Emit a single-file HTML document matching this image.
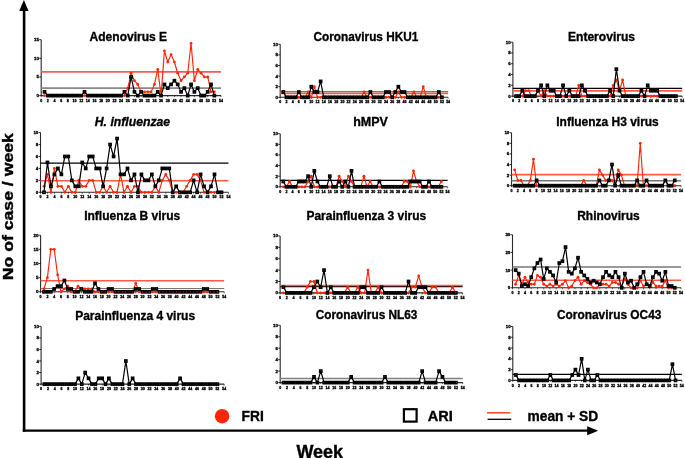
<!DOCTYPE html><html><head><meta charset="utf-8"><style>html,body{margin:0;padding:0;background:#fff;width:685px;height:458px;overflow:hidden}svg{display:block;font-family:"Liberation Sans",sans-serif;will-change:transform}.tl{opacity:0.999;will-change:transform}</style></head><body>
<svg width="685" height="458" viewBox="0 0 685 458">
<rect width="685" height="458" fill="#fff"/>
<path d="M24.1 9 V431.7" fill="none" stroke="#000" stroke-width="2.6"/>
<path d="M22.8 430.6 H589" fill="none" stroke="#000" stroke-width="2.1"/>
<path d="M23.9 0 L28.6 11 L19.2 11 Z" fill="#000"/>
<path d="M598.2 430.7 L587.2 426.2 L587.2 435.2 Z" fill="#000"/>
<text transform="translate(13.2 206.7) rotate(-90)" text-anchor="middle" font-weight="bold" stroke="#000" stroke-width="0.4" font-size="14.6" textLength="147" lengthAdjust="spacingAndGlyphs">No of case / week</text>
<text x="296.5" y="457.6" font-weight="bold" font-size="17.6" stroke="#000" stroke-width="0.4" textLength="46.6" lengthAdjust="spacingAndGlyphs">Week</text>
<circle cx="222.1" cy="416.2" r="7.25" fill="#ff2608"/>
<text x="241.6" y="420.8" font-weight="bold" font-size="14.2" stroke="#000" stroke-width="0.35" textLength="22.2" lengthAdjust="spacingAndGlyphs">FRI</text>
<rect x="403.9" y="409.2" width="12.7" height="12.4" fill="none" stroke="#000" stroke-width="2.2"/>
<text x="427.8" y="420.8" font-weight="bold" font-size="14.2" stroke="#000" stroke-width="0.35" textLength="25" lengthAdjust="spacingAndGlyphs">ARI</text>
<line x1="487" y1="412.8" x2="510.2" y2="412.8" stroke="#ff2608" stroke-width="1.3"/>
<line x1="487.6" y1="419.3" x2="511.3" y2="419.3" stroke="#000" stroke-width="1.3"/>
<text x="527.6" y="420.6" font-weight="bold" font-size="14.2" stroke="#000" stroke-width="0.35" textLength="70.5" lengthAdjust="spacingAndGlyphs">mean + SD</text>
<g><text x="89.6" y="40.7" font-weight="bold" font-size="12.5" stroke="#000" stroke-width="0.35" textLength="77.5" lengthAdjust="spacingAndGlyphs">Adenovirus E</text><path d="M41.2 39.65 V95.6 H221.02" fill="none" stroke="#2a2a2a" stroke-width="1.1"/><line x1="39.2" y1="95.6" x2="41.2" y2="95.6" stroke="#000" stroke-width="0.8"/><text x="39" y="97.1" font-size="4.4" font-weight="bold" stroke="#000" stroke-width="0.3" text-anchor="end">0</text><line x1="39.2" y1="76.95" x2="41.2" y2="76.95" stroke="#000" stroke-width="0.8"/><text x="39" y="78.45" font-size="4.4" font-weight="bold" stroke="#000" stroke-width="0.3" text-anchor="end">5</text><line x1="39.2" y1="58.3" x2="41.2" y2="58.3" stroke="#000" stroke-width="0.8"/><text x="39" y="59.8" font-size="4.4" font-weight="bold" stroke="#000" stroke-width="0.3" text-anchor="end">10</text><line x1="39.2" y1="39.65" x2="41.2" y2="39.65" stroke="#000" stroke-width="0.8"/><text x="39" y="41.15" font-size="4.4" font-weight="bold" stroke="#000" stroke-width="0.3" text-anchor="end">15</text><line x1="41.2" y1="95.6" x2="41.2" y2="97.1" stroke="#000" stroke-width="0.6"/><text x="41.2" y="101.7" font-size="3.6" font-weight="bold" stroke="#000" stroke-width="0.3" text-anchor="middle">0</text><line x1="47.86" y1="95.6" x2="47.86" y2="97.1" stroke="#000" stroke-width="0.6"/><text x="47.86" y="101.7" font-size="3.6" font-weight="bold" stroke="#000" stroke-width="0.3" text-anchor="middle">2</text><line x1="54.52" y1="95.6" x2="54.52" y2="97.1" stroke="#000" stroke-width="0.6"/><text x="54.52" y="101.7" font-size="3.6" font-weight="bold" stroke="#000" stroke-width="0.3" text-anchor="middle">4</text><line x1="61.18" y1="95.6" x2="61.18" y2="97.1" stroke="#000" stroke-width="0.6"/><text x="61.18" y="101.7" font-size="3.6" font-weight="bold" stroke="#000" stroke-width="0.3" text-anchor="middle">6</text><line x1="67.84" y1="95.6" x2="67.84" y2="97.1" stroke="#000" stroke-width="0.6"/><text x="67.84" y="101.7" font-size="3.6" font-weight="bold" stroke="#000" stroke-width="0.3" text-anchor="middle">8</text><line x1="74.5" y1="95.6" x2="74.5" y2="97.1" stroke="#000" stroke-width="0.6"/><text x="74.5" y="101.7" font-size="3.6" font-weight="bold" stroke="#000" stroke-width="0.3" text-anchor="middle">10</text><line x1="81.16" y1="95.6" x2="81.16" y2="97.1" stroke="#000" stroke-width="0.6"/><text x="81.16" y="101.7" font-size="3.6" font-weight="bold" stroke="#000" stroke-width="0.3" text-anchor="middle">12</text><line x1="87.82" y1="95.6" x2="87.82" y2="97.1" stroke="#000" stroke-width="0.6"/><text x="87.82" y="101.7" font-size="3.6" font-weight="bold" stroke="#000" stroke-width="0.3" text-anchor="middle">14</text><line x1="94.48" y1="95.6" x2="94.48" y2="97.1" stroke="#000" stroke-width="0.6"/><text x="94.48" y="101.7" font-size="3.6" font-weight="bold" stroke="#000" stroke-width="0.3" text-anchor="middle">16</text><line x1="101.14" y1="95.6" x2="101.14" y2="97.1" stroke="#000" stroke-width="0.6"/><text x="101.14" y="101.7" font-size="3.6" font-weight="bold" stroke="#000" stroke-width="0.3" text-anchor="middle">18</text><line x1="107.8" y1="95.6" x2="107.8" y2="97.1" stroke="#000" stroke-width="0.6"/><text x="107.8" y="101.7" font-size="3.6" font-weight="bold" stroke="#000" stroke-width="0.3" text-anchor="middle">20</text><line x1="114.46" y1="95.6" x2="114.46" y2="97.1" stroke="#000" stroke-width="0.6"/><text x="114.46" y="101.7" font-size="3.6" font-weight="bold" stroke="#000" stroke-width="0.3" text-anchor="middle">22</text><line x1="121.12" y1="95.6" x2="121.12" y2="97.1" stroke="#000" stroke-width="0.6"/><text x="121.12" y="101.7" font-size="3.6" font-weight="bold" stroke="#000" stroke-width="0.3" text-anchor="middle">24</text><line x1="127.78" y1="95.6" x2="127.78" y2="97.1" stroke="#000" stroke-width="0.6"/><text x="127.78" y="101.7" font-size="3.6" font-weight="bold" stroke="#000" stroke-width="0.3" text-anchor="middle">26</text><line x1="134.44" y1="95.6" x2="134.44" y2="97.1" stroke="#000" stroke-width="0.6"/><text x="134.44" y="101.7" font-size="3.6" font-weight="bold" stroke="#000" stroke-width="0.3" text-anchor="middle">28</text><line x1="141.1" y1="95.6" x2="141.1" y2="97.1" stroke="#000" stroke-width="0.6"/><text x="141.1" y="101.7" font-size="3.6" font-weight="bold" stroke="#000" stroke-width="0.3" text-anchor="middle">30</text><line x1="147.76" y1="95.6" x2="147.76" y2="97.1" stroke="#000" stroke-width="0.6"/><text x="147.76" y="101.7" font-size="3.6" font-weight="bold" stroke="#000" stroke-width="0.3" text-anchor="middle">32</text><line x1="154.42" y1="95.6" x2="154.42" y2="97.1" stroke="#000" stroke-width="0.6"/><text x="154.42" y="101.7" font-size="3.6" font-weight="bold" stroke="#000" stroke-width="0.3" text-anchor="middle">34</text><line x1="161.08" y1="95.6" x2="161.08" y2="97.1" stroke="#000" stroke-width="0.6"/><text x="161.08" y="101.7" font-size="3.6" font-weight="bold" stroke="#000" stroke-width="0.3" text-anchor="middle">36</text><line x1="167.74" y1="95.6" x2="167.74" y2="97.1" stroke="#000" stroke-width="0.6"/><text x="167.74" y="101.7" font-size="3.6" font-weight="bold" stroke="#000" stroke-width="0.3" text-anchor="middle">38</text><line x1="174.4" y1="95.6" x2="174.4" y2="97.1" stroke="#000" stroke-width="0.6"/><text x="174.4" y="101.7" font-size="3.6" font-weight="bold" stroke="#000" stroke-width="0.3" text-anchor="middle">40</text><line x1="181.06" y1="95.6" x2="181.06" y2="97.1" stroke="#000" stroke-width="0.6"/><text x="181.06" y="101.7" font-size="3.6" font-weight="bold" stroke="#000" stroke-width="0.3" text-anchor="middle">42</text><line x1="187.72" y1="95.6" x2="187.72" y2="97.1" stroke="#000" stroke-width="0.6"/><text x="187.72" y="101.7" font-size="3.6" font-weight="bold" stroke="#000" stroke-width="0.3" text-anchor="middle">44</text><line x1="194.38" y1="95.6" x2="194.38" y2="97.1" stroke="#000" stroke-width="0.6"/><text x="194.38" y="101.7" font-size="3.6" font-weight="bold" stroke="#000" stroke-width="0.3" text-anchor="middle">46</text><line x1="201.04" y1="95.6" x2="201.04" y2="97.1" stroke="#000" stroke-width="0.6"/><text x="201.04" y="101.7" font-size="3.6" font-weight="bold" stroke="#000" stroke-width="0.3" text-anchor="middle">48</text><line x1="207.7" y1="95.6" x2="207.7" y2="97.1" stroke="#000" stroke-width="0.6"/><text x="207.7" y="101.7" font-size="3.6" font-weight="bold" stroke="#000" stroke-width="0.3" text-anchor="middle">50</text><line x1="214.36" y1="95.6" x2="214.36" y2="97.1" stroke="#000" stroke-width="0.6"/><text x="214.36" y="101.7" font-size="3.6" font-weight="bold" stroke="#000" stroke-width="0.3" text-anchor="middle">52</text><line x1="221.02" y1="95.6" x2="221.02" y2="97.1" stroke="#000" stroke-width="0.6"/><text x="221.02" y="101.7" font-size="3.6" font-weight="bold" stroke="#000" stroke-width="0.3" text-anchor="middle">54</text><line x1="41.2" y1="71.9" x2="221.02" y2="71.9" stroke="#ff5a48" stroke-width="1.6"/><line x1="41.2" y1="88.1" x2="221.02" y2="88.1" stroke="#888" stroke-width="1.7"/><polyline points="44.53,95.6 47.86,95.6 51.19,95.6 54.52,95.6 57.85,95.6 61.18,95.6 64.51,95.6 67.84,95.6 71.17,95.6 74.5,95.6 77.83,95.6 81.16,95.6 84.49,95.6 87.82,95.6 91.15,95.6 94.48,95.6 97.81,95.6 101.14,95.6 104.47,95.6 107.8,95.6 111.13,95.6 114.46,95.6 117.79,95.6 121.12,95.6 124.45,95.6 127.78,88.14 131.11,73.22 134.44,80.68 137.77,84.41 141.1,91.87 144.43,91.87 147.76,91.87 151.09,91.87 154.42,84.41 157.75,69.49 161.08,95.6 164.41,50.84 167.74,62.03 171.07,54.57 174.4,62.03 177.73,73.22 181.06,80.68 184.39,76.95 187.72,73.22 191.05,43.38 194.38,80.68 197.71,69.49 201.04,73.22 204.37,76.95 207.7,76.95 211.03,91.87 214.36,91.87" fill="none" stroke="#ff2608" stroke-width="1.15" stroke-linejoin="round"/><circle cx="44.53" cy="95.6" r="1.4" fill="#ff2608"/><circle cx="47.86" cy="95.6" r="1.4" fill="#ff2608"/><circle cx="51.19" cy="95.6" r="1.4" fill="#ff2608"/><circle cx="54.52" cy="95.6" r="1.4" fill="#ff2608"/><circle cx="57.85" cy="95.6" r="1.4" fill="#ff2608"/><circle cx="61.18" cy="95.6" r="1.4" fill="#ff2608"/><circle cx="64.51" cy="95.6" r="1.4" fill="#ff2608"/><circle cx="67.84" cy="95.6" r="1.4" fill="#ff2608"/><circle cx="71.17" cy="95.6" r="1.4" fill="#ff2608"/><circle cx="74.5" cy="95.6" r="1.4" fill="#ff2608"/><circle cx="77.83" cy="95.6" r="1.4" fill="#ff2608"/><circle cx="81.16" cy="95.6" r="1.4" fill="#ff2608"/><circle cx="84.49" cy="95.6" r="1.4" fill="#ff2608"/><circle cx="87.82" cy="95.6" r="1.4" fill="#ff2608"/><circle cx="91.15" cy="95.6" r="1.4" fill="#ff2608"/><circle cx="94.48" cy="95.6" r="1.4" fill="#ff2608"/><circle cx="97.81" cy="95.6" r="1.4" fill="#ff2608"/><circle cx="101.14" cy="95.6" r="1.4" fill="#ff2608"/><circle cx="104.47" cy="95.6" r="1.4" fill="#ff2608"/><circle cx="107.8" cy="95.6" r="1.4" fill="#ff2608"/><circle cx="111.13" cy="95.6" r="1.4" fill="#ff2608"/><circle cx="114.46" cy="95.6" r="1.4" fill="#ff2608"/><circle cx="117.79" cy="95.6" r="1.4" fill="#ff2608"/><circle cx="121.12" cy="95.6" r="1.4" fill="#ff2608"/><circle cx="124.45" cy="95.6" r="1.4" fill="#ff2608"/><circle cx="127.78" cy="88.14" r="1.4" fill="#ff2608"/><circle cx="131.11" cy="73.22" r="1.4" fill="#ff2608"/><circle cx="134.44" cy="80.68" r="1.4" fill="#ff2608"/><circle cx="137.77" cy="84.41" r="1.4" fill="#ff2608"/><circle cx="141.1" cy="91.87" r="1.4" fill="#ff2608"/><circle cx="144.43" cy="91.87" r="1.4" fill="#ff2608"/><circle cx="147.76" cy="91.87" r="1.4" fill="#ff2608"/><circle cx="151.09" cy="91.87" r="1.4" fill="#ff2608"/><circle cx="154.42" cy="84.41" r="1.4" fill="#ff2608"/><circle cx="157.75" cy="69.49" r="1.4" fill="#ff2608"/><circle cx="161.08" cy="95.6" r="1.4" fill="#ff2608"/><circle cx="164.41" cy="50.84" r="1.4" fill="#ff2608"/><circle cx="167.74" cy="62.03" r="1.4" fill="#ff2608"/><circle cx="171.07" cy="54.57" r="1.4" fill="#ff2608"/><circle cx="174.4" cy="62.03" r="1.4" fill="#ff2608"/><circle cx="177.73" cy="73.22" r="1.4" fill="#ff2608"/><circle cx="181.06" cy="80.68" r="1.4" fill="#ff2608"/><circle cx="184.39" cy="76.95" r="1.4" fill="#ff2608"/><circle cx="187.72" cy="73.22" r="1.4" fill="#ff2608"/><circle cx="191.05" cy="43.38" r="1.4" fill="#ff2608"/><circle cx="194.38" cy="80.68" r="1.4" fill="#ff2608"/><circle cx="197.71" cy="69.49" r="1.4" fill="#ff2608"/><circle cx="201.04" cy="73.22" r="1.4" fill="#ff2608"/><circle cx="204.37" cy="76.95" r="1.4" fill="#ff2608"/><circle cx="207.7" cy="76.95" r="1.4" fill="#ff2608"/><circle cx="211.03" cy="91.87" r="1.4" fill="#ff2608"/><circle cx="214.36" cy="91.87" r="1.4" fill="#ff2608"/><rect x="43.43" y="90.77" width="2.2" height="2.2" fill="#fff" stroke="#000" stroke-width="1.5"/><rect x="46.76" y="94.5" width="2.2" height="2.2" fill="#fff" stroke="#000" stroke-width="1.5"/><rect x="50.09" y="94.5" width="2.2" height="2.2" fill="#fff" stroke="#000" stroke-width="1.5"/><rect x="53.42" y="94.5" width="2.2" height="2.2" fill="#fff" stroke="#000" stroke-width="1.5"/><rect x="56.75" y="94.5" width="2.2" height="2.2" fill="#fff" stroke="#000" stroke-width="1.5"/><rect x="60.08" y="94.5" width="2.2" height="2.2" fill="#fff" stroke="#000" stroke-width="1.5"/><rect x="63.41" y="94.5" width="2.2" height="2.2" fill="#fff" stroke="#000" stroke-width="1.5"/><rect x="66.74" y="94.5" width="2.2" height="2.2" fill="#fff" stroke="#000" stroke-width="1.5"/><rect x="70.07" y="94.5" width="2.2" height="2.2" fill="#fff" stroke="#000" stroke-width="1.5"/><rect x="73.4" y="94.5" width="2.2" height="2.2" fill="#fff" stroke="#000" stroke-width="1.5"/><rect x="76.73" y="94.5" width="2.2" height="2.2" fill="#fff" stroke="#000" stroke-width="1.5"/><rect x="80.06" y="94.5" width="2.2" height="2.2" fill="#fff" stroke="#000" stroke-width="1.5"/><rect x="83.39" y="90.77" width="2.2" height="2.2" fill="#fff" stroke="#000" stroke-width="1.5"/><rect x="86.72" y="94.5" width="2.2" height="2.2" fill="#fff" stroke="#000" stroke-width="1.5"/><rect x="90.05" y="94.5" width="2.2" height="2.2" fill="#fff" stroke="#000" stroke-width="1.5"/><rect x="93.38" y="94.5" width="2.2" height="2.2" fill="#fff" stroke="#000" stroke-width="1.5"/><rect x="96.71" y="94.5" width="2.2" height="2.2" fill="#fff" stroke="#000" stroke-width="1.5"/><rect x="100.04" y="94.5" width="2.2" height="2.2" fill="#fff" stroke="#000" stroke-width="1.5"/><rect x="103.37" y="94.5" width="2.2" height="2.2" fill="#fff" stroke="#000" stroke-width="1.5"/><rect x="106.7" y="94.5" width="2.2" height="2.2" fill="#fff" stroke="#000" stroke-width="1.5"/><rect x="110.03" y="94.5" width="2.2" height="2.2" fill="#fff" stroke="#000" stroke-width="1.5"/><rect x="113.36" y="94.5" width="2.2" height="2.2" fill="#fff" stroke="#000" stroke-width="1.5"/><rect x="116.69" y="94.5" width="2.2" height="2.2" fill="#fff" stroke="#000" stroke-width="1.5"/><rect x="120.02" y="94.5" width="2.2" height="2.2" fill="#fff" stroke="#000" stroke-width="1.5"/><rect x="123.35" y="90.77" width="2.2" height="2.2" fill="#fff" stroke="#000" stroke-width="1.5"/><rect x="126.68" y="94.5" width="2.2" height="2.2" fill="#fff" stroke="#000" stroke-width="1.5"/><rect x="130.01" y="75.85" width="2.2" height="2.2" fill="#fff" stroke="#000" stroke-width="1.5"/><rect x="133.34" y="90.77" width="2.2" height="2.2" fill="#fff" stroke="#000" stroke-width="1.5"/><rect x="136.67" y="94.5" width="2.2" height="2.2" fill="#fff" stroke="#000" stroke-width="1.5"/><rect x="140" y="90.77" width="2.2" height="2.2" fill="#fff" stroke="#000" stroke-width="1.5"/><rect x="143.33" y="94.5" width="2.2" height="2.2" fill="#fff" stroke="#000" stroke-width="1.5"/><rect x="146.66" y="94.5" width="2.2" height="2.2" fill="#fff" stroke="#000" stroke-width="1.5"/><rect x="149.99" y="94.5" width="2.2" height="2.2" fill="#fff" stroke="#000" stroke-width="1.5"/><rect x="153.32" y="94.5" width="2.2" height="2.2" fill="#fff" stroke="#000" stroke-width="1.5"/><rect x="156.65" y="90.77" width="2.2" height="2.2" fill="#fff" stroke="#000" stroke-width="1.5"/><rect x="159.98" y="94.5" width="2.2" height="2.2" fill="#fff" stroke="#000" stroke-width="1.5"/><rect x="163.31" y="83.31" width="2.2" height="2.2" fill="#fff" stroke="#000" stroke-width="1.5"/><rect x="166.64" y="87.04" width="2.2" height="2.2" fill="#fff" stroke="#000" stroke-width="1.5"/><rect x="169.97" y="83.31" width="2.2" height="2.2" fill="#fff" stroke="#000" stroke-width="1.5"/><rect x="173.3" y="79.58" width="2.2" height="2.2" fill="#fff" stroke="#000" stroke-width="1.5"/><rect x="176.63" y="83.31" width="2.2" height="2.2" fill="#fff" stroke="#000" stroke-width="1.5"/><rect x="179.96" y="90.77" width="2.2" height="2.2" fill="#fff" stroke="#000" stroke-width="1.5"/><rect x="183.29" y="87.04" width="2.2" height="2.2" fill="#fff" stroke="#000" stroke-width="1.5"/><rect x="186.62" y="94.5" width="2.2" height="2.2" fill="#fff" stroke="#000" stroke-width="1.5"/><rect x="189.95" y="83.31" width="2.2" height="2.2" fill="#fff" stroke="#000" stroke-width="1.5"/><rect x="193.28" y="90.77" width="2.2" height="2.2" fill="#fff" stroke="#000" stroke-width="1.5"/><rect x="196.61" y="87.04" width="2.2" height="2.2" fill="#fff" stroke="#000" stroke-width="1.5"/><rect x="199.94" y="94.5" width="2.2" height="2.2" fill="#fff" stroke="#000" stroke-width="1.5"/><rect x="203.27" y="94.5" width="2.2" height="2.2" fill="#fff" stroke="#000" stroke-width="1.5"/><rect x="206.6" y="90.77" width="2.2" height="2.2" fill="#fff" stroke="#000" stroke-width="1.5"/><rect x="209.93" y="83.31" width="2.2" height="2.2" fill="#fff" stroke="#000" stroke-width="1.5"/><rect x="213.26" y="94.5" width="2.2" height="2.2" fill="#fff" stroke="#000" stroke-width="1.5"/><polyline points="44.53,91.87 47.86,95.6 51.19,95.6 54.52,95.6 57.85,95.6 61.18,95.6 64.51,95.6 67.84,95.6 71.17,95.6 74.5,95.6 77.83,95.6 81.16,95.6 84.49,91.87 87.82,95.6 91.15,95.6 94.48,95.6 97.81,95.6 101.14,95.6 104.47,95.6 107.8,95.6 111.13,95.6 114.46,95.6 117.79,95.6 121.12,95.6 124.45,91.87 127.78,95.6 131.11,76.95 134.44,91.87 137.77,95.6 141.1,91.87 144.43,95.6 147.76,95.6 151.09,95.6 154.42,95.6 157.75,91.87 161.08,95.6 164.41,84.41 167.74,88.14 171.07,84.41 174.4,80.68 177.73,84.41 181.06,91.87 184.39,88.14 187.72,95.6 191.05,84.41 194.38,91.87 197.71,88.14 201.04,95.6 204.37,95.6 207.7,91.87 211.03,84.41 214.36,95.6" fill="none" stroke="#000" stroke-width="1.2" stroke-linejoin="round"/></g>
<g><text x="313.6" y="40.8" font-weight="bold" font-size="12.5" stroke="#000" stroke-width="0.35" textLength="104.6" lengthAdjust="spacingAndGlyphs">Coronavirus HKU1</text><path d="M280.2 44.3 V97.3 H448.14" fill="none" stroke="#2a2a2a" stroke-width="1.1"/><line x1="278.2" y1="97.3" x2="280.2" y2="97.3" stroke="#000" stroke-width="0.8"/><text x="278" y="98.8" font-size="4.4" font-weight="bold" stroke="#000" stroke-width="0.3" text-anchor="end">0</text><line x1="278.2" y1="86.7" x2="280.2" y2="86.7" stroke="#000" stroke-width="0.8"/><text x="278" y="88.2" font-size="4.4" font-weight="bold" stroke="#000" stroke-width="0.3" text-anchor="end">2</text><line x1="278.2" y1="76.1" x2="280.2" y2="76.1" stroke="#000" stroke-width="0.8"/><text x="278" y="77.6" font-size="4.4" font-weight="bold" stroke="#000" stroke-width="0.3" text-anchor="end">4</text><line x1="278.2" y1="65.5" x2="280.2" y2="65.5" stroke="#000" stroke-width="0.8"/><text x="278" y="67" font-size="4.4" font-weight="bold" stroke="#000" stroke-width="0.3" text-anchor="end">6</text><line x1="278.2" y1="54.9" x2="280.2" y2="54.9" stroke="#000" stroke-width="0.8"/><text x="278" y="56.4" font-size="4.4" font-weight="bold" stroke="#000" stroke-width="0.3" text-anchor="end">8</text><line x1="278.2" y1="44.3" x2="280.2" y2="44.3" stroke="#000" stroke-width="0.8"/><text x="278" y="45.8" font-size="4.4" font-weight="bold" stroke="#000" stroke-width="0.3" text-anchor="end">10</text><line x1="280.2" y1="97.3" x2="280.2" y2="98.8" stroke="#000" stroke-width="0.6"/><text x="280.2" y="103.4" font-size="3.6" font-weight="bold" stroke="#000" stroke-width="0.3" text-anchor="middle">0</text><line x1="286.42" y1="97.3" x2="286.42" y2="98.8" stroke="#000" stroke-width="0.6"/><text x="286.42" y="103.4" font-size="3.6" font-weight="bold" stroke="#000" stroke-width="0.3" text-anchor="middle">2</text><line x1="292.64" y1="97.3" x2="292.64" y2="98.8" stroke="#000" stroke-width="0.6"/><text x="292.64" y="103.4" font-size="3.6" font-weight="bold" stroke="#000" stroke-width="0.3" text-anchor="middle">4</text><line x1="298.86" y1="97.3" x2="298.86" y2="98.8" stroke="#000" stroke-width="0.6"/><text x="298.86" y="103.4" font-size="3.6" font-weight="bold" stroke="#000" stroke-width="0.3" text-anchor="middle">6</text><line x1="305.08" y1="97.3" x2="305.08" y2="98.8" stroke="#000" stroke-width="0.6"/><text x="305.08" y="103.4" font-size="3.6" font-weight="bold" stroke="#000" stroke-width="0.3" text-anchor="middle">8</text><line x1="311.3" y1="97.3" x2="311.3" y2="98.8" stroke="#000" stroke-width="0.6"/><text x="311.3" y="103.4" font-size="3.6" font-weight="bold" stroke="#000" stroke-width="0.3" text-anchor="middle">10</text><line x1="317.52" y1="97.3" x2="317.52" y2="98.8" stroke="#000" stroke-width="0.6"/><text x="317.52" y="103.4" font-size="3.6" font-weight="bold" stroke="#000" stroke-width="0.3" text-anchor="middle">12</text><line x1="323.74" y1="97.3" x2="323.74" y2="98.8" stroke="#000" stroke-width="0.6"/><text x="323.74" y="103.4" font-size="3.6" font-weight="bold" stroke="#000" stroke-width="0.3" text-anchor="middle">14</text><line x1="329.96" y1="97.3" x2="329.96" y2="98.8" stroke="#000" stroke-width="0.6"/><text x="329.96" y="103.4" font-size="3.6" font-weight="bold" stroke="#000" stroke-width="0.3" text-anchor="middle">16</text><line x1="336.18" y1="97.3" x2="336.18" y2="98.8" stroke="#000" stroke-width="0.6"/><text x="336.18" y="103.4" font-size="3.6" font-weight="bold" stroke="#000" stroke-width="0.3" text-anchor="middle">18</text><line x1="342.4" y1="97.3" x2="342.4" y2="98.8" stroke="#000" stroke-width="0.6"/><text x="342.4" y="103.4" font-size="3.6" font-weight="bold" stroke="#000" stroke-width="0.3" text-anchor="middle">20</text><line x1="348.62" y1="97.3" x2="348.62" y2="98.8" stroke="#000" stroke-width="0.6"/><text x="348.62" y="103.4" font-size="3.6" font-weight="bold" stroke="#000" stroke-width="0.3" text-anchor="middle">22</text><line x1="354.84" y1="97.3" x2="354.84" y2="98.8" stroke="#000" stroke-width="0.6"/><text x="354.84" y="103.4" font-size="3.6" font-weight="bold" stroke="#000" stroke-width="0.3" text-anchor="middle">24</text><line x1="361.06" y1="97.3" x2="361.06" y2="98.8" stroke="#000" stroke-width="0.6"/><text x="361.06" y="103.4" font-size="3.6" font-weight="bold" stroke="#000" stroke-width="0.3" text-anchor="middle">26</text><line x1="367.28" y1="97.3" x2="367.28" y2="98.8" stroke="#000" stroke-width="0.6"/><text x="367.28" y="103.4" font-size="3.6" font-weight="bold" stroke="#000" stroke-width="0.3" text-anchor="middle">28</text><line x1="373.5" y1="97.3" x2="373.5" y2="98.8" stroke="#000" stroke-width="0.6"/><text x="373.5" y="103.4" font-size="3.6" font-weight="bold" stroke="#000" stroke-width="0.3" text-anchor="middle">30</text><line x1="379.72" y1="97.3" x2="379.72" y2="98.8" stroke="#000" stroke-width="0.6"/><text x="379.72" y="103.4" font-size="3.6" font-weight="bold" stroke="#000" stroke-width="0.3" text-anchor="middle">32</text><line x1="385.94" y1="97.3" x2="385.94" y2="98.8" stroke="#000" stroke-width="0.6"/><text x="385.94" y="103.4" font-size="3.6" font-weight="bold" stroke="#000" stroke-width="0.3" text-anchor="middle">34</text><line x1="392.16" y1="97.3" x2="392.16" y2="98.8" stroke="#000" stroke-width="0.6"/><text x="392.16" y="103.4" font-size="3.6" font-weight="bold" stroke="#000" stroke-width="0.3" text-anchor="middle">36</text><line x1="398.38" y1="97.3" x2="398.38" y2="98.8" stroke="#000" stroke-width="0.6"/><text x="398.38" y="103.4" font-size="3.6" font-weight="bold" stroke="#000" stroke-width="0.3" text-anchor="middle">38</text><line x1="404.6" y1="97.3" x2="404.6" y2="98.8" stroke="#000" stroke-width="0.6"/><text x="404.6" y="103.4" font-size="3.6" font-weight="bold" stroke="#000" stroke-width="0.3" text-anchor="middle">40</text><line x1="410.82" y1="97.3" x2="410.82" y2="98.8" stroke="#000" stroke-width="0.6"/><text x="410.82" y="103.4" font-size="3.6" font-weight="bold" stroke="#000" stroke-width="0.3" text-anchor="middle">42</text><line x1="417.04" y1="97.3" x2="417.04" y2="98.8" stroke="#000" stroke-width="0.6"/><text x="417.04" y="103.4" font-size="3.6" font-weight="bold" stroke="#000" stroke-width="0.3" text-anchor="middle">44</text><line x1="423.26" y1="97.3" x2="423.26" y2="98.8" stroke="#000" stroke-width="0.6"/><text x="423.26" y="103.4" font-size="3.6" font-weight="bold" stroke="#000" stroke-width="0.3" text-anchor="middle">46</text><line x1="429.48" y1="97.3" x2="429.48" y2="98.8" stroke="#000" stroke-width="0.6"/><text x="429.48" y="103.4" font-size="3.6" font-weight="bold" stroke="#000" stroke-width="0.3" text-anchor="middle">48</text><line x1="435.7" y1="97.3" x2="435.7" y2="98.8" stroke="#000" stroke-width="0.6"/><text x="435.7" y="103.4" font-size="3.6" font-weight="bold" stroke="#000" stroke-width="0.3" text-anchor="middle">50</text><line x1="441.92" y1="97.3" x2="441.92" y2="98.8" stroke="#000" stroke-width="0.6"/><text x="441.92" y="103.4" font-size="3.6" font-weight="bold" stroke="#000" stroke-width="0.3" text-anchor="middle">52</text><line x1="448.14" y1="97.3" x2="448.14" y2="98.8" stroke="#000" stroke-width="0.6"/><text x="448.14" y="103.4" font-size="3.6" font-weight="bold" stroke="#000" stroke-width="0.3" text-anchor="middle">54</text><line x1="280.2" y1="93.4" x2="448.14" y2="93.4" stroke="#ff5a48" stroke-width="1.6"/><line x1="280.2" y1="91.6" x2="448.14" y2="91.6" stroke="#777" stroke-width="1.2"/><polyline points="283.31,92 286.42,97.3 289.53,97.3 292.64,97.3 295.75,97.3 298.86,97.3 301.97,97.3 305.08,97.3 308.19,92 311.3,97.3 314.41,86.7 317.52,97.3 320.63,97.3 323.74,97.3 326.85,97.3 329.96,97.3 333.07,97.3 336.18,97.3 339.29,97.3 342.4,97.3 345.51,97.3 348.62,97.3 351.73,97.3 354.84,97.3 357.95,97.3 361.06,97.3 364.17,92 367.28,97.3 370.39,97.3 373.5,97.3 376.61,97.3 379.72,97.3 382.83,97.3 385.94,97.3 389.05,97.3 392.16,97.3 395.27,97.3 398.38,92 401.49,97.3 404.6,97.3 407.71,97.3 410.82,97.3 413.93,92 417.04,97.3 420.15,97.3 423.26,86.7 426.37,97.3 429.48,97.3 432.59,97.3 435.7,97.3 438.81,97.3 441.92,97.3" fill="none" stroke="#ff2608" stroke-width="1.15" stroke-linejoin="round"/><circle cx="283.31" cy="92" r="1.4" fill="#ff2608"/><circle cx="286.42" cy="97.3" r="1.4" fill="#ff2608"/><circle cx="289.53" cy="97.3" r="1.4" fill="#ff2608"/><circle cx="292.64" cy="97.3" r="1.4" fill="#ff2608"/><circle cx="295.75" cy="97.3" r="1.4" fill="#ff2608"/><circle cx="298.86" cy="97.3" r="1.4" fill="#ff2608"/><circle cx="301.97" cy="97.3" r="1.4" fill="#ff2608"/><circle cx="305.08" cy="97.3" r="1.4" fill="#ff2608"/><circle cx="308.19" cy="92" r="1.4" fill="#ff2608"/><circle cx="311.3" cy="97.3" r="1.4" fill="#ff2608"/><circle cx="314.41" cy="86.7" r="1.4" fill="#ff2608"/><circle cx="317.52" cy="97.3" r="1.4" fill="#ff2608"/><circle cx="320.63" cy="97.3" r="1.4" fill="#ff2608"/><circle cx="323.74" cy="97.3" r="1.4" fill="#ff2608"/><circle cx="326.85" cy="97.3" r="1.4" fill="#ff2608"/><circle cx="329.96" cy="97.3" r="1.4" fill="#ff2608"/><circle cx="333.07" cy="97.3" r="1.4" fill="#ff2608"/><circle cx="336.18" cy="97.3" r="1.4" fill="#ff2608"/><circle cx="339.29" cy="97.3" r="1.4" fill="#ff2608"/><circle cx="342.4" cy="97.3" r="1.4" fill="#ff2608"/><circle cx="345.51" cy="97.3" r="1.4" fill="#ff2608"/><circle cx="348.62" cy="97.3" r="1.4" fill="#ff2608"/><circle cx="351.73" cy="97.3" r="1.4" fill="#ff2608"/><circle cx="354.84" cy="97.3" r="1.4" fill="#ff2608"/><circle cx="357.95" cy="97.3" r="1.4" fill="#ff2608"/><circle cx="361.06" cy="97.3" r="1.4" fill="#ff2608"/><circle cx="364.17" cy="92" r="1.4" fill="#ff2608"/><circle cx="367.28" cy="97.3" r="1.4" fill="#ff2608"/><circle cx="370.39" cy="97.3" r="1.4" fill="#ff2608"/><circle cx="373.5" cy="97.3" r="1.4" fill="#ff2608"/><circle cx="376.61" cy="97.3" r="1.4" fill="#ff2608"/><circle cx="379.72" cy="97.3" r="1.4" fill="#ff2608"/><circle cx="382.83" cy="97.3" r="1.4" fill="#ff2608"/><circle cx="385.94" cy="97.3" r="1.4" fill="#ff2608"/><circle cx="389.05" cy="97.3" r="1.4" fill="#ff2608"/><circle cx="392.16" cy="97.3" r="1.4" fill="#ff2608"/><circle cx="395.27" cy="97.3" r="1.4" fill="#ff2608"/><circle cx="398.38" cy="92" r="1.4" fill="#ff2608"/><circle cx="401.49" cy="97.3" r="1.4" fill="#ff2608"/><circle cx="404.6" cy="97.3" r="1.4" fill="#ff2608"/><circle cx="407.71" cy="97.3" r="1.4" fill="#ff2608"/><circle cx="410.82" cy="97.3" r="1.4" fill="#ff2608"/><circle cx="413.93" cy="92" r="1.4" fill="#ff2608"/><circle cx="417.04" cy="97.3" r="1.4" fill="#ff2608"/><circle cx="420.15" cy="97.3" r="1.4" fill="#ff2608"/><circle cx="423.26" cy="86.7" r="1.4" fill="#ff2608"/><circle cx="426.37" cy="97.3" r="1.4" fill="#ff2608"/><circle cx="429.48" cy="97.3" r="1.4" fill="#ff2608"/><circle cx="432.59" cy="97.3" r="1.4" fill="#ff2608"/><circle cx="435.7" cy="97.3" r="1.4" fill="#ff2608"/><circle cx="438.81" cy="97.3" r="1.4" fill="#ff2608"/><circle cx="441.92" cy="97.3" r="1.4" fill="#ff2608"/><rect x="282.21" y="90.9" width="2.2" height="2.2" fill="#fff" stroke="#000" stroke-width="1.5"/><rect x="285.32" y="96.2" width="2.2" height="2.2" fill="#fff" stroke="#000" stroke-width="1.5"/><rect x="288.43" y="96.2" width="2.2" height="2.2" fill="#fff" stroke="#000" stroke-width="1.5"/><rect x="291.54" y="96.2" width="2.2" height="2.2" fill="#fff" stroke="#000" stroke-width="1.5"/><rect x="294.65" y="96.2" width="2.2" height="2.2" fill="#fff" stroke="#000" stroke-width="1.5"/><rect x="297.76" y="90.9" width="2.2" height="2.2" fill="#fff" stroke="#000" stroke-width="1.5"/><rect x="300.87" y="96.2" width="2.2" height="2.2" fill="#fff" stroke="#000" stroke-width="1.5"/><rect x="303.98" y="96.2" width="2.2" height="2.2" fill="#fff" stroke="#000" stroke-width="1.5"/><rect x="307.09" y="96.2" width="2.2" height="2.2" fill="#fff" stroke="#000" stroke-width="1.5"/><rect x="310.2" y="85.6" width="2.2" height="2.2" fill="#fff" stroke="#000" stroke-width="1.5"/><rect x="313.31" y="90.9" width="2.2" height="2.2" fill="#fff" stroke="#000" stroke-width="1.5"/><rect x="316.42" y="90.9" width="2.2" height="2.2" fill="#fff" stroke="#000" stroke-width="1.5"/><rect x="319.53" y="80.3" width="2.2" height="2.2" fill="#fff" stroke="#000" stroke-width="1.5"/><rect x="322.64" y="96.2" width="2.2" height="2.2" fill="#fff" stroke="#000" stroke-width="1.5"/><rect x="325.75" y="96.2" width="2.2" height="2.2" fill="#fff" stroke="#000" stroke-width="1.5"/><rect x="328.86" y="96.2" width="2.2" height="2.2" fill="#fff" stroke="#000" stroke-width="1.5"/><rect x="331.97" y="96.2" width="2.2" height="2.2" fill="#fff" stroke="#000" stroke-width="1.5"/><rect x="335.08" y="96.2" width="2.2" height="2.2" fill="#fff" stroke="#000" stroke-width="1.5"/><rect x="338.19" y="96.2" width="2.2" height="2.2" fill="#fff" stroke="#000" stroke-width="1.5"/><rect x="341.3" y="96.2" width="2.2" height="2.2" fill="#fff" stroke="#000" stroke-width="1.5"/><rect x="344.41" y="96.2" width="2.2" height="2.2" fill="#fff" stroke="#000" stroke-width="1.5"/><rect x="347.52" y="96.2" width="2.2" height="2.2" fill="#fff" stroke="#000" stroke-width="1.5"/><rect x="350.63" y="96.2" width="2.2" height="2.2" fill="#fff" stroke="#000" stroke-width="1.5"/><rect x="353.74" y="96.2" width="2.2" height="2.2" fill="#fff" stroke="#000" stroke-width="1.5"/><rect x="356.85" y="96.2" width="2.2" height="2.2" fill="#fff" stroke="#000" stroke-width="1.5"/><rect x="359.96" y="96.2" width="2.2" height="2.2" fill="#fff" stroke="#000" stroke-width="1.5"/><rect x="363.07" y="96.2" width="2.2" height="2.2" fill="#fff" stroke="#000" stroke-width="1.5"/><rect x="366.18" y="96.2" width="2.2" height="2.2" fill="#fff" stroke="#000" stroke-width="1.5"/><rect x="369.29" y="90.9" width="2.2" height="2.2" fill="#fff" stroke="#000" stroke-width="1.5"/><rect x="372.4" y="96.2" width="2.2" height="2.2" fill="#fff" stroke="#000" stroke-width="1.5"/><rect x="375.51" y="96.2" width="2.2" height="2.2" fill="#fff" stroke="#000" stroke-width="1.5"/><rect x="378.62" y="96.2" width="2.2" height="2.2" fill="#fff" stroke="#000" stroke-width="1.5"/><rect x="381.73" y="96.2" width="2.2" height="2.2" fill="#fff" stroke="#000" stroke-width="1.5"/><rect x="384.84" y="90.9" width="2.2" height="2.2" fill="#fff" stroke="#000" stroke-width="1.5"/><rect x="387.95" y="90.9" width="2.2" height="2.2" fill="#fff" stroke="#000" stroke-width="1.5"/><rect x="391.06" y="96.2" width="2.2" height="2.2" fill="#fff" stroke="#000" stroke-width="1.5"/><rect x="394.17" y="90.9" width="2.2" height="2.2" fill="#fff" stroke="#000" stroke-width="1.5"/><rect x="397.28" y="85.6" width="2.2" height="2.2" fill="#fff" stroke="#000" stroke-width="1.5"/><rect x="400.39" y="90.9" width="2.2" height="2.2" fill="#fff" stroke="#000" stroke-width="1.5"/><rect x="403.5" y="90.9" width="2.2" height="2.2" fill="#fff" stroke="#000" stroke-width="1.5"/><rect x="406.61" y="96.2" width="2.2" height="2.2" fill="#fff" stroke="#000" stroke-width="1.5"/><rect x="409.72" y="96.2" width="2.2" height="2.2" fill="#fff" stroke="#000" stroke-width="1.5"/><rect x="412.83" y="96.2" width="2.2" height="2.2" fill="#fff" stroke="#000" stroke-width="1.5"/><rect x="415.94" y="96.2" width="2.2" height="2.2" fill="#fff" stroke="#000" stroke-width="1.5"/><rect x="419.05" y="96.2" width="2.2" height="2.2" fill="#fff" stroke="#000" stroke-width="1.5"/><rect x="422.16" y="96.2" width="2.2" height="2.2" fill="#fff" stroke="#000" stroke-width="1.5"/><rect x="425.27" y="96.2" width="2.2" height="2.2" fill="#fff" stroke="#000" stroke-width="1.5"/><rect x="428.38" y="96.2" width="2.2" height="2.2" fill="#fff" stroke="#000" stroke-width="1.5"/><rect x="431.49" y="96.2" width="2.2" height="2.2" fill="#fff" stroke="#000" stroke-width="1.5"/><rect x="434.6" y="96.2" width="2.2" height="2.2" fill="#fff" stroke="#000" stroke-width="1.5"/><rect x="437.71" y="90.9" width="2.2" height="2.2" fill="#fff" stroke="#000" stroke-width="1.5"/><rect x="440.82" y="96.2" width="2.2" height="2.2" fill="#fff" stroke="#000" stroke-width="1.5"/><polyline points="283.31,92 286.42,97.3 289.53,97.3 292.64,97.3 295.75,97.3 298.86,92 301.97,97.3 305.08,97.3 308.19,97.3 311.3,86.7 314.41,92 317.52,92 320.63,81.4 323.74,97.3 326.85,97.3 329.96,97.3 333.07,97.3 336.18,97.3 339.29,97.3 342.4,97.3 345.51,97.3 348.62,97.3 351.73,97.3 354.84,97.3 357.95,97.3 361.06,97.3 364.17,97.3 367.28,97.3 370.39,92 373.5,97.3 376.61,97.3 379.72,97.3 382.83,97.3 385.94,92 389.05,92 392.16,97.3 395.27,92 398.38,86.7 401.49,92 404.6,92 407.71,97.3 410.82,97.3 413.93,97.3 417.04,97.3 420.15,97.3 423.26,97.3 426.37,97.3 429.48,97.3 432.59,97.3 435.7,97.3 438.81,92 441.92,97.3" fill="none" stroke="#000" stroke-width="1.2" stroke-linejoin="round"/></g>
<g><text x="568" y="40.8" font-weight="bold" font-size="12.5" stroke="#000" stroke-width="0.35" textLength="67" lengthAdjust="spacingAndGlyphs">Enterovirus</text><path d="M512.9 42.2 V96.1 H682.19" fill="none" stroke="#2a2a2a" stroke-width="1.1"/><line x1="510.9" y1="96.1" x2="512.9" y2="96.1" stroke="#000" stroke-width="0.8"/><text x="510.7" y="97.6" font-size="4.4" font-weight="bold" stroke="#000" stroke-width="0.3" text-anchor="end">0</text><line x1="510.9" y1="85.32" x2="512.9" y2="85.32" stroke="#000" stroke-width="0.8"/><text x="510.7" y="86.82" font-size="4.4" font-weight="bold" stroke="#000" stroke-width="0.3" text-anchor="end">2</text><line x1="510.9" y1="74.54" x2="512.9" y2="74.54" stroke="#000" stroke-width="0.8"/><text x="510.7" y="76.04" font-size="4.4" font-weight="bold" stroke="#000" stroke-width="0.3" text-anchor="end">4</text><line x1="510.9" y1="63.76" x2="512.9" y2="63.76" stroke="#000" stroke-width="0.8"/><text x="510.7" y="65.26" font-size="4.4" font-weight="bold" stroke="#000" stroke-width="0.3" text-anchor="end">6</text><line x1="510.9" y1="52.98" x2="512.9" y2="52.98" stroke="#000" stroke-width="0.8"/><text x="510.7" y="54.48" font-size="4.4" font-weight="bold" stroke="#000" stroke-width="0.3" text-anchor="end">8</text><line x1="510.9" y1="42.2" x2="512.9" y2="42.2" stroke="#000" stroke-width="0.8"/><text x="510.7" y="43.7" font-size="4.4" font-weight="bold" stroke="#000" stroke-width="0.3" text-anchor="end">10</text><line x1="512.9" y1="96.1" x2="512.9" y2="97.6" stroke="#000" stroke-width="0.6"/><text x="512.9" y="102.2" font-size="3.6" font-weight="bold" stroke="#000" stroke-width="0.3" text-anchor="middle">0</text><line x1="519.17" y1="96.1" x2="519.17" y2="97.6" stroke="#000" stroke-width="0.6"/><text x="519.17" y="102.2" font-size="3.6" font-weight="bold" stroke="#000" stroke-width="0.3" text-anchor="middle">2</text><line x1="525.44" y1="96.1" x2="525.44" y2="97.6" stroke="#000" stroke-width="0.6"/><text x="525.44" y="102.2" font-size="3.6" font-weight="bold" stroke="#000" stroke-width="0.3" text-anchor="middle">4</text><line x1="531.71" y1="96.1" x2="531.71" y2="97.6" stroke="#000" stroke-width="0.6"/><text x="531.71" y="102.2" font-size="3.6" font-weight="bold" stroke="#000" stroke-width="0.3" text-anchor="middle">6</text><line x1="537.98" y1="96.1" x2="537.98" y2="97.6" stroke="#000" stroke-width="0.6"/><text x="537.98" y="102.2" font-size="3.6" font-weight="bold" stroke="#000" stroke-width="0.3" text-anchor="middle">8</text><line x1="544.25" y1="96.1" x2="544.25" y2="97.6" stroke="#000" stroke-width="0.6"/><text x="544.25" y="102.2" font-size="3.6" font-weight="bold" stroke="#000" stroke-width="0.3" text-anchor="middle">10</text><line x1="550.52" y1="96.1" x2="550.52" y2="97.6" stroke="#000" stroke-width="0.6"/><text x="550.52" y="102.2" font-size="3.6" font-weight="bold" stroke="#000" stroke-width="0.3" text-anchor="middle">12</text><line x1="556.79" y1="96.1" x2="556.79" y2="97.6" stroke="#000" stroke-width="0.6"/><text x="556.79" y="102.2" font-size="3.6" font-weight="bold" stroke="#000" stroke-width="0.3" text-anchor="middle">14</text><line x1="563.06" y1="96.1" x2="563.06" y2="97.6" stroke="#000" stroke-width="0.6"/><text x="563.06" y="102.2" font-size="3.6" font-weight="bold" stroke="#000" stroke-width="0.3" text-anchor="middle">16</text><line x1="569.33" y1="96.1" x2="569.33" y2="97.6" stroke="#000" stroke-width="0.6"/><text x="569.33" y="102.2" font-size="3.6" font-weight="bold" stroke="#000" stroke-width="0.3" text-anchor="middle">18</text><line x1="575.6" y1="96.1" x2="575.6" y2="97.6" stroke="#000" stroke-width="0.6"/><text x="575.6" y="102.2" font-size="3.6" font-weight="bold" stroke="#000" stroke-width="0.3" text-anchor="middle">20</text><line x1="581.87" y1="96.1" x2="581.87" y2="97.6" stroke="#000" stroke-width="0.6"/><text x="581.87" y="102.2" font-size="3.6" font-weight="bold" stroke="#000" stroke-width="0.3" text-anchor="middle">22</text><line x1="588.14" y1="96.1" x2="588.14" y2="97.6" stroke="#000" stroke-width="0.6"/><text x="588.14" y="102.2" font-size="3.6" font-weight="bold" stroke="#000" stroke-width="0.3" text-anchor="middle">24</text><line x1="594.41" y1="96.1" x2="594.41" y2="97.6" stroke="#000" stroke-width="0.6"/><text x="594.41" y="102.2" font-size="3.6" font-weight="bold" stroke="#000" stroke-width="0.3" text-anchor="middle">26</text><line x1="600.68" y1="96.1" x2="600.68" y2="97.6" stroke="#000" stroke-width="0.6"/><text x="600.68" y="102.2" font-size="3.6" font-weight="bold" stroke="#000" stroke-width="0.3" text-anchor="middle">28</text><line x1="606.95" y1="96.1" x2="606.95" y2="97.6" stroke="#000" stroke-width="0.6"/><text x="606.95" y="102.2" font-size="3.6" font-weight="bold" stroke="#000" stroke-width="0.3" text-anchor="middle">30</text><line x1="613.22" y1="96.1" x2="613.22" y2="97.6" stroke="#000" stroke-width="0.6"/><text x="613.22" y="102.2" font-size="3.6" font-weight="bold" stroke="#000" stroke-width="0.3" text-anchor="middle">32</text><line x1="619.49" y1="96.1" x2="619.49" y2="97.6" stroke="#000" stroke-width="0.6"/><text x="619.49" y="102.2" font-size="3.6" font-weight="bold" stroke="#000" stroke-width="0.3" text-anchor="middle">34</text><line x1="625.76" y1="96.1" x2="625.76" y2="97.6" stroke="#000" stroke-width="0.6"/><text x="625.76" y="102.2" font-size="3.6" font-weight="bold" stroke="#000" stroke-width="0.3" text-anchor="middle">36</text><line x1="632.03" y1="96.1" x2="632.03" y2="97.6" stroke="#000" stroke-width="0.6"/><text x="632.03" y="102.2" font-size="3.6" font-weight="bold" stroke="#000" stroke-width="0.3" text-anchor="middle">38</text><line x1="638.3" y1="96.1" x2="638.3" y2="97.6" stroke="#000" stroke-width="0.6"/><text x="638.3" y="102.2" font-size="3.6" font-weight="bold" stroke="#000" stroke-width="0.3" text-anchor="middle">40</text><line x1="644.57" y1="96.1" x2="644.57" y2="97.6" stroke="#000" stroke-width="0.6"/><text x="644.57" y="102.2" font-size="3.6" font-weight="bold" stroke="#000" stroke-width="0.3" text-anchor="middle">42</text><line x1="650.84" y1="96.1" x2="650.84" y2="97.6" stroke="#000" stroke-width="0.6"/><text x="650.84" y="102.2" font-size="3.6" font-weight="bold" stroke="#000" stroke-width="0.3" text-anchor="middle">44</text><line x1="657.11" y1="96.1" x2="657.11" y2="97.6" stroke="#000" stroke-width="0.6"/><text x="657.11" y="102.2" font-size="3.6" font-weight="bold" stroke="#000" stroke-width="0.3" text-anchor="middle">46</text><line x1="663.38" y1="96.1" x2="663.38" y2="97.6" stroke="#000" stroke-width="0.6"/><text x="663.38" y="102.2" font-size="3.6" font-weight="bold" stroke="#000" stroke-width="0.3" text-anchor="middle">48</text><line x1="669.65" y1="96.1" x2="669.65" y2="97.6" stroke="#000" stroke-width="0.6"/><text x="669.65" y="102.2" font-size="3.6" font-weight="bold" stroke="#000" stroke-width="0.3" text-anchor="middle">50</text><line x1="675.92" y1="96.1" x2="675.92" y2="97.6" stroke="#000" stroke-width="0.6"/><text x="675.92" y="102.2" font-size="3.6" font-weight="bold" stroke="#000" stroke-width="0.3" text-anchor="middle">52</text><line x1="682.19" y1="96.1" x2="682.19" y2="97.6" stroke="#000" stroke-width="0.6"/><text x="682.19" y="102.2" font-size="3.6" font-weight="bold" stroke="#000" stroke-width="0.3" text-anchor="middle">54</text><line x1="512.9" y1="90.9" x2="682.19" y2="90.9" stroke="#ff5a48" stroke-width="1.6"/><line x1="512.9" y1="88.4" x2="682.19" y2="88.4" stroke="#000" stroke-width="1.2"/><polyline points="516.03,96.1 519.17,96.1 522.3,96.1 525.44,90.71 528.57,90.71 531.71,96.1 534.85,96.1 537.98,90.71 541.12,96.1 544.25,90.71 547.38,96.1 550.52,96.1 553.65,96.1 556.79,96.1 559.92,96.1 563.06,96.1 566.19,96.1 569.33,96.1 572.46,96.1 575.6,96.1 578.74,85.32 581.87,96.1 585,96.1 588.14,96.1 591.27,96.1 594.41,96.1 597.54,96.1 600.68,96.1 603.81,96.1 606.95,96.1 610.08,96.1 613.22,85.32 616.36,79.93 619.49,90.71 622.62,79.93 625.76,96.1 628.89,96.1 632.03,96.1 635.16,96.1 638.3,96.1 641.43,96.1 644.57,96.1 647.7,96.1 650.84,96.1 653.97,96.1 657.11,96.1 660.25,96.1 663.38,96.1 666.51,96.1 669.65,96.1 672.78,96.1 675.92,96.1" fill="none" stroke="#ff2608" stroke-width="1.15" stroke-linejoin="round"/><circle cx="516.03" cy="96.1" r="1.4" fill="#ff2608"/><circle cx="519.17" cy="96.1" r="1.4" fill="#ff2608"/><circle cx="522.3" cy="96.1" r="1.4" fill="#ff2608"/><circle cx="525.44" cy="90.71" r="1.4" fill="#ff2608"/><circle cx="528.57" cy="90.71" r="1.4" fill="#ff2608"/><circle cx="531.71" cy="96.1" r="1.4" fill="#ff2608"/><circle cx="534.85" cy="96.1" r="1.4" fill="#ff2608"/><circle cx="537.98" cy="90.71" r="1.4" fill="#ff2608"/><circle cx="541.12" cy="96.1" r="1.4" fill="#ff2608"/><circle cx="544.25" cy="90.71" r="1.4" fill="#ff2608"/><circle cx="547.38" cy="96.1" r="1.4" fill="#ff2608"/><circle cx="550.52" cy="96.1" r="1.4" fill="#ff2608"/><circle cx="553.65" cy="96.1" r="1.4" fill="#ff2608"/><circle cx="556.79" cy="96.1" r="1.4" fill="#ff2608"/><circle cx="559.92" cy="96.1" r="1.4" fill="#ff2608"/><circle cx="563.06" cy="96.1" r="1.4" fill="#ff2608"/><circle cx="566.19" cy="96.1" r="1.4" fill="#ff2608"/><circle cx="569.33" cy="96.1" r="1.4" fill="#ff2608"/><circle cx="572.46" cy="96.1" r="1.4" fill="#ff2608"/><circle cx="575.6" cy="96.1" r="1.4" fill="#ff2608"/><circle cx="578.74" cy="85.32" r="1.4" fill="#ff2608"/><circle cx="581.87" cy="96.1" r="1.4" fill="#ff2608"/><circle cx="585" cy="96.1" r="1.4" fill="#ff2608"/><circle cx="588.14" cy="96.1" r="1.4" fill="#ff2608"/><circle cx="591.27" cy="96.1" r="1.4" fill="#ff2608"/><circle cx="594.41" cy="96.1" r="1.4" fill="#ff2608"/><circle cx="597.54" cy="96.1" r="1.4" fill="#ff2608"/><circle cx="600.68" cy="96.1" r="1.4" fill="#ff2608"/><circle cx="603.81" cy="96.1" r="1.4" fill="#ff2608"/><circle cx="606.95" cy="96.1" r="1.4" fill="#ff2608"/><circle cx="610.08" cy="96.1" r="1.4" fill="#ff2608"/><circle cx="613.22" cy="85.32" r="1.4" fill="#ff2608"/><circle cx="616.36" cy="79.93" r="1.4" fill="#ff2608"/><circle cx="619.49" cy="90.71" r="1.4" fill="#ff2608"/><circle cx="622.62" cy="79.93" r="1.4" fill="#ff2608"/><circle cx="625.76" cy="96.1" r="1.4" fill="#ff2608"/><circle cx="628.89" cy="96.1" r="1.4" fill="#ff2608"/><circle cx="632.03" cy="96.1" r="1.4" fill="#ff2608"/><circle cx="635.16" cy="96.1" r="1.4" fill="#ff2608"/><circle cx="638.3" cy="96.1" r="1.4" fill="#ff2608"/><circle cx="641.43" cy="96.1" r="1.4" fill="#ff2608"/><circle cx="644.57" cy="96.1" r="1.4" fill="#ff2608"/><circle cx="647.7" cy="96.1" r="1.4" fill="#ff2608"/><circle cx="650.84" cy="96.1" r="1.4" fill="#ff2608"/><circle cx="653.97" cy="96.1" r="1.4" fill="#ff2608"/><circle cx="657.11" cy="96.1" r="1.4" fill="#ff2608"/><circle cx="660.25" cy="96.1" r="1.4" fill="#ff2608"/><circle cx="663.38" cy="96.1" r="1.4" fill="#ff2608"/><circle cx="666.51" cy="96.1" r="1.4" fill="#ff2608"/><circle cx="669.65" cy="96.1" r="1.4" fill="#ff2608"/><circle cx="672.78" cy="96.1" r="1.4" fill="#ff2608"/><circle cx="675.92" cy="96.1" r="1.4" fill="#ff2608"/><rect x="514.93" y="95" width="2.2" height="2.2" fill="#fff" stroke="#000" stroke-width="1.5"/><rect x="518.07" y="95" width="2.2" height="2.2" fill="#fff" stroke="#000" stroke-width="1.5"/><rect x="521.2" y="89.61" width="2.2" height="2.2" fill="#fff" stroke="#000" stroke-width="1.5"/><rect x="524.34" y="95" width="2.2" height="2.2" fill="#fff" stroke="#000" stroke-width="1.5"/><rect x="527.47" y="95" width="2.2" height="2.2" fill="#fff" stroke="#000" stroke-width="1.5"/><rect x="530.61" y="95" width="2.2" height="2.2" fill="#fff" stroke="#000" stroke-width="1.5"/><rect x="533.75" y="95" width="2.2" height="2.2" fill="#fff" stroke="#000" stroke-width="1.5"/><rect x="536.88" y="89.61" width="2.2" height="2.2" fill="#fff" stroke="#000" stroke-width="1.5"/><rect x="540.01" y="84.22" width="2.2" height="2.2" fill="#fff" stroke="#000" stroke-width="1.5"/><rect x="543.15" y="95" width="2.2" height="2.2" fill="#fff" stroke="#000" stroke-width="1.5"/><rect x="546.28" y="84.22" width="2.2" height="2.2" fill="#fff" stroke="#000" stroke-width="1.5"/><rect x="549.42" y="89.61" width="2.2" height="2.2" fill="#fff" stroke="#000" stroke-width="1.5"/><rect x="552.55" y="89.61" width="2.2" height="2.2" fill="#fff" stroke="#000" stroke-width="1.5"/><rect x="555.69" y="95" width="2.2" height="2.2" fill="#fff" stroke="#000" stroke-width="1.5"/><rect x="558.82" y="95" width="2.2" height="2.2" fill="#fff" stroke="#000" stroke-width="1.5"/><rect x="561.96" y="84.22" width="2.2" height="2.2" fill="#fff" stroke="#000" stroke-width="1.5"/><rect x="565.09" y="95" width="2.2" height="2.2" fill="#fff" stroke="#000" stroke-width="1.5"/><rect x="568.23" y="89.61" width="2.2" height="2.2" fill="#fff" stroke="#000" stroke-width="1.5"/><rect x="571.36" y="95" width="2.2" height="2.2" fill="#fff" stroke="#000" stroke-width="1.5"/><rect x="574.5" y="95" width="2.2" height="2.2" fill="#fff" stroke="#000" stroke-width="1.5"/><rect x="577.63" y="95" width="2.2" height="2.2" fill="#fff" stroke="#000" stroke-width="1.5"/><rect x="580.77" y="84.22" width="2.2" height="2.2" fill="#fff" stroke="#000" stroke-width="1.5"/><rect x="583.9" y="89.61" width="2.2" height="2.2" fill="#fff" stroke="#000" stroke-width="1.5"/><rect x="587.04" y="95" width="2.2" height="2.2" fill="#fff" stroke="#000" stroke-width="1.5"/><rect x="590.17" y="95" width="2.2" height="2.2" fill="#fff" stroke="#000" stroke-width="1.5"/><rect x="593.31" y="95" width="2.2" height="2.2" fill="#fff" stroke="#000" stroke-width="1.5"/><rect x="596.44" y="95" width="2.2" height="2.2" fill="#fff" stroke="#000" stroke-width="1.5"/><rect x="599.58" y="95" width="2.2" height="2.2" fill="#fff" stroke="#000" stroke-width="1.5"/><rect x="602.71" y="95" width="2.2" height="2.2" fill="#fff" stroke="#000" stroke-width="1.5"/><rect x="605.85" y="95" width="2.2" height="2.2" fill="#fff" stroke="#000" stroke-width="1.5"/><rect x="608.98" y="89.61" width="2.2" height="2.2" fill="#fff" stroke="#000" stroke-width="1.5"/><rect x="612.12" y="95" width="2.2" height="2.2" fill="#fff" stroke="#000" stroke-width="1.5"/><rect x="615.25" y="68.05" width="2.2" height="2.2" fill="#fff" stroke="#000" stroke-width="1.5"/><rect x="618.39" y="89.61" width="2.2" height="2.2" fill="#fff" stroke="#000" stroke-width="1.5"/><rect x="621.52" y="95" width="2.2" height="2.2" fill="#fff" stroke="#000" stroke-width="1.5"/><rect x="624.66" y="95" width="2.2" height="2.2" fill="#fff" stroke="#000" stroke-width="1.5"/><rect x="627.79" y="95" width="2.2" height="2.2" fill="#fff" stroke="#000" stroke-width="1.5"/><rect x="630.93" y="95" width="2.2" height="2.2" fill="#fff" stroke="#000" stroke-width="1.5"/><rect x="634.06" y="95" width="2.2" height="2.2" fill="#fff" stroke="#000" stroke-width="1.5"/><rect x="637.2" y="95" width="2.2" height="2.2" fill="#fff" stroke="#000" stroke-width="1.5"/><rect x="640.33" y="89.61" width="2.2" height="2.2" fill="#fff" stroke="#000" stroke-width="1.5"/><rect x="643.47" y="95" width="2.2" height="2.2" fill="#fff" stroke="#000" stroke-width="1.5"/><rect x="646.6" y="84.22" width="2.2" height="2.2" fill="#fff" stroke="#000" stroke-width="1.5"/><rect x="649.74" y="89.61" width="2.2" height="2.2" fill="#fff" stroke="#000" stroke-width="1.5"/><rect x="652.87" y="89.61" width="2.2" height="2.2" fill="#fff" stroke="#000" stroke-width="1.5"/><rect x="656.01" y="89.61" width="2.2" height="2.2" fill="#fff" stroke="#000" stroke-width="1.5"/><rect x="659.14" y="95" width="2.2" height="2.2" fill="#fff" stroke="#000" stroke-width="1.5"/><rect x="662.28" y="95" width="2.2" height="2.2" fill="#fff" stroke="#000" stroke-width="1.5"/><rect x="665.41" y="95" width="2.2" height="2.2" fill="#fff" stroke="#000" stroke-width="1.5"/><rect x="668.55" y="95" width="2.2" height="2.2" fill="#fff" stroke="#000" stroke-width="1.5"/><rect x="671.68" y="95" width="2.2" height="2.2" fill="#fff" stroke="#000" stroke-width="1.5"/><rect x="674.82" y="95" width="2.2" height="2.2" fill="#fff" stroke="#000" stroke-width="1.5"/><polyline points="516.03,96.1 519.17,96.1 522.3,90.71 525.44,96.1 528.57,96.1 531.71,96.1 534.85,96.1 537.98,90.71 541.12,85.32 544.25,96.1 547.38,85.32 550.52,90.71 553.65,90.71 556.79,96.1 559.92,96.1 563.06,85.32 566.19,96.1 569.33,90.71 572.46,96.1 575.6,96.1 578.74,96.1 581.87,85.32 585,90.71 588.14,96.1 591.27,96.1 594.41,96.1 597.54,96.1 600.68,96.1 603.81,96.1 606.95,96.1 610.08,90.71 613.22,96.1 616.36,69.15 619.49,90.71 622.62,96.1 625.76,96.1 628.89,96.1 632.03,96.1 635.16,96.1 638.3,96.1 641.43,90.71 644.57,96.1 647.7,85.32 650.84,90.71 653.97,90.71 657.11,90.71 660.25,96.1 663.38,96.1 666.51,96.1 669.65,96.1 672.78,96.1 675.92,96.1" fill="none" stroke="#000" stroke-width="1.2" stroke-linejoin="round"/></g>
<g><text x="94.8" y="126.1" font-weight="bold" font-size="12.5" stroke="#000" stroke-width="0.35" font-style="italic" textLength="75.3" lengthAdjust="spacingAndGlyphs">H. influenzae</text><path d="M40.5 132.6 V192.3 H228.42" fill="none" stroke="#2a2a2a" stroke-width="1.1"/><line x1="38.5" y1="192.3" x2="40.5" y2="192.3" stroke="#000" stroke-width="0.8"/><text x="38.3" y="193.8" font-size="4.4" font-weight="bold" stroke="#000" stroke-width="0.3" text-anchor="end">0</text><line x1="38.5" y1="180.36" x2="40.5" y2="180.36" stroke="#000" stroke-width="0.8"/><text x="38.3" y="181.86" font-size="4.4" font-weight="bold" stroke="#000" stroke-width="0.3" text-anchor="end">2</text><line x1="38.5" y1="168.42" x2="40.5" y2="168.42" stroke="#000" stroke-width="0.8"/><text x="38.3" y="169.92" font-size="4.4" font-weight="bold" stroke="#000" stroke-width="0.3" text-anchor="end">4</text><line x1="38.5" y1="156.48" x2="40.5" y2="156.48" stroke="#000" stroke-width="0.8"/><text x="38.3" y="157.98" font-size="4.4" font-weight="bold" stroke="#000" stroke-width="0.3" text-anchor="end">6</text><line x1="38.5" y1="144.54" x2="40.5" y2="144.54" stroke="#000" stroke-width="0.8"/><text x="38.3" y="146.04" font-size="4.4" font-weight="bold" stroke="#000" stroke-width="0.3" text-anchor="end">8</text><line x1="38.5" y1="132.6" x2="40.5" y2="132.6" stroke="#000" stroke-width="0.8"/><text x="38.3" y="134.1" font-size="4.4" font-weight="bold" stroke="#000" stroke-width="0.3" text-anchor="end">10</text><line x1="40.5" y1="192.3" x2="40.5" y2="193.8" stroke="#000" stroke-width="0.6"/><text x="40.5" y="198.4" font-size="3.6" font-weight="bold" stroke="#000" stroke-width="0.3" text-anchor="middle">0</text><line x1="47.46" y1="192.3" x2="47.46" y2="193.8" stroke="#000" stroke-width="0.6"/><text x="47.46" y="198.4" font-size="3.6" font-weight="bold" stroke="#000" stroke-width="0.3" text-anchor="middle">2</text><line x1="54.42" y1="192.3" x2="54.42" y2="193.8" stroke="#000" stroke-width="0.6"/><text x="54.42" y="198.4" font-size="3.6" font-weight="bold" stroke="#000" stroke-width="0.3" text-anchor="middle">4</text><line x1="61.38" y1="192.3" x2="61.38" y2="193.8" stroke="#000" stroke-width="0.6"/><text x="61.38" y="198.4" font-size="3.6" font-weight="bold" stroke="#000" stroke-width="0.3" text-anchor="middle">6</text><line x1="68.34" y1="192.3" x2="68.34" y2="193.8" stroke="#000" stroke-width="0.6"/><text x="68.34" y="198.4" font-size="3.6" font-weight="bold" stroke="#000" stroke-width="0.3" text-anchor="middle">8</text><line x1="75.3" y1="192.3" x2="75.3" y2="193.8" stroke="#000" stroke-width="0.6"/><text x="75.3" y="198.4" font-size="3.6" font-weight="bold" stroke="#000" stroke-width="0.3" text-anchor="middle">10</text><line x1="82.26" y1="192.3" x2="82.26" y2="193.8" stroke="#000" stroke-width="0.6"/><text x="82.26" y="198.4" font-size="3.6" font-weight="bold" stroke="#000" stroke-width="0.3" text-anchor="middle">12</text><line x1="89.22" y1="192.3" x2="89.22" y2="193.8" stroke="#000" stroke-width="0.6"/><text x="89.22" y="198.4" font-size="3.6" font-weight="bold" stroke="#000" stroke-width="0.3" text-anchor="middle">14</text><line x1="96.18" y1="192.3" x2="96.18" y2="193.8" stroke="#000" stroke-width="0.6"/><text x="96.18" y="198.4" font-size="3.6" font-weight="bold" stroke="#000" stroke-width="0.3" text-anchor="middle">16</text><line x1="103.14" y1="192.3" x2="103.14" y2="193.8" stroke="#000" stroke-width="0.6"/><text x="103.14" y="198.4" font-size="3.6" font-weight="bold" stroke="#000" stroke-width="0.3" text-anchor="middle">18</text><line x1="110.1" y1="192.3" x2="110.1" y2="193.8" stroke="#000" stroke-width="0.6"/><text x="110.1" y="198.4" font-size="3.6" font-weight="bold" stroke="#000" stroke-width="0.3" text-anchor="middle">20</text><line x1="117.06" y1="192.3" x2="117.06" y2="193.8" stroke="#000" stroke-width="0.6"/><text x="117.06" y="198.4" font-size="3.6" font-weight="bold" stroke="#000" stroke-width="0.3" text-anchor="middle">22</text><line x1="124.02" y1="192.3" x2="124.02" y2="193.8" stroke="#000" stroke-width="0.6"/><text x="124.02" y="198.4" font-size="3.6" font-weight="bold" stroke="#000" stroke-width="0.3" text-anchor="middle">24</text><line x1="130.98" y1="192.3" x2="130.98" y2="193.8" stroke="#000" stroke-width="0.6"/><text x="130.98" y="198.4" font-size="3.6" font-weight="bold" stroke="#000" stroke-width="0.3" text-anchor="middle">26</text><line x1="137.94" y1="192.3" x2="137.94" y2="193.8" stroke="#000" stroke-width="0.6"/><text x="137.94" y="198.4" font-size="3.6" font-weight="bold" stroke="#000" stroke-width="0.3" text-anchor="middle">28</text><line x1="144.9" y1="192.3" x2="144.9" y2="193.8" stroke="#000" stroke-width="0.6"/><text x="144.9" y="198.4" font-size="3.6" font-weight="bold" stroke="#000" stroke-width="0.3" text-anchor="middle">30</text><line x1="151.86" y1="192.3" x2="151.86" y2="193.8" stroke="#000" stroke-width="0.6"/><text x="151.86" y="198.4" font-size="3.6" font-weight="bold" stroke="#000" stroke-width="0.3" text-anchor="middle">32</text><line x1="158.82" y1="192.3" x2="158.82" y2="193.8" stroke="#000" stroke-width="0.6"/><text x="158.82" y="198.4" font-size="3.6" font-weight="bold" stroke="#000" stroke-width="0.3" text-anchor="middle">34</text><line x1="165.78" y1="192.3" x2="165.78" y2="193.8" stroke="#000" stroke-width="0.6"/><text x="165.78" y="198.4" font-size="3.6" font-weight="bold" stroke="#000" stroke-width="0.3" text-anchor="middle">36</text><line x1="172.74" y1="192.3" x2="172.74" y2="193.8" stroke="#000" stroke-width="0.6"/><text x="172.74" y="198.4" font-size="3.6" font-weight="bold" stroke="#000" stroke-width="0.3" text-anchor="middle">38</text><line x1="179.7" y1="192.3" x2="179.7" y2="193.8" stroke="#000" stroke-width="0.6"/><text x="179.7" y="198.4" font-size="3.6" font-weight="bold" stroke="#000" stroke-width="0.3" text-anchor="middle">40</text><line x1="186.66" y1="192.3" x2="186.66" y2="193.8" stroke="#000" stroke-width="0.6"/><text x="186.66" y="198.4" font-size="3.6" font-weight="bold" stroke="#000" stroke-width="0.3" text-anchor="middle">42</text><line x1="193.62" y1="192.3" x2="193.62" y2="193.8" stroke="#000" stroke-width="0.6"/><text x="193.62" y="198.4" font-size="3.6" font-weight="bold" stroke="#000" stroke-width="0.3" text-anchor="middle">44</text><line x1="200.58" y1="192.3" x2="200.58" y2="193.8" stroke="#000" stroke-width="0.6"/><text x="200.58" y="198.4" font-size="3.6" font-weight="bold" stroke="#000" stroke-width="0.3" text-anchor="middle">46</text><line x1="207.54" y1="192.3" x2="207.54" y2="193.8" stroke="#000" stroke-width="0.6"/><text x="207.54" y="198.4" font-size="3.6" font-weight="bold" stroke="#000" stroke-width="0.3" text-anchor="middle">48</text><line x1="214.5" y1="192.3" x2="214.5" y2="193.8" stroke="#000" stroke-width="0.6"/><text x="214.5" y="198.4" font-size="3.6" font-weight="bold" stroke="#000" stroke-width="0.3" text-anchor="middle">50</text><line x1="221.46" y1="192.3" x2="221.46" y2="193.8" stroke="#000" stroke-width="0.6"/><text x="221.46" y="198.4" font-size="3.6" font-weight="bold" stroke="#000" stroke-width="0.3" text-anchor="middle">52</text><line x1="228.42" y1="192.3" x2="228.42" y2="193.8" stroke="#000" stroke-width="0.6"/><text x="228.42" y="198.4" font-size="3.6" font-weight="bold" stroke="#000" stroke-width="0.3" text-anchor="middle">54</text><line x1="40.5" y1="180.8" x2="228.42" y2="180.8" stroke="#ff5a48" stroke-width="1.6"/><line x1="40.5" y1="163.2" x2="228.42" y2="163.2" stroke="#000" stroke-width="1.2"/><polyline points="43.98,186.33 47.46,174.39 50.94,192.3 54.42,168.42 57.9,186.33 61.38,186.33 64.86,192.3 68.34,186.33 71.82,192.3 75.3,192.3 78.78,180.36 82.26,186.33 85.74,186.33 89.22,180.36 92.7,180.36 96.18,192.3 99.66,192.3 103.14,186.33 106.62,192.3 110.1,186.33 113.58,192.3 117.06,192.3 120.54,174.39 124.02,192.3 127.5,186.33 130.98,192.3 134.46,186.33 137.94,186.33 141.42,192.3 144.9,192.3 148.38,192.3 151.86,192.3 155.34,186.33 158.82,192.3 162.3,180.36 165.78,174.39 169.26,180.36 172.74,192.3 176.22,192.3 179.7,192.3 183.18,192.3 186.66,186.33 190.14,180.36 193.62,174.39 197.1,174.39 200.58,180.36 204.06,192.3 207.54,192.3 211.02,192.3 214.5,192.3 217.98,192.3 221.46,192.3" fill="none" stroke="#ff2608" stroke-width="1.15" stroke-linejoin="round"/><circle cx="43.98" cy="186.33" r="1.4" fill="#ff2608"/><circle cx="47.46" cy="174.39" r="1.4" fill="#ff2608"/><circle cx="50.94" cy="192.3" r="1.4" fill="#ff2608"/><circle cx="54.42" cy="168.42" r="1.4" fill="#ff2608"/><circle cx="57.9" cy="186.33" r="1.4" fill="#ff2608"/><circle cx="61.38" cy="186.33" r="1.4" fill="#ff2608"/><circle cx="64.86" cy="192.3" r="1.4" fill="#ff2608"/><circle cx="68.34" cy="186.33" r="1.4" fill="#ff2608"/><circle cx="71.82" cy="192.3" r="1.4" fill="#ff2608"/><circle cx="75.3" cy="192.3" r="1.4" fill="#ff2608"/><circle cx="78.78" cy="180.36" r="1.4" fill="#ff2608"/><circle cx="82.26" cy="186.33" r="1.4" fill="#ff2608"/><circle cx="85.74" cy="186.33" r="1.4" fill="#ff2608"/><circle cx="89.22" cy="180.36" r="1.4" fill="#ff2608"/><circle cx="92.7" cy="180.36" r="1.4" fill="#ff2608"/><circle cx="96.18" cy="192.3" r="1.4" fill="#ff2608"/><circle cx="99.66" cy="192.3" r="1.4" fill="#ff2608"/><circle cx="103.14" cy="186.33" r="1.4" fill="#ff2608"/><circle cx="106.62" cy="192.3" r="1.4" fill="#ff2608"/><circle cx="110.1" cy="186.33" r="1.4" fill="#ff2608"/><circle cx="113.58" cy="192.3" r="1.4" fill="#ff2608"/><circle cx="117.06" cy="192.3" r="1.4" fill="#ff2608"/><circle cx="120.54" cy="174.39" r="1.4" fill="#ff2608"/><circle cx="124.02" cy="192.3" r="1.4" fill="#ff2608"/><circle cx="127.5" cy="186.33" r="1.4" fill="#ff2608"/><circle cx="130.98" cy="192.3" r="1.4" fill="#ff2608"/><circle cx="134.46" cy="186.33" r="1.4" fill="#ff2608"/><circle cx="137.94" cy="186.33" r="1.4" fill="#ff2608"/><circle cx="141.42" cy="192.3" r="1.4" fill="#ff2608"/><circle cx="144.9" cy="192.3" r="1.4" fill="#ff2608"/><circle cx="148.38" cy="192.3" r="1.4" fill="#ff2608"/><circle cx="151.86" cy="192.3" r="1.4" fill="#ff2608"/><circle cx="155.34" cy="186.33" r="1.4" fill="#ff2608"/><circle cx="158.82" cy="192.3" r="1.4" fill="#ff2608"/><circle cx="162.3" cy="180.36" r="1.4" fill="#ff2608"/><circle cx="165.78" cy="174.39" r="1.4" fill="#ff2608"/><circle cx="169.26" cy="180.36" r="1.4" fill="#ff2608"/><circle cx="172.74" cy="192.3" r="1.4" fill="#ff2608"/><circle cx="176.22" cy="192.3" r="1.4" fill="#ff2608"/><circle cx="179.7" cy="192.3" r="1.4" fill="#ff2608"/><circle cx="183.18" cy="192.3" r="1.4" fill="#ff2608"/><circle cx="186.66" cy="186.33" r="1.4" fill="#ff2608"/><circle cx="190.14" cy="180.36" r="1.4" fill="#ff2608"/><circle cx="193.62" cy="174.39" r="1.4" fill="#ff2608"/><circle cx="197.1" cy="174.39" r="1.4" fill="#ff2608"/><circle cx="200.58" cy="180.36" r="1.4" fill="#ff2608"/><circle cx="204.06" cy="192.3" r="1.4" fill="#ff2608"/><circle cx="207.54" cy="192.3" r="1.4" fill="#ff2608"/><circle cx="211.02" cy="192.3" r="1.4" fill="#ff2608"/><circle cx="214.5" cy="192.3" r="1.4" fill="#ff2608"/><circle cx="217.98" cy="192.3" r="1.4" fill="#ff2608"/><circle cx="221.46" cy="192.3" r="1.4" fill="#ff2608"/><rect x="42.88" y="191.2" width="2.2" height="2.2" fill="#fff" stroke="#000" stroke-width="1.5"/><rect x="46.36" y="161.35" width="2.2" height="2.2" fill="#fff" stroke="#000" stroke-width="1.5"/><rect x="49.84" y="185.23" width="2.2" height="2.2" fill="#fff" stroke="#000" stroke-width="1.5"/><rect x="53.32" y="173.29" width="2.2" height="2.2" fill="#fff" stroke="#000" stroke-width="1.5"/><rect x="56.8" y="167.32" width="2.2" height="2.2" fill="#fff" stroke="#000" stroke-width="1.5"/><rect x="60.28" y="173.29" width="2.2" height="2.2" fill="#fff" stroke="#000" stroke-width="1.5"/><rect x="63.76" y="155.38" width="2.2" height="2.2" fill="#fff" stroke="#000" stroke-width="1.5"/><rect x="67.24" y="155.38" width="2.2" height="2.2" fill="#fff" stroke="#000" stroke-width="1.5"/><rect x="70.72" y="179.26" width="2.2" height="2.2" fill="#fff" stroke="#000" stroke-width="1.5"/><rect x="74.2" y="185.23" width="2.2" height="2.2" fill="#fff" stroke="#000" stroke-width="1.5"/><rect x="77.68" y="185.23" width="2.2" height="2.2" fill="#fff" stroke="#000" stroke-width="1.5"/><rect x="81.16" y="161.35" width="2.2" height="2.2" fill="#fff" stroke="#000" stroke-width="1.5"/><rect x="84.64" y="167.32" width="2.2" height="2.2" fill="#fff" stroke="#000" stroke-width="1.5"/><rect x="88.12" y="155.38" width="2.2" height="2.2" fill="#fff" stroke="#000" stroke-width="1.5"/><rect x="91.6" y="155.38" width="2.2" height="2.2" fill="#fff" stroke="#000" stroke-width="1.5"/><rect x="95.08" y="167.32" width="2.2" height="2.2" fill="#fff" stroke="#000" stroke-width="1.5"/><rect x="98.56" y="167.32" width="2.2" height="2.2" fill="#fff" stroke="#000" stroke-width="1.5"/><rect x="102.04" y="185.23" width="2.2" height="2.2" fill="#fff" stroke="#000" stroke-width="1.5"/><rect x="105.52" y="167.32" width="2.2" height="2.2" fill="#fff" stroke="#000" stroke-width="1.5"/><rect x="109" y="143.44" width="2.2" height="2.2" fill="#fff" stroke="#000" stroke-width="1.5"/><rect x="112.48" y="155.38" width="2.2" height="2.2" fill="#fff" stroke="#000" stroke-width="1.5"/><rect x="115.96" y="137.47" width="2.2" height="2.2" fill="#fff" stroke="#000" stroke-width="1.5"/><rect x="119.44" y="173.29" width="2.2" height="2.2" fill="#fff" stroke="#000" stroke-width="1.5"/><rect x="122.92" y="173.29" width="2.2" height="2.2" fill="#fff" stroke="#000" stroke-width="1.5"/><rect x="126.4" y="167.32" width="2.2" height="2.2" fill="#fff" stroke="#000" stroke-width="1.5"/><rect x="129.88" y="179.26" width="2.2" height="2.2" fill="#fff" stroke="#000" stroke-width="1.5"/><rect x="133.36" y="173.29" width="2.2" height="2.2" fill="#fff" stroke="#000" stroke-width="1.5"/><rect x="136.84" y="191.2" width="2.2" height="2.2" fill="#fff" stroke="#000" stroke-width="1.5"/><rect x="140.32" y="173.29" width="2.2" height="2.2" fill="#fff" stroke="#000" stroke-width="1.5"/><rect x="143.8" y="179.26" width="2.2" height="2.2" fill="#fff" stroke="#000" stroke-width="1.5"/><rect x="147.28" y="179.26" width="2.2" height="2.2" fill="#fff" stroke="#000" stroke-width="1.5"/><rect x="150.76" y="173.29" width="2.2" height="2.2" fill="#fff" stroke="#000" stroke-width="1.5"/><rect x="154.24" y="185.23" width="2.2" height="2.2" fill="#fff" stroke="#000" stroke-width="1.5"/><rect x="157.72" y="179.26" width="2.2" height="2.2" fill="#fff" stroke="#000" stroke-width="1.5"/><rect x="161.2" y="167.32" width="2.2" height="2.2" fill="#fff" stroke="#000" stroke-width="1.5"/><rect x="164.68" y="167.32" width="2.2" height="2.2" fill="#fff" stroke="#000" stroke-width="1.5"/><rect x="168.16" y="167.32" width="2.2" height="2.2" fill="#fff" stroke="#000" stroke-width="1.5"/><rect x="171.64" y="191.2" width="2.2" height="2.2" fill="#fff" stroke="#000" stroke-width="1.5"/><rect x="175.12" y="185.23" width="2.2" height="2.2" fill="#fff" stroke="#000" stroke-width="1.5"/><rect x="178.6" y="191.2" width="2.2" height="2.2" fill="#fff" stroke="#000" stroke-width="1.5"/><rect x="182.08" y="191.2" width="2.2" height="2.2" fill="#fff" stroke="#000" stroke-width="1.5"/><rect x="185.56" y="191.2" width="2.2" height="2.2" fill="#fff" stroke="#000" stroke-width="1.5"/><rect x="189.04" y="191.2" width="2.2" height="2.2" fill="#fff" stroke="#000" stroke-width="1.5"/><rect x="192.52" y="179.26" width="2.2" height="2.2" fill="#fff" stroke="#000" stroke-width="1.5"/><rect x="196" y="191.2" width="2.2" height="2.2" fill="#fff" stroke="#000" stroke-width="1.5"/><rect x="199.48" y="173.29" width="2.2" height="2.2" fill="#fff" stroke="#000" stroke-width="1.5"/><rect x="202.96" y="185.23" width="2.2" height="2.2" fill="#fff" stroke="#000" stroke-width="1.5"/><rect x="206.44" y="191.2" width="2.2" height="2.2" fill="#fff" stroke="#000" stroke-width="1.5"/><rect x="209.92" y="185.23" width="2.2" height="2.2" fill="#fff" stroke="#000" stroke-width="1.5"/><rect x="213.4" y="173.29" width="2.2" height="2.2" fill="#fff" stroke="#000" stroke-width="1.5"/><rect x="216.88" y="191.2" width="2.2" height="2.2" fill="#fff" stroke="#000" stroke-width="1.5"/><rect x="220.36" y="191.2" width="2.2" height="2.2" fill="#fff" stroke="#000" stroke-width="1.5"/><polyline points="43.98,192.3 47.46,162.45 50.94,186.33 54.42,174.39 57.9,168.42 61.38,174.39 64.86,156.48 68.34,156.48 71.82,180.36 75.3,186.33 78.78,186.33 82.26,162.45 85.74,168.42 89.22,156.48 92.7,156.48 96.18,168.42 99.66,168.42 103.14,186.33 106.62,168.42 110.1,144.54 113.58,156.48 117.06,138.57 120.54,174.39 124.02,174.39 127.5,168.42 130.98,180.36 134.46,174.39 137.94,192.3 141.42,174.39 144.9,180.36 148.38,180.36 151.86,174.39 155.34,186.33 158.82,180.36 162.3,168.42 165.78,168.42 169.26,168.42 172.74,192.3 176.22,186.33 179.7,192.3 183.18,192.3 186.66,192.3 190.14,192.3 193.62,180.36 197.1,192.3 200.58,174.39 204.06,186.33 207.54,192.3 211.02,186.33 214.5,174.39 217.98,192.3 221.46,192.3" fill="none" stroke="#000" stroke-width="1.2" stroke-linejoin="round"/></g>
<g><text x="353.2" y="126.1" font-weight="bold" font-size="12.5" stroke="#000" stroke-width="0.35" textLength="34.7" lengthAdjust="spacingAndGlyphs">hMPV</text><path d="M280.2 133.7 V186.8 H447.6" fill="none" stroke="#2a2a2a" stroke-width="1.1"/><line x1="278.2" y1="186.8" x2="280.2" y2="186.8" stroke="#000" stroke-width="0.8"/><text x="278" y="188.3" font-size="4.4" font-weight="bold" stroke="#000" stroke-width="0.3" text-anchor="end">0</text><line x1="278.2" y1="176.18" x2="280.2" y2="176.18" stroke="#000" stroke-width="0.8"/><text x="278" y="177.68" font-size="4.4" font-weight="bold" stroke="#000" stroke-width="0.3" text-anchor="end">2</text><line x1="278.2" y1="165.56" x2="280.2" y2="165.56" stroke="#000" stroke-width="0.8"/><text x="278" y="167.06" font-size="4.4" font-weight="bold" stroke="#000" stroke-width="0.3" text-anchor="end">4</text><line x1="278.2" y1="154.94" x2="280.2" y2="154.94" stroke="#000" stroke-width="0.8"/><text x="278" y="156.44" font-size="4.4" font-weight="bold" stroke="#000" stroke-width="0.3" text-anchor="end">6</text><line x1="278.2" y1="144.32" x2="280.2" y2="144.32" stroke="#000" stroke-width="0.8"/><text x="278" y="145.82" font-size="4.4" font-weight="bold" stroke="#000" stroke-width="0.3" text-anchor="end">8</text><line x1="278.2" y1="133.7" x2="280.2" y2="133.7" stroke="#000" stroke-width="0.8"/><text x="278" y="135.2" font-size="4.4" font-weight="bold" stroke="#000" stroke-width="0.3" text-anchor="end">10</text><line x1="280.2" y1="186.8" x2="280.2" y2="188.3" stroke="#000" stroke-width="0.6"/><text x="280.2" y="192.9" font-size="3.6" font-weight="bold" stroke="#000" stroke-width="0.3" text-anchor="middle">0</text><line x1="286.4" y1="186.8" x2="286.4" y2="188.3" stroke="#000" stroke-width="0.6"/><text x="286.4" y="192.9" font-size="3.6" font-weight="bold" stroke="#000" stroke-width="0.3" text-anchor="middle">2</text><line x1="292.6" y1="186.8" x2="292.6" y2="188.3" stroke="#000" stroke-width="0.6"/><text x="292.6" y="192.9" font-size="3.6" font-weight="bold" stroke="#000" stroke-width="0.3" text-anchor="middle">4</text><line x1="298.8" y1="186.8" x2="298.8" y2="188.3" stroke="#000" stroke-width="0.6"/><text x="298.8" y="192.9" font-size="3.6" font-weight="bold" stroke="#000" stroke-width="0.3" text-anchor="middle">6</text><line x1="305" y1="186.8" x2="305" y2="188.3" stroke="#000" stroke-width="0.6"/><text x="305" y="192.9" font-size="3.6" font-weight="bold" stroke="#000" stroke-width="0.3" text-anchor="middle">8</text><line x1="311.2" y1="186.8" x2="311.2" y2="188.3" stroke="#000" stroke-width="0.6"/><text x="311.2" y="192.9" font-size="3.6" font-weight="bold" stroke="#000" stroke-width="0.3" text-anchor="middle">10</text><line x1="317.4" y1="186.8" x2="317.4" y2="188.3" stroke="#000" stroke-width="0.6"/><text x="317.4" y="192.9" font-size="3.6" font-weight="bold" stroke="#000" stroke-width="0.3" text-anchor="middle">12</text><line x1="323.6" y1="186.8" x2="323.6" y2="188.3" stroke="#000" stroke-width="0.6"/><text x="323.6" y="192.9" font-size="3.6" font-weight="bold" stroke="#000" stroke-width="0.3" text-anchor="middle">14</text><line x1="329.8" y1="186.8" x2="329.8" y2="188.3" stroke="#000" stroke-width="0.6"/><text x="329.8" y="192.9" font-size="3.6" font-weight="bold" stroke="#000" stroke-width="0.3" text-anchor="middle">16</text><line x1="336" y1="186.8" x2="336" y2="188.3" stroke="#000" stroke-width="0.6"/><text x="336" y="192.9" font-size="3.6" font-weight="bold" stroke="#000" stroke-width="0.3" text-anchor="middle">18</text><line x1="342.2" y1="186.8" x2="342.2" y2="188.3" stroke="#000" stroke-width="0.6"/><text x="342.2" y="192.9" font-size="3.6" font-weight="bold" stroke="#000" stroke-width="0.3" text-anchor="middle">20</text><line x1="348.4" y1="186.8" x2="348.4" y2="188.3" stroke="#000" stroke-width="0.6"/><text x="348.4" y="192.9" font-size="3.6" font-weight="bold" stroke="#000" stroke-width="0.3" text-anchor="middle">22</text><line x1="354.6" y1="186.8" x2="354.6" y2="188.3" stroke="#000" stroke-width="0.6"/><text x="354.6" y="192.9" font-size="3.6" font-weight="bold" stroke="#000" stroke-width="0.3" text-anchor="middle">24</text><line x1="360.8" y1="186.8" x2="360.8" y2="188.3" stroke="#000" stroke-width="0.6"/><text x="360.8" y="192.9" font-size="3.6" font-weight="bold" stroke="#000" stroke-width="0.3" text-anchor="middle">26</text><line x1="367" y1="186.8" x2="367" y2="188.3" stroke="#000" stroke-width="0.6"/><text x="367" y="192.9" font-size="3.6" font-weight="bold" stroke="#000" stroke-width="0.3" text-anchor="middle">28</text><line x1="373.2" y1="186.8" x2="373.2" y2="188.3" stroke="#000" stroke-width="0.6"/><text x="373.2" y="192.9" font-size="3.6" font-weight="bold" stroke="#000" stroke-width="0.3" text-anchor="middle">30</text><line x1="379.4" y1="186.8" x2="379.4" y2="188.3" stroke="#000" stroke-width="0.6"/><text x="379.4" y="192.9" font-size="3.6" font-weight="bold" stroke="#000" stroke-width="0.3" text-anchor="middle">32</text><line x1="385.6" y1="186.8" x2="385.6" y2="188.3" stroke="#000" stroke-width="0.6"/><text x="385.6" y="192.9" font-size="3.6" font-weight="bold" stroke="#000" stroke-width="0.3" text-anchor="middle">34</text><line x1="391.8" y1="186.8" x2="391.8" y2="188.3" stroke="#000" stroke-width="0.6"/><text x="391.8" y="192.9" font-size="3.6" font-weight="bold" stroke="#000" stroke-width="0.3" text-anchor="middle">36</text><line x1="398" y1="186.8" x2="398" y2="188.3" stroke="#000" stroke-width="0.6"/><text x="398" y="192.9" font-size="3.6" font-weight="bold" stroke="#000" stroke-width="0.3" text-anchor="middle">38</text><line x1="404.2" y1="186.8" x2="404.2" y2="188.3" stroke="#000" stroke-width="0.6"/><text x="404.2" y="192.9" font-size="3.6" font-weight="bold" stroke="#000" stroke-width="0.3" text-anchor="middle">40</text><line x1="410.4" y1="186.8" x2="410.4" y2="188.3" stroke="#000" stroke-width="0.6"/><text x="410.4" y="192.9" font-size="3.6" font-weight="bold" stroke="#000" stroke-width="0.3" text-anchor="middle">42</text><line x1="416.6" y1="186.8" x2="416.6" y2="188.3" stroke="#000" stroke-width="0.6"/><text x="416.6" y="192.9" font-size="3.6" font-weight="bold" stroke="#000" stroke-width="0.3" text-anchor="middle">44</text><line x1="422.8" y1="186.8" x2="422.8" y2="188.3" stroke="#000" stroke-width="0.6"/><text x="422.8" y="192.9" font-size="3.6" font-weight="bold" stroke="#000" stroke-width="0.3" text-anchor="middle">46</text><line x1="429" y1="186.8" x2="429" y2="188.3" stroke="#000" stroke-width="0.6"/><text x="429" y="192.9" font-size="3.6" font-weight="bold" stroke="#000" stroke-width="0.3" text-anchor="middle">48</text><line x1="435.2" y1="186.8" x2="435.2" y2="188.3" stroke="#000" stroke-width="0.6"/><text x="435.2" y="192.9" font-size="3.6" font-weight="bold" stroke="#000" stroke-width="0.3" text-anchor="middle">50</text><line x1="441.4" y1="186.8" x2="441.4" y2="188.3" stroke="#000" stroke-width="0.6"/><text x="441.4" y="192.9" font-size="3.6" font-weight="bold" stroke="#000" stroke-width="0.3" text-anchor="middle">52</text><line x1="447.6" y1="186.8" x2="447.6" y2="188.3" stroke="#000" stroke-width="0.6"/><text x="447.6" y="192.9" font-size="3.6" font-weight="bold" stroke="#000" stroke-width="0.3" text-anchor="middle">54</text><line x1="280.2" y1="180.4" x2="447.6" y2="180.4" stroke="#000" stroke-width="1.2"/><polyline points="283.3,186.8 286.4,186.8 289.5,181.49 292.6,186.8 295.7,186.8 298.8,186.8 301.9,186.8 305,186.8 308.1,181.49 311.2,176.18 314.3,186.8 317.4,186.8 320.5,186.8 323.6,186.8 326.7,186.8 329.8,186.8 332.9,186.8 336,186.8 339.1,176.18 342.2,181.49 345.3,186.8 348.4,176.18 351.5,181.49 354.6,186.8 357.7,186.8 360.8,186.8 363.9,176.18 367,186.8 370.1,181.49 373.2,186.8 376.3,186.8 379.4,186.8 382.5,186.8 385.6,186.8 388.7,186.8 391.8,186.8 394.9,186.8 398,186.8 401.1,186.8 404.2,181.49 407.3,181.49 410.4,186.8 413.5,170.87 416.6,181.49 419.7,186.8 422.8,186.8 425.9,186.8 429,186.8 432.1,186.8 435.2,186.8 438.3,186.8 441.4,181.49" fill="none" stroke="#ff2608" stroke-width="1.15" stroke-linejoin="round"/><circle cx="283.3" cy="186.8" r="1.4" fill="#ff2608"/><circle cx="286.4" cy="186.8" r="1.4" fill="#ff2608"/><circle cx="289.5" cy="181.49" r="1.4" fill="#ff2608"/><circle cx="292.6" cy="186.8" r="1.4" fill="#ff2608"/><circle cx="295.7" cy="186.8" r="1.4" fill="#ff2608"/><circle cx="298.8" cy="186.8" r="1.4" fill="#ff2608"/><circle cx="301.9" cy="186.8" r="1.4" fill="#ff2608"/><circle cx="305" cy="186.8" r="1.4" fill="#ff2608"/><circle cx="308.1" cy="181.49" r="1.4" fill="#ff2608"/><circle cx="311.2" cy="176.18" r="1.4" fill="#ff2608"/><circle cx="314.3" cy="186.8" r="1.4" fill="#ff2608"/><circle cx="317.4" cy="186.8" r="1.4" fill="#ff2608"/><circle cx="320.5" cy="186.8" r="1.4" fill="#ff2608"/><circle cx="323.6" cy="186.8" r="1.4" fill="#ff2608"/><circle cx="326.7" cy="186.8" r="1.4" fill="#ff2608"/><circle cx="329.8" cy="186.8" r="1.4" fill="#ff2608"/><circle cx="332.9" cy="186.8" r="1.4" fill="#ff2608"/><circle cx="336" cy="186.8" r="1.4" fill="#ff2608"/><circle cx="339.1" cy="176.18" r="1.4" fill="#ff2608"/><circle cx="342.2" cy="181.49" r="1.4" fill="#ff2608"/><circle cx="345.3" cy="186.8" r="1.4" fill="#ff2608"/><circle cx="348.4" cy="176.18" r="1.4" fill="#ff2608"/><circle cx="351.5" cy="181.49" r="1.4" fill="#ff2608"/><circle cx="354.6" cy="186.8" r="1.4" fill="#ff2608"/><circle cx="357.7" cy="186.8" r="1.4" fill="#ff2608"/><circle cx="360.8" cy="186.8" r="1.4" fill="#ff2608"/><circle cx="363.9" cy="176.18" r="1.4" fill="#ff2608"/><circle cx="367" cy="186.8" r="1.4" fill="#ff2608"/><circle cx="370.1" cy="181.49" r="1.4" fill="#ff2608"/><circle cx="373.2" cy="186.8" r="1.4" fill="#ff2608"/><circle cx="376.3" cy="186.8" r="1.4" fill="#ff2608"/><circle cx="379.4" cy="186.8" r="1.4" fill="#ff2608"/><circle cx="382.5" cy="186.8" r="1.4" fill="#ff2608"/><circle cx="385.6" cy="186.8" r="1.4" fill="#ff2608"/><circle cx="388.7" cy="186.8" r="1.4" fill="#ff2608"/><circle cx="391.8" cy="186.8" r="1.4" fill="#ff2608"/><circle cx="394.9" cy="186.8" r="1.4" fill="#ff2608"/><circle cx="398" cy="186.8" r="1.4" fill="#ff2608"/><circle cx="401.1" cy="186.8" r="1.4" fill="#ff2608"/><circle cx="404.2" cy="181.49" r="1.4" fill="#ff2608"/><circle cx="407.3" cy="181.49" r="1.4" fill="#ff2608"/><circle cx="410.4" cy="186.8" r="1.4" fill="#ff2608"/><circle cx="413.5" cy="170.87" r="1.4" fill="#ff2608"/><circle cx="416.6" cy="181.49" r="1.4" fill="#ff2608"/><circle cx="419.7" cy="186.8" r="1.4" fill="#ff2608"/><circle cx="422.8" cy="186.8" r="1.4" fill="#ff2608"/><circle cx="425.9" cy="186.8" r="1.4" fill="#ff2608"/><circle cx="429" cy="186.8" r="1.4" fill="#ff2608"/><circle cx="432.1" cy="186.8" r="1.4" fill="#ff2608"/><circle cx="435.2" cy="186.8" r="1.4" fill="#ff2608"/><circle cx="438.3" cy="186.8" r="1.4" fill="#ff2608"/><circle cx="441.4" cy="181.49" r="1.4" fill="#ff2608"/><rect x="282.2" y="180.39" width="2.2" height="2.2" fill="#fff" stroke="#000" stroke-width="1.5"/><rect x="285.3" y="185.7" width="2.2" height="2.2" fill="#fff" stroke="#000" stroke-width="1.5"/><rect x="288.4" y="185.7" width="2.2" height="2.2" fill="#fff" stroke="#000" stroke-width="1.5"/><rect x="291.5" y="185.7" width="2.2" height="2.2" fill="#fff" stroke="#000" stroke-width="1.5"/><rect x="294.6" y="185.7" width="2.2" height="2.2" fill="#fff" stroke="#000" stroke-width="1.5"/><rect x="297.7" y="180.39" width="2.2" height="2.2" fill="#fff" stroke="#000" stroke-width="1.5"/><rect x="300.8" y="180.39" width="2.2" height="2.2" fill="#fff" stroke="#000" stroke-width="1.5"/><rect x="303.9" y="180.39" width="2.2" height="2.2" fill="#fff" stroke="#000" stroke-width="1.5"/><rect x="307" y="175.08" width="2.2" height="2.2" fill="#fff" stroke="#000" stroke-width="1.5"/><rect x="310.1" y="185.7" width="2.2" height="2.2" fill="#fff" stroke="#000" stroke-width="1.5"/><rect x="313.2" y="169.77" width="2.2" height="2.2" fill="#fff" stroke="#000" stroke-width="1.5"/><rect x="316.3" y="180.39" width="2.2" height="2.2" fill="#fff" stroke="#000" stroke-width="1.5"/><rect x="319.4" y="185.7" width="2.2" height="2.2" fill="#fff" stroke="#000" stroke-width="1.5"/><rect x="322.5" y="185.7" width="2.2" height="2.2" fill="#fff" stroke="#000" stroke-width="1.5"/><rect x="325.6" y="185.7" width="2.2" height="2.2" fill="#fff" stroke="#000" stroke-width="1.5"/><rect x="328.7" y="175.08" width="2.2" height="2.2" fill="#fff" stroke="#000" stroke-width="1.5"/><rect x="331.8" y="185.7" width="2.2" height="2.2" fill="#fff" stroke="#000" stroke-width="1.5"/><rect x="334.9" y="185.7" width="2.2" height="2.2" fill="#fff" stroke="#000" stroke-width="1.5"/><rect x="338" y="180.39" width="2.2" height="2.2" fill="#fff" stroke="#000" stroke-width="1.5"/><rect x="341.1" y="185.7" width="2.2" height="2.2" fill="#fff" stroke="#000" stroke-width="1.5"/><rect x="344.2" y="180.39" width="2.2" height="2.2" fill="#fff" stroke="#000" stroke-width="1.5"/><rect x="347.3" y="185.7" width="2.2" height="2.2" fill="#fff" stroke="#000" stroke-width="1.5"/><rect x="350.4" y="169.77" width="2.2" height="2.2" fill="#fff" stroke="#000" stroke-width="1.5"/><rect x="353.5" y="185.7" width="2.2" height="2.2" fill="#fff" stroke="#000" stroke-width="1.5"/><rect x="356.6" y="185.7" width="2.2" height="2.2" fill="#fff" stroke="#000" stroke-width="1.5"/><rect x="359.7" y="185.7" width="2.2" height="2.2" fill="#fff" stroke="#000" stroke-width="1.5"/><rect x="362.8" y="185.7" width="2.2" height="2.2" fill="#fff" stroke="#000" stroke-width="1.5"/><rect x="365.9" y="185.7" width="2.2" height="2.2" fill="#fff" stroke="#000" stroke-width="1.5"/><rect x="369" y="185.7" width="2.2" height="2.2" fill="#fff" stroke="#000" stroke-width="1.5"/><rect x="372.1" y="185.7" width="2.2" height="2.2" fill="#fff" stroke="#000" stroke-width="1.5"/><rect x="375.2" y="185.7" width="2.2" height="2.2" fill="#fff" stroke="#000" stroke-width="1.5"/><rect x="378.3" y="180.39" width="2.2" height="2.2" fill="#fff" stroke="#000" stroke-width="1.5"/><rect x="381.4" y="185.7" width="2.2" height="2.2" fill="#fff" stroke="#000" stroke-width="1.5"/><rect x="384.5" y="185.7" width="2.2" height="2.2" fill="#fff" stroke="#000" stroke-width="1.5"/><rect x="387.6" y="185.7" width="2.2" height="2.2" fill="#fff" stroke="#000" stroke-width="1.5"/><rect x="390.7" y="185.7" width="2.2" height="2.2" fill="#fff" stroke="#000" stroke-width="1.5"/><rect x="393.8" y="185.7" width="2.2" height="2.2" fill="#fff" stroke="#000" stroke-width="1.5"/><rect x="396.9" y="185.7" width="2.2" height="2.2" fill="#fff" stroke="#000" stroke-width="1.5"/><rect x="400" y="185.7" width="2.2" height="2.2" fill="#fff" stroke="#000" stroke-width="1.5"/><rect x="403.1" y="185.7" width="2.2" height="2.2" fill="#fff" stroke="#000" stroke-width="1.5"/><rect x="406.2" y="185.7" width="2.2" height="2.2" fill="#fff" stroke="#000" stroke-width="1.5"/><rect x="409.3" y="180.39" width="2.2" height="2.2" fill="#fff" stroke="#000" stroke-width="1.5"/><rect x="412.4" y="180.39" width="2.2" height="2.2" fill="#fff" stroke="#000" stroke-width="1.5"/><rect x="415.5" y="180.39" width="2.2" height="2.2" fill="#fff" stroke="#000" stroke-width="1.5"/><rect x="418.6" y="180.39" width="2.2" height="2.2" fill="#fff" stroke="#000" stroke-width="1.5"/><rect x="421.7" y="185.7" width="2.2" height="2.2" fill="#fff" stroke="#000" stroke-width="1.5"/><rect x="424.8" y="185.7" width="2.2" height="2.2" fill="#fff" stroke="#000" stroke-width="1.5"/><rect x="427.9" y="180.39" width="2.2" height="2.2" fill="#fff" stroke="#000" stroke-width="1.5"/><rect x="431" y="185.7" width="2.2" height="2.2" fill="#fff" stroke="#000" stroke-width="1.5"/><rect x="434.1" y="185.7" width="2.2" height="2.2" fill="#fff" stroke="#000" stroke-width="1.5"/><rect x="437.2" y="185.7" width="2.2" height="2.2" fill="#fff" stroke="#000" stroke-width="1.5"/><rect x="440.3" y="185.7" width="2.2" height="2.2" fill="#fff" stroke="#000" stroke-width="1.5"/><polyline points="283.3,181.49 286.4,186.8 289.5,186.8 292.6,186.8 295.7,186.8 298.8,181.49 301.9,181.49 305,181.49 308.1,176.18 311.2,186.8 314.3,170.87 317.4,181.49 320.5,186.8 323.6,186.8 326.7,186.8 329.8,176.18 332.9,186.8 336,186.8 339.1,181.49 342.2,186.8 345.3,181.49 348.4,186.8 351.5,170.87 354.6,186.8 357.7,186.8 360.8,186.8 363.9,186.8 367,186.8 370.1,186.8 373.2,186.8 376.3,186.8 379.4,181.49 382.5,186.8 385.6,186.8 388.7,186.8 391.8,186.8 394.9,186.8 398,186.8 401.1,186.8 404.2,186.8 407.3,186.8 410.4,181.49 413.5,181.49 416.6,181.49 419.7,181.49 422.8,186.8 425.9,186.8 429,181.49 432.1,186.8 435.2,186.8 438.3,186.8 441.4,186.8" fill="none" stroke="#000" stroke-width="1.2" stroke-linejoin="round"/></g>
<g><text x="556.3" y="126.1" font-weight="bold" font-size="12.5" stroke="#000" stroke-width="0.35" textLength="102.5" lengthAdjust="spacingAndGlyphs">Influenza H3 virus</text><path d="M511.5 132.7 V185.7 H681.06" fill="none" stroke="#2a2a2a" stroke-width="1.1"/><line x1="509.5" y1="185.7" x2="511.5" y2="185.7" stroke="#000" stroke-width="0.8"/><text x="509.3" y="187.2" font-size="4.4" font-weight="bold" stroke="#000" stroke-width="0.3" text-anchor="end">0</text><line x1="509.5" y1="175.1" x2="511.5" y2="175.1" stroke="#000" stroke-width="0.8"/><text x="509.3" y="176.6" font-size="4.4" font-weight="bold" stroke="#000" stroke-width="0.3" text-anchor="end">2</text><line x1="509.5" y1="164.5" x2="511.5" y2="164.5" stroke="#000" stroke-width="0.8"/><text x="509.3" y="166" font-size="4.4" font-weight="bold" stroke="#000" stroke-width="0.3" text-anchor="end">4</text><line x1="509.5" y1="153.9" x2="511.5" y2="153.9" stroke="#000" stroke-width="0.8"/><text x="509.3" y="155.4" font-size="4.4" font-weight="bold" stroke="#000" stroke-width="0.3" text-anchor="end">6</text><line x1="509.5" y1="143.3" x2="511.5" y2="143.3" stroke="#000" stroke-width="0.8"/><text x="509.3" y="144.8" font-size="4.4" font-weight="bold" stroke="#000" stroke-width="0.3" text-anchor="end">8</text><line x1="509.5" y1="132.7" x2="511.5" y2="132.7" stroke="#000" stroke-width="0.8"/><text x="509.3" y="134.2" font-size="4.4" font-weight="bold" stroke="#000" stroke-width="0.3" text-anchor="end">10</text><line x1="511.5" y1="185.7" x2="511.5" y2="187.2" stroke="#000" stroke-width="0.6"/><text x="511.5" y="191.8" font-size="3.6" font-weight="bold" stroke="#000" stroke-width="0.3" text-anchor="middle">0</text><line x1="517.78" y1="185.7" x2="517.78" y2="187.2" stroke="#000" stroke-width="0.6"/><text x="517.78" y="191.8" font-size="3.6" font-weight="bold" stroke="#000" stroke-width="0.3" text-anchor="middle">2</text><line x1="524.06" y1="185.7" x2="524.06" y2="187.2" stroke="#000" stroke-width="0.6"/><text x="524.06" y="191.8" font-size="3.6" font-weight="bold" stroke="#000" stroke-width="0.3" text-anchor="middle">4</text><line x1="530.34" y1="185.7" x2="530.34" y2="187.2" stroke="#000" stroke-width="0.6"/><text x="530.34" y="191.8" font-size="3.6" font-weight="bold" stroke="#000" stroke-width="0.3" text-anchor="middle">6</text><line x1="536.62" y1="185.7" x2="536.62" y2="187.2" stroke="#000" stroke-width="0.6"/><text x="536.62" y="191.8" font-size="3.6" font-weight="bold" stroke="#000" stroke-width="0.3" text-anchor="middle">8</text><line x1="542.9" y1="185.7" x2="542.9" y2="187.2" stroke="#000" stroke-width="0.6"/><text x="542.9" y="191.8" font-size="3.6" font-weight="bold" stroke="#000" stroke-width="0.3" text-anchor="middle">10</text><line x1="549.18" y1="185.7" x2="549.18" y2="187.2" stroke="#000" stroke-width="0.6"/><text x="549.18" y="191.8" font-size="3.6" font-weight="bold" stroke="#000" stroke-width="0.3" text-anchor="middle">12</text><line x1="555.46" y1="185.7" x2="555.46" y2="187.2" stroke="#000" stroke-width="0.6"/><text x="555.46" y="191.8" font-size="3.6" font-weight="bold" stroke="#000" stroke-width="0.3" text-anchor="middle">14</text><line x1="561.74" y1="185.7" x2="561.74" y2="187.2" stroke="#000" stroke-width="0.6"/><text x="561.74" y="191.8" font-size="3.6" font-weight="bold" stroke="#000" stroke-width="0.3" text-anchor="middle">16</text><line x1="568.02" y1="185.7" x2="568.02" y2="187.2" stroke="#000" stroke-width="0.6"/><text x="568.02" y="191.8" font-size="3.6" font-weight="bold" stroke="#000" stroke-width="0.3" text-anchor="middle">18</text><line x1="574.3" y1="185.7" x2="574.3" y2="187.2" stroke="#000" stroke-width="0.6"/><text x="574.3" y="191.8" font-size="3.6" font-weight="bold" stroke="#000" stroke-width="0.3" text-anchor="middle">20</text><line x1="580.58" y1="185.7" x2="580.58" y2="187.2" stroke="#000" stroke-width="0.6"/><text x="580.58" y="191.8" font-size="3.6" font-weight="bold" stroke="#000" stroke-width="0.3" text-anchor="middle">22</text><line x1="586.86" y1="185.7" x2="586.86" y2="187.2" stroke="#000" stroke-width="0.6"/><text x="586.86" y="191.8" font-size="3.6" font-weight="bold" stroke="#000" stroke-width="0.3" text-anchor="middle">24</text><line x1="593.14" y1="185.7" x2="593.14" y2="187.2" stroke="#000" stroke-width="0.6"/><text x="593.14" y="191.8" font-size="3.6" font-weight="bold" stroke="#000" stroke-width="0.3" text-anchor="middle">26</text><line x1="599.42" y1="185.7" x2="599.42" y2="187.2" stroke="#000" stroke-width="0.6"/><text x="599.42" y="191.8" font-size="3.6" font-weight="bold" stroke="#000" stroke-width="0.3" text-anchor="middle">28</text><line x1="605.7" y1="185.7" x2="605.7" y2="187.2" stroke="#000" stroke-width="0.6"/><text x="605.7" y="191.8" font-size="3.6" font-weight="bold" stroke="#000" stroke-width="0.3" text-anchor="middle">30</text><line x1="611.98" y1="185.7" x2="611.98" y2="187.2" stroke="#000" stroke-width="0.6"/><text x="611.98" y="191.8" font-size="3.6" font-weight="bold" stroke="#000" stroke-width="0.3" text-anchor="middle">32</text><line x1="618.26" y1="185.7" x2="618.26" y2="187.2" stroke="#000" stroke-width="0.6"/><text x="618.26" y="191.8" font-size="3.6" font-weight="bold" stroke="#000" stroke-width="0.3" text-anchor="middle">34</text><line x1="624.54" y1="185.7" x2="624.54" y2="187.2" stroke="#000" stroke-width="0.6"/><text x="624.54" y="191.8" font-size="3.6" font-weight="bold" stroke="#000" stroke-width="0.3" text-anchor="middle">36</text><line x1="630.82" y1="185.7" x2="630.82" y2="187.2" stroke="#000" stroke-width="0.6"/><text x="630.82" y="191.8" font-size="3.6" font-weight="bold" stroke="#000" stroke-width="0.3" text-anchor="middle">38</text><line x1="637.1" y1="185.7" x2="637.1" y2="187.2" stroke="#000" stroke-width="0.6"/><text x="637.1" y="191.8" font-size="3.6" font-weight="bold" stroke="#000" stroke-width="0.3" text-anchor="middle">40</text><line x1="643.38" y1="185.7" x2="643.38" y2="187.2" stroke="#000" stroke-width="0.6"/><text x="643.38" y="191.8" font-size="3.6" font-weight="bold" stroke="#000" stroke-width="0.3" text-anchor="middle">42</text><line x1="649.66" y1="185.7" x2="649.66" y2="187.2" stroke="#000" stroke-width="0.6"/><text x="649.66" y="191.8" font-size="3.6" font-weight="bold" stroke="#000" stroke-width="0.3" text-anchor="middle">44</text><line x1="655.94" y1="185.7" x2="655.94" y2="187.2" stroke="#000" stroke-width="0.6"/><text x="655.94" y="191.8" font-size="3.6" font-weight="bold" stroke="#000" stroke-width="0.3" text-anchor="middle">46</text><line x1="662.22" y1="185.7" x2="662.22" y2="187.2" stroke="#000" stroke-width="0.6"/><text x="662.22" y="191.8" font-size="3.6" font-weight="bold" stroke="#000" stroke-width="0.3" text-anchor="middle">48</text><line x1="668.5" y1="185.7" x2="668.5" y2="187.2" stroke="#000" stroke-width="0.6"/><text x="668.5" y="191.8" font-size="3.6" font-weight="bold" stroke="#000" stroke-width="0.3" text-anchor="middle">50</text><line x1="674.78" y1="185.7" x2="674.78" y2="187.2" stroke="#000" stroke-width="0.6"/><text x="674.78" y="191.8" font-size="3.6" font-weight="bold" stroke="#000" stroke-width="0.3" text-anchor="middle">52</text><line x1="681.06" y1="185.7" x2="681.06" y2="187.2" stroke="#000" stroke-width="0.6"/><text x="681.06" y="191.8" font-size="3.6" font-weight="bold" stroke="#000" stroke-width="0.3" text-anchor="middle">54</text><line x1="511.5" y1="174.6" x2="681.06" y2="174.6" stroke="#ff5a48" stroke-width="1.6"/><line x1="511.5" y1="180.8" x2="681.06" y2="180.8" stroke="#777" stroke-width="1.5"/><polyline points="514.64,169.8 517.78,180.4 520.92,180.4 524.06,185.7 527.2,185.7 530.34,180.4 533.48,159.2 536.62,185.7 539.76,185.7 542.9,185.7 546.04,185.7 549.18,185.7 552.32,185.7 555.46,185.7 558.6,185.7 561.74,185.7 564.88,185.7 568.02,185.7 571.16,185.7 574.3,185.7 577.44,185.7 580.58,185.7 583.72,180.4 586.86,185.7 590,185.7 593.14,185.7 596.28,185.7 599.42,169.8 602.56,175.1 605.7,180.4 608.84,180.4 611.98,180.4 615.12,185.7 618.26,169.8 621.4,175.1 624.54,185.7 627.68,185.7 630.82,185.7 633.96,185.7 637.1,185.7 640.24,143.3 643.38,185.7 646.52,185.7 649.66,185.7 652.8,185.7 655.94,185.7 659.08,185.7 662.22,185.7 665.36,180.4 668.5,185.7 671.64,185.7 674.78,185.7" fill="none" stroke="#ff2608" stroke-width="1.15" stroke-linejoin="round"/><circle cx="514.64" cy="169.8" r="1.4" fill="#ff2608"/><circle cx="517.78" cy="180.4" r="1.4" fill="#ff2608"/><circle cx="520.92" cy="180.4" r="1.4" fill="#ff2608"/><circle cx="524.06" cy="185.7" r="1.4" fill="#ff2608"/><circle cx="527.2" cy="185.7" r="1.4" fill="#ff2608"/><circle cx="530.34" cy="180.4" r="1.4" fill="#ff2608"/><circle cx="533.48" cy="159.2" r="1.4" fill="#ff2608"/><circle cx="536.62" cy="185.7" r="1.4" fill="#ff2608"/><circle cx="539.76" cy="185.7" r="1.4" fill="#ff2608"/><circle cx="542.9" cy="185.7" r="1.4" fill="#ff2608"/><circle cx="546.04" cy="185.7" r="1.4" fill="#ff2608"/><circle cx="549.18" cy="185.7" r="1.4" fill="#ff2608"/><circle cx="552.32" cy="185.7" r="1.4" fill="#ff2608"/><circle cx="555.46" cy="185.7" r="1.4" fill="#ff2608"/><circle cx="558.6" cy="185.7" r="1.4" fill="#ff2608"/><circle cx="561.74" cy="185.7" r="1.4" fill="#ff2608"/><circle cx="564.88" cy="185.7" r="1.4" fill="#ff2608"/><circle cx="568.02" cy="185.7" r="1.4" fill="#ff2608"/><circle cx="571.16" cy="185.7" r="1.4" fill="#ff2608"/><circle cx="574.3" cy="185.7" r="1.4" fill="#ff2608"/><circle cx="577.44" cy="185.7" r="1.4" fill="#ff2608"/><circle cx="580.58" cy="185.7" r="1.4" fill="#ff2608"/><circle cx="583.72" cy="180.4" r="1.4" fill="#ff2608"/><circle cx="586.86" cy="185.7" r="1.4" fill="#ff2608"/><circle cx="590" cy="185.7" r="1.4" fill="#ff2608"/><circle cx="593.14" cy="185.7" r="1.4" fill="#ff2608"/><circle cx="596.28" cy="185.7" r="1.4" fill="#ff2608"/><circle cx="599.42" cy="169.8" r="1.4" fill="#ff2608"/><circle cx="602.56" cy="175.1" r="1.4" fill="#ff2608"/><circle cx="605.7" cy="180.4" r="1.4" fill="#ff2608"/><circle cx="608.84" cy="180.4" r="1.4" fill="#ff2608"/><circle cx="611.98" cy="180.4" r="1.4" fill="#ff2608"/><circle cx="615.12" cy="185.7" r="1.4" fill="#ff2608"/><circle cx="618.26" cy="169.8" r="1.4" fill="#ff2608"/><circle cx="621.4" cy="175.1" r="1.4" fill="#ff2608"/><circle cx="624.54" cy="185.7" r="1.4" fill="#ff2608"/><circle cx="627.68" cy="185.7" r="1.4" fill="#ff2608"/><circle cx="630.82" cy="185.7" r="1.4" fill="#ff2608"/><circle cx="633.96" cy="185.7" r="1.4" fill="#ff2608"/><circle cx="637.1" cy="185.7" r="1.4" fill="#ff2608"/><circle cx="640.24" cy="143.3" r="1.4" fill="#ff2608"/><circle cx="643.38" cy="185.7" r="1.4" fill="#ff2608"/><circle cx="646.52" cy="185.7" r="1.4" fill="#ff2608"/><circle cx="649.66" cy="185.7" r="1.4" fill="#ff2608"/><circle cx="652.8" cy="185.7" r="1.4" fill="#ff2608"/><circle cx="655.94" cy="185.7" r="1.4" fill="#ff2608"/><circle cx="659.08" cy="185.7" r="1.4" fill="#ff2608"/><circle cx="662.22" cy="185.7" r="1.4" fill="#ff2608"/><circle cx="665.36" cy="180.4" r="1.4" fill="#ff2608"/><circle cx="668.5" cy="185.7" r="1.4" fill="#ff2608"/><circle cx="671.64" cy="185.7" r="1.4" fill="#ff2608"/><circle cx="674.78" cy="185.7" r="1.4" fill="#ff2608"/><rect x="513.54" y="184.6" width="2.2" height="2.2" fill="#fff" stroke="#000" stroke-width="1.5"/><rect x="516.68" y="184.6" width="2.2" height="2.2" fill="#fff" stroke="#000" stroke-width="1.5"/><rect x="519.82" y="184.6" width="2.2" height="2.2" fill="#fff" stroke="#000" stroke-width="1.5"/><rect x="522.96" y="184.6" width="2.2" height="2.2" fill="#fff" stroke="#000" stroke-width="1.5"/><rect x="526.1" y="184.6" width="2.2" height="2.2" fill="#fff" stroke="#000" stroke-width="1.5"/><rect x="529.24" y="184.6" width="2.2" height="2.2" fill="#fff" stroke="#000" stroke-width="1.5"/><rect x="532.38" y="184.6" width="2.2" height="2.2" fill="#fff" stroke="#000" stroke-width="1.5"/><rect x="535.52" y="179.3" width="2.2" height="2.2" fill="#fff" stroke="#000" stroke-width="1.5"/><rect x="538.66" y="184.6" width="2.2" height="2.2" fill="#fff" stroke="#000" stroke-width="1.5"/><rect x="541.8" y="184.6" width="2.2" height="2.2" fill="#fff" stroke="#000" stroke-width="1.5"/><rect x="544.94" y="184.6" width="2.2" height="2.2" fill="#fff" stroke="#000" stroke-width="1.5"/><rect x="548.08" y="184.6" width="2.2" height="2.2" fill="#fff" stroke="#000" stroke-width="1.5"/><rect x="551.22" y="184.6" width="2.2" height="2.2" fill="#fff" stroke="#000" stroke-width="1.5"/><rect x="554.36" y="184.6" width="2.2" height="2.2" fill="#fff" stroke="#000" stroke-width="1.5"/><rect x="557.5" y="184.6" width="2.2" height="2.2" fill="#fff" stroke="#000" stroke-width="1.5"/><rect x="560.64" y="184.6" width="2.2" height="2.2" fill="#fff" stroke="#000" stroke-width="1.5"/><rect x="563.78" y="184.6" width="2.2" height="2.2" fill="#fff" stroke="#000" stroke-width="1.5"/><rect x="566.92" y="184.6" width="2.2" height="2.2" fill="#fff" stroke="#000" stroke-width="1.5"/><rect x="570.06" y="184.6" width="2.2" height="2.2" fill="#fff" stroke="#000" stroke-width="1.5"/><rect x="573.2" y="184.6" width="2.2" height="2.2" fill="#fff" stroke="#000" stroke-width="1.5"/><rect x="576.34" y="184.6" width="2.2" height="2.2" fill="#fff" stroke="#000" stroke-width="1.5"/><rect x="579.48" y="184.6" width="2.2" height="2.2" fill="#fff" stroke="#000" stroke-width="1.5"/><rect x="582.62" y="184.6" width="2.2" height="2.2" fill="#fff" stroke="#000" stroke-width="1.5"/><rect x="585.76" y="184.6" width="2.2" height="2.2" fill="#fff" stroke="#000" stroke-width="1.5"/><rect x="588.9" y="184.6" width="2.2" height="2.2" fill="#fff" stroke="#000" stroke-width="1.5"/><rect x="592.04" y="184.6" width="2.2" height="2.2" fill="#fff" stroke="#000" stroke-width="1.5"/><rect x="595.18" y="184.6" width="2.2" height="2.2" fill="#fff" stroke="#000" stroke-width="1.5"/><rect x="598.32" y="179.3" width="2.2" height="2.2" fill="#fff" stroke="#000" stroke-width="1.5"/><rect x="601.46" y="184.6" width="2.2" height="2.2" fill="#fff" stroke="#000" stroke-width="1.5"/><rect x="604.6" y="184.6" width="2.2" height="2.2" fill="#fff" stroke="#000" stroke-width="1.5"/><rect x="607.74" y="179.3" width="2.2" height="2.2" fill="#fff" stroke="#000" stroke-width="1.5"/><rect x="610.88" y="163.4" width="2.2" height="2.2" fill="#fff" stroke="#000" stroke-width="1.5"/><rect x="614.02" y="184.6" width="2.2" height="2.2" fill="#fff" stroke="#000" stroke-width="1.5"/><rect x="617.16" y="174" width="2.2" height="2.2" fill="#fff" stroke="#000" stroke-width="1.5"/><rect x="620.3" y="184.6" width="2.2" height="2.2" fill="#fff" stroke="#000" stroke-width="1.5"/><rect x="623.44" y="184.6" width="2.2" height="2.2" fill="#fff" stroke="#000" stroke-width="1.5"/><rect x="626.58" y="184.6" width="2.2" height="2.2" fill="#fff" stroke="#000" stroke-width="1.5"/><rect x="629.72" y="184.6" width="2.2" height="2.2" fill="#fff" stroke="#000" stroke-width="1.5"/><rect x="632.86" y="184.6" width="2.2" height="2.2" fill="#fff" stroke="#000" stroke-width="1.5"/><rect x="636" y="179.3" width="2.2" height="2.2" fill="#fff" stroke="#000" stroke-width="1.5"/><rect x="639.14" y="184.6" width="2.2" height="2.2" fill="#fff" stroke="#000" stroke-width="1.5"/><rect x="642.28" y="184.6" width="2.2" height="2.2" fill="#fff" stroke="#000" stroke-width="1.5"/><rect x="645.42" y="179.3" width="2.2" height="2.2" fill="#fff" stroke="#000" stroke-width="1.5"/><rect x="648.56" y="184.6" width="2.2" height="2.2" fill="#fff" stroke="#000" stroke-width="1.5"/><rect x="651.7" y="184.6" width="2.2" height="2.2" fill="#fff" stroke="#000" stroke-width="1.5"/><rect x="654.84" y="184.6" width="2.2" height="2.2" fill="#fff" stroke="#000" stroke-width="1.5"/><rect x="657.98" y="184.6" width="2.2" height="2.2" fill="#fff" stroke="#000" stroke-width="1.5"/><rect x="661.12" y="184.6" width="2.2" height="2.2" fill="#fff" stroke="#000" stroke-width="1.5"/><rect x="664.26" y="179.3" width="2.2" height="2.2" fill="#fff" stroke="#000" stroke-width="1.5"/><rect x="667.4" y="184.6" width="2.2" height="2.2" fill="#fff" stroke="#000" stroke-width="1.5"/><rect x="670.54" y="184.6" width="2.2" height="2.2" fill="#fff" stroke="#000" stroke-width="1.5"/><rect x="673.68" y="179.3" width="2.2" height="2.2" fill="#fff" stroke="#000" stroke-width="1.5"/><polyline points="514.64,185.7 517.78,185.7 520.92,185.7 524.06,185.7 527.2,185.7 530.34,185.7 533.48,185.7 536.62,180.4 539.76,185.7 542.9,185.7 546.04,185.7 549.18,185.7 552.32,185.7 555.46,185.7 558.6,185.7 561.74,185.7 564.88,185.7 568.02,185.7 571.16,185.7 574.3,185.7 577.44,185.7 580.58,185.7 583.72,185.7 586.86,185.7 590,185.7 593.14,185.7 596.28,185.7 599.42,180.4 602.56,185.7 605.7,185.7 608.84,180.4 611.98,164.5 615.12,185.7 618.26,175.1 621.4,185.7 624.54,185.7 627.68,185.7 630.82,185.7 633.96,185.7 637.1,180.4 640.24,185.7 643.38,185.7 646.52,180.4 649.66,185.7 652.8,185.7 655.94,185.7 659.08,185.7 662.22,185.7 665.36,180.4 668.5,185.7 671.64,185.7 674.78,180.4" fill="none" stroke="#000" stroke-width="1.2" stroke-linejoin="round"/></g>
<g><text x="84.2" y="220.2" font-weight="bold" font-size="12.5" stroke="#000" stroke-width="0.35" textLength="96.1" lengthAdjust="spacingAndGlyphs">Influenza B virus</text><path d="M40.6 235.2 V291.8 H224.2" fill="none" stroke="#2a2a2a" stroke-width="1.1"/><line x1="38.6" y1="291.8" x2="40.6" y2="291.8" stroke="#000" stroke-width="0.8"/><text x="38.4" y="293.3" font-size="4.4" font-weight="bold" stroke="#000" stroke-width="0.3" text-anchor="end">0</text><line x1="38.6" y1="277.65" x2="40.6" y2="277.65" stroke="#000" stroke-width="0.8"/><text x="38.4" y="279.15" font-size="4.4" font-weight="bold" stroke="#000" stroke-width="0.3" text-anchor="end">5</text><line x1="38.6" y1="263.5" x2="40.6" y2="263.5" stroke="#000" stroke-width="0.8"/><text x="38.4" y="265" font-size="4.4" font-weight="bold" stroke="#000" stroke-width="0.3" text-anchor="end">10</text><line x1="38.6" y1="249.35" x2="40.6" y2="249.35" stroke="#000" stroke-width="0.8"/><text x="38.4" y="250.85" font-size="4.4" font-weight="bold" stroke="#000" stroke-width="0.3" text-anchor="end">15</text><line x1="38.6" y1="235.2" x2="40.6" y2="235.2" stroke="#000" stroke-width="0.8"/><text x="38.4" y="236.7" font-size="4.4" font-weight="bold" stroke="#000" stroke-width="0.3" text-anchor="end">20</text><line x1="40.6" y1="291.8" x2="40.6" y2="293.3" stroke="#000" stroke-width="0.6"/><text x="40.6" y="297.9" font-size="3.6" font-weight="bold" stroke="#000" stroke-width="0.3" text-anchor="middle">0</text><line x1="47.4" y1="291.8" x2="47.4" y2="293.3" stroke="#000" stroke-width="0.6"/><text x="47.4" y="297.9" font-size="3.6" font-weight="bold" stroke="#000" stroke-width="0.3" text-anchor="middle">2</text><line x1="54.2" y1="291.8" x2="54.2" y2="293.3" stroke="#000" stroke-width="0.6"/><text x="54.2" y="297.9" font-size="3.6" font-weight="bold" stroke="#000" stroke-width="0.3" text-anchor="middle">4</text><line x1="61" y1="291.8" x2="61" y2="293.3" stroke="#000" stroke-width="0.6"/><text x="61" y="297.9" font-size="3.6" font-weight="bold" stroke="#000" stroke-width="0.3" text-anchor="middle">6</text><line x1="67.8" y1="291.8" x2="67.8" y2="293.3" stroke="#000" stroke-width="0.6"/><text x="67.8" y="297.9" font-size="3.6" font-weight="bold" stroke="#000" stroke-width="0.3" text-anchor="middle">8</text><line x1="74.6" y1="291.8" x2="74.6" y2="293.3" stroke="#000" stroke-width="0.6"/><text x="74.6" y="297.9" font-size="3.6" font-weight="bold" stroke="#000" stroke-width="0.3" text-anchor="middle">10</text><line x1="81.4" y1="291.8" x2="81.4" y2="293.3" stroke="#000" stroke-width="0.6"/><text x="81.4" y="297.9" font-size="3.6" font-weight="bold" stroke="#000" stroke-width="0.3" text-anchor="middle">12</text><line x1="88.2" y1="291.8" x2="88.2" y2="293.3" stroke="#000" stroke-width="0.6"/><text x="88.2" y="297.9" font-size="3.6" font-weight="bold" stroke="#000" stroke-width="0.3" text-anchor="middle">14</text><line x1="95" y1="291.8" x2="95" y2="293.3" stroke="#000" stroke-width="0.6"/><text x="95" y="297.9" font-size="3.6" font-weight="bold" stroke="#000" stroke-width="0.3" text-anchor="middle">16</text><line x1="101.8" y1="291.8" x2="101.8" y2="293.3" stroke="#000" stroke-width="0.6"/><text x="101.8" y="297.9" font-size="3.6" font-weight="bold" stroke="#000" stroke-width="0.3" text-anchor="middle">18</text><line x1="108.6" y1="291.8" x2="108.6" y2="293.3" stroke="#000" stroke-width="0.6"/><text x="108.6" y="297.9" font-size="3.6" font-weight="bold" stroke="#000" stroke-width="0.3" text-anchor="middle">20</text><line x1="115.4" y1="291.8" x2="115.4" y2="293.3" stroke="#000" stroke-width="0.6"/><text x="115.4" y="297.9" font-size="3.6" font-weight="bold" stroke="#000" stroke-width="0.3" text-anchor="middle">22</text><line x1="122.2" y1="291.8" x2="122.2" y2="293.3" stroke="#000" stroke-width="0.6"/><text x="122.2" y="297.9" font-size="3.6" font-weight="bold" stroke="#000" stroke-width="0.3" text-anchor="middle">24</text><line x1="129" y1="291.8" x2="129" y2="293.3" stroke="#000" stroke-width="0.6"/><text x="129" y="297.9" font-size="3.6" font-weight="bold" stroke="#000" stroke-width="0.3" text-anchor="middle">26</text><line x1="135.8" y1="291.8" x2="135.8" y2="293.3" stroke="#000" stroke-width="0.6"/><text x="135.8" y="297.9" font-size="3.6" font-weight="bold" stroke="#000" stroke-width="0.3" text-anchor="middle">28</text><line x1="142.6" y1="291.8" x2="142.6" y2="293.3" stroke="#000" stroke-width="0.6"/><text x="142.6" y="297.9" font-size="3.6" font-weight="bold" stroke="#000" stroke-width="0.3" text-anchor="middle">30</text><line x1="149.4" y1="291.8" x2="149.4" y2="293.3" stroke="#000" stroke-width="0.6"/><text x="149.4" y="297.9" font-size="3.6" font-weight="bold" stroke="#000" stroke-width="0.3" text-anchor="middle">32</text><line x1="156.2" y1="291.8" x2="156.2" y2="293.3" stroke="#000" stroke-width="0.6"/><text x="156.2" y="297.9" font-size="3.6" font-weight="bold" stroke="#000" stroke-width="0.3" text-anchor="middle">34</text><line x1="163" y1="291.8" x2="163" y2="293.3" stroke="#000" stroke-width="0.6"/><text x="163" y="297.9" font-size="3.6" font-weight="bold" stroke="#000" stroke-width="0.3" text-anchor="middle">36</text><line x1="169.8" y1="291.8" x2="169.8" y2="293.3" stroke="#000" stroke-width="0.6"/><text x="169.8" y="297.9" font-size="3.6" font-weight="bold" stroke="#000" stroke-width="0.3" text-anchor="middle">38</text><line x1="176.6" y1="291.8" x2="176.6" y2="293.3" stroke="#000" stroke-width="0.6"/><text x="176.6" y="297.9" font-size="3.6" font-weight="bold" stroke="#000" stroke-width="0.3" text-anchor="middle">40</text><line x1="183.4" y1="291.8" x2="183.4" y2="293.3" stroke="#000" stroke-width="0.6"/><text x="183.4" y="297.9" font-size="3.6" font-weight="bold" stroke="#000" stroke-width="0.3" text-anchor="middle">42</text><line x1="190.2" y1="291.8" x2="190.2" y2="293.3" stroke="#000" stroke-width="0.6"/><text x="190.2" y="297.9" font-size="3.6" font-weight="bold" stroke="#000" stroke-width="0.3" text-anchor="middle">44</text><line x1="197" y1="291.8" x2="197" y2="293.3" stroke="#000" stroke-width="0.6"/><text x="197" y="297.9" font-size="3.6" font-weight="bold" stroke="#000" stroke-width="0.3" text-anchor="middle">46</text><line x1="203.8" y1="291.8" x2="203.8" y2="293.3" stroke="#000" stroke-width="0.6"/><text x="203.8" y="297.9" font-size="3.6" font-weight="bold" stroke="#000" stroke-width="0.3" text-anchor="middle">48</text><line x1="210.6" y1="291.8" x2="210.6" y2="293.3" stroke="#000" stroke-width="0.6"/><text x="210.6" y="297.9" font-size="3.6" font-weight="bold" stroke="#000" stroke-width="0.3" text-anchor="middle">50</text><line x1="217.4" y1="291.8" x2="217.4" y2="293.3" stroke="#000" stroke-width="0.6"/><text x="217.4" y="297.9" font-size="3.6" font-weight="bold" stroke="#000" stroke-width="0.3" text-anchor="middle">52</text><line x1="224.2" y1="291.8" x2="224.2" y2="293.3" stroke="#000" stroke-width="0.6"/><text x="224.2" y="297.9" font-size="3.6" font-weight="bold" stroke="#000" stroke-width="0.3" text-anchor="middle">54</text><line x1="40.6" y1="280.7" x2="224.2" y2="280.7" stroke="#ff5a48" stroke-width="1.6"/><line x1="40.6" y1="288.5" x2="224.2" y2="288.5" stroke="#777" stroke-width="1.2"/><polyline points="44,288.97 47.4,277.65 50.8,249.35 54.2,249.35 57.6,274.82 61,291.8 64.4,288.97 67.8,286.14 71.2,291.8 74.6,291.8 78,286.14 81.4,288.97 84.8,288.97 88.2,288.97 91.6,288.97 95,291.8 98.4,291.8 101.8,291.8 105.2,291.8 108.6,291.8 112,291.8 115.4,291.8 118.8,291.8 122.2,291.8 125.6,291.8 129,291.8 132.4,291.8 135.8,283.31 139.2,291.8 142.6,291.8 146,291.8 149.4,291.8 152.8,291.8 156.2,291.8 159.6,291.8 163,291.8 166.4,291.8 169.8,291.8 173.2,291.8 176.6,291.8 180,291.8 183.4,291.8 186.8,291.8 190.2,291.8 193.6,291.8 197,291.8 200.4,291.8 203.8,291.8 207.2,291.8 210.6,291.8 214,291.8 217.4,291.8" fill="none" stroke="#ff2608" stroke-width="1.15" stroke-linejoin="round"/><circle cx="44" cy="288.97" r="1.4" fill="#ff2608"/><circle cx="47.4" cy="277.65" r="1.4" fill="#ff2608"/><circle cx="50.8" cy="249.35" r="1.4" fill="#ff2608"/><circle cx="54.2" cy="249.35" r="1.4" fill="#ff2608"/><circle cx="57.6" cy="274.82" r="1.4" fill="#ff2608"/><circle cx="61" cy="291.8" r="1.4" fill="#ff2608"/><circle cx="64.4" cy="288.97" r="1.4" fill="#ff2608"/><circle cx="67.8" cy="286.14" r="1.4" fill="#ff2608"/><circle cx="71.2" cy="291.8" r="1.4" fill="#ff2608"/><circle cx="74.6" cy="291.8" r="1.4" fill="#ff2608"/><circle cx="78" cy="286.14" r="1.4" fill="#ff2608"/><circle cx="81.4" cy="288.97" r="1.4" fill="#ff2608"/><circle cx="84.8" cy="288.97" r="1.4" fill="#ff2608"/><circle cx="88.2" cy="288.97" r="1.4" fill="#ff2608"/><circle cx="91.6" cy="288.97" r="1.4" fill="#ff2608"/><circle cx="95" cy="291.8" r="1.4" fill="#ff2608"/><circle cx="98.4" cy="291.8" r="1.4" fill="#ff2608"/><circle cx="101.8" cy="291.8" r="1.4" fill="#ff2608"/><circle cx="105.2" cy="291.8" r="1.4" fill="#ff2608"/><circle cx="108.6" cy="291.8" r="1.4" fill="#ff2608"/><circle cx="112" cy="291.8" r="1.4" fill="#ff2608"/><circle cx="115.4" cy="291.8" r="1.4" fill="#ff2608"/><circle cx="118.8" cy="291.8" r="1.4" fill="#ff2608"/><circle cx="122.2" cy="291.8" r="1.4" fill="#ff2608"/><circle cx="125.6" cy="291.8" r="1.4" fill="#ff2608"/><circle cx="129" cy="291.8" r="1.4" fill="#ff2608"/><circle cx="132.4" cy="291.8" r="1.4" fill="#ff2608"/><circle cx="135.8" cy="283.31" r="1.4" fill="#ff2608"/><circle cx="139.2" cy="291.8" r="1.4" fill="#ff2608"/><circle cx="142.6" cy="291.8" r="1.4" fill="#ff2608"/><circle cx="146" cy="291.8" r="1.4" fill="#ff2608"/><circle cx="149.4" cy="291.8" r="1.4" fill="#ff2608"/><circle cx="152.8" cy="291.8" r="1.4" fill="#ff2608"/><circle cx="156.2" cy="291.8" r="1.4" fill="#ff2608"/><circle cx="159.6" cy="291.8" r="1.4" fill="#ff2608"/><circle cx="163" cy="291.8" r="1.4" fill="#ff2608"/><circle cx="166.4" cy="291.8" r="1.4" fill="#ff2608"/><circle cx="169.8" cy="291.8" r="1.4" fill="#ff2608"/><circle cx="173.2" cy="291.8" r="1.4" fill="#ff2608"/><circle cx="176.6" cy="291.8" r="1.4" fill="#ff2608"/><circle cx="180" cy="291.8" r="1.4" fill="#ff2608"/><circle cx="183.4" cy="291.8" r="1.4" fill="#ff2608"/><circle cx="186.8" cy="291.8" r="1.4" fill="#ff2608"/><circle cx="190.2" cy="291.8" r="1.4" fill="#ff2608"/><circle cx="193.6" cy="291.8" r="1.4" fill="#ff2608"/><circle cx="197" cy="291.8" r="1.4" fill="#ff2608"/><circle cx="200.4" cy="291.8" r="1.4" fill="#ff2608"/><circle cx="203.8" cy="291.8" r="1.4" fill="#ff2608"/><circle cx="207.2" cy="291.8" r="1.4" fill="#ff2608"/><circle cx="210.6" cy="291.8" r="1.4" fill="#ff2608"/><circle cx="214" cy="291.8" r="1.4" fill="#ff2608"/><circle cx="217.4" cy="291.8" r="1.4" fill="#ff2608"/><rect x="42.9" y="290.7" width="2.2" height="2.2" fill="#fff" stroke="#000" stroke-width="1.5"/><rect x="46.3" y="290.7" width="2.2" height="2.2" fill="#fff" stroke="#000" stroke-width="1.5"/><rect x="49.7" y="290.7" width="2.2" height="2.2" fill="#fff" stroke="#000" stroke-width="1.5"/><rect x="53.1" y="287.87" width="2.2" height="2.2" fill="#fff" stroke="#000" stroke-width="1.5"/><rect x="56.5" y="285.04" width="2.2" height="2.2" fill="#fff" stroke="#000" stroke-width="1.5"/><rect x="59.9" y="285.04" width="2.2" height="2.2" fill="#fff" stroke="#000" stroke-width="1.5"/><rect x="63.3" y="279.38" width="2.2" height="2.2" fill="#fff" stroke="#000" stroke-width="1.5"/><rect x="66.7" y="287.87" width="2.2" height="2.2" fill="#fff" stroke="#000" stroke-width="1.5"/><rect x="70.1" y="287.87" width="2.2" height="2.2" fill="#fff" stroke="#000" stroke-width="1.5"/><rect x="73.5" y="290.7" width="2.2" height="2.2" fill="#fff" stroke="#000" stroke-width="1.5"/><rect x="76.9" y="290.7" width="2.2" height="2.2" fill="#fff" stroke="#000" stroke-width="1.5"/><rect x="80.3" y="287.87" width="2.2" height="2.2" fill="#fff" stroke="#000" stroke-width="1.5"/><rect x="83.7" y="290.7" width="2.2" height="2.2" fill="#fff" stroke="#000" stroke-width="1.5"/><rect x="87.1" y="290.7" width="2.2" height="2.2" fill="#fff" stroke="#000" stroke-width="1.5"/><rect x="90.5" y="290.7" width="2.2" height="2.2" fill="#fff" stroke="#000" stroke-width="1.5"/><rect x="93.9" y="282.21" width="2.2" height="2.2" fill="#fff" stroke="#000" stroke-width="1.5"/><rect x="97.3" y="287.87" width="2.2" height="2.2" fill="#fff" stroke="#000" stroke-width="1.5"/><rect x="100.7" y="290.7" width="2.2" height="2.2" fill="#fff" stroke="#000" stroke-width="1.5"/><rect x="104.1" y="290.7" width="2.2" height="2.2" fill="#fff" stroke="#000" stroke-width="1.5"/><rect x="107.5" y="287.87" width="2.2" height="2.2" fill="#fff" stroke="#000" stroke-width="1.5"/><rect x="110.9" y="287.87" width="2.2" height="2.2" fill="#fff" stroke="#000" stroke-width="1.5"/><rect x="114.3" y="290.7" width="2.2" height="2.2" fill="#fff" stroke="#000" stroke-width="1.5"/><rect x="117.7" y="290.7" width="2.2" height="2.2" fill="#fff" stroke="#000" stroke-width="1.5"/><rect x="121.1" y="290.7" width="2.2" height="2.2" fill="#fff" stroke="#000" stroke-width="1.5"/><rect x="124.5" y="290.7" width="2.2" height="2.2" fill="#fff" stroke="#000" stroke-width="1.5"/><rect x="127.9" y="290.7" width="2.2" height="2.2" fill="#fff" stroke="#000" stroke-width="1.5"/><rect x="131.3" y="290.7" width="2.2" height="2.2" fill="#fff" stroke="#000" stroke-width="1.5"/><rect x="134.7" y="287.87" width="2.2" height="2.2" fill="#fff" stroke="#000" stroke-width="1.5"/><rect x="138.1" y="287.87" width="2.2" height="2.2" fill="#fff" stroke="#000" stroke-width="1.5"/><rect x="141.5" y="290.7" width="2.2" height="2.2" fill="#fff" stroke="#000" stroke-width="1.5"/><rect x="144.9" y="290.7" width="2.2" height="2.2" fill="#fff" stroke="#000" stroke-width="1.5"/><rect x="148.3" y="290.7" width="2.2" height="2.2" fill="#fff" stroke="#000" stroke-width="1.5"/><rect x="151.7" y="287.87" width="2.2" height="2.2" fill="#fff" stroke="#000" stroke-width="1.5"/><rect x="155.1" y="287.87" width="2.2" height="2.2" fill="#fff" stroke="#000" stroke-width="1.5"/><rect x="158.5" y="290.7" width="2.2" height="2.2" fill="#fff" stroke="#000" stroke-width="1.5"/><rect x="161.9" y="290.7" width="2.2" height="2.2" fill="#fff" stroke="#000" stroke-width="1.5"/><rect x="165.3" y="290.7" width="2.2" height="2.2" fill="#fff" stroke="#000" stroke-width="1.5"/><rect x="168.7" y="290.7" width="2.2" height="2.2" fill="#fff" stroke="#000" stroke-width="1.5"/><rect x="172.1" y="290.7" width="2.2" height="2.2" fill="#fff" stroke="#000" stroke-width="1.5"/><rect x="175.5" y="290.7" width="2.2" height="2.2" fill="#fff" stroke="#000" stroke-width="1.5"/><rect x="178.9" y="290.7" width="2.2" height="2.2" fill="#fff" stroke="#000" stroke-width="1.5"/><rect x="182.3" y="290.7" width="2.2" height="2.2" fill="#fff" stroke="#000" stroke-width="1.5"/><rect x="185.7" y="290.7" width="2.2" height="2.2" fill="#fff" stroke="#000" stroke-width="1.5"/><rect x="189.1" y="290.7" width="2.2" height="2.2" fill="#fff" stroke="#000" stroke-width="1.5"/><rect x="192.5" y="290.7" width="2.2" height="2.2" fill="#fff" stroke="#000" stroke-width="1.5"/><rect x="195.9" y="290.7" width="2.2" height="2.2" fill="#fff" stroke="#000" stroke-width="1.5"/><rect x="199.3" y="290.7" width="2.2" height="2.2" fill="#fff" stroke="#000" stroke-width="1.5"/><rect x="202.7" y="287.87" width="2.2" height="2.2" fill="#fff" stroke="#000" stroke-width="1.5"/><rect x="206.1" y="287.87" width="2.2" height="2.2" fill="#fff" stroke="#000" stroke-width="1.5"/><rect x="209.5" y="290.7" width="2.2" height="2.2" fill="#fff" stroke="#000" stroke-width="1.5"/><rect x="212.9" y="290.7" width="2.2" height="2.2" fill="#fff" stroke="#000" stroke-width="1.5"/><rect x="216.3" y="290.7" width="2.2" height="2.2" fill="#fff" stroke="#000" stroke-width="1.5"/><polyline points="44,291.8 47.4,291.8 50.8,291.8 54.2,288.97 57.6,286.14 61,286.14 64.4,280.48 67.8,288.97 71.2,288.97 74.6,291.8 78,291.8 81.4,288.97 84.8,291.8 88.2,291.8 91.6,291.8 95,283.31 98.4,288.97 101.8,291.8 105.2,291.8 108.6,288.97 112,288.97 115.4,291.8 118.8,291.8 122.2,291.8 125.6,291.8 129,291.8 132.4,291.8 135.8,288.97 139.2,288.97 142.6,291.8 146,291.8 149.4,291.8 152.8,288.97 156.2,288.97 159.6,291.8 163,291.8 166.4,291.8 169.8,291.8 173.2,291.8 176.6,291.8 180,291.8 183.4,291.8 186.8,291.8 190.2,291.8 193.6,291.8 197,291.8 200.4,291.8 203.8,288.97 207.2,288.97 210.6,291.8 214,291.8 217.4,291.8" fill="none" stroke="#000" stroke-width="1.2" stroke-linejoin="round"/><circle cx="74.6" cy="291.8" r="0.65" fill="#c01008"/><circle cx="81.4" cy="288.97" r="0.65" fill="#c01008"/><circle cx="101.8" cy="291.8" r="0.65" fill="#c01008"/><circle cx="105.2" cy="291.8" r="0.65" fill="#c01008"/><circle cx="115.4" cy="291.8" r="0.65" fill="#c01008"/><circle cx="118.8" cy="291.8" r="0.65" fill="#c01008"/><circle cx="122.2" cy="291.8" r="0.65" fill="#c01008"/><circle cx="125.6" cy="291.8" r="0.65" fill="#c01008"/><circle cx="129" cy="291.8" r="0.65" fill="#c01008"/><circle cx="132.4" cy="291.8" r="0.65" fill="#c01008"/><circle cx="142.6" cy="291.8" r="0.65" fill="#c01008"/><circle cx="146" cy="291.8" r="0.65" fill="#c01008"/><circle cx="149.4" cy="291.8" r="0.65" fill="#c01008"/><circle cx="159.6" cy="291.8" r="0.65" fill="#c01008"/><circle cx="163" cy="291.8" r="0.65" fill="#c01008"/><circle cx="166.4" cy="291.8" r="0.65" fill="#c01008"/><circle cx="169.8" cy="291.8" r="0.65" fill="#c01008"/><circle cx="173.2" cy="291.8" r="0.65" fill="#c01008"/><circle cx="176.6" cy="291.8" r="0.65" fill="#c01008"/><circle cx="180" cy="291.8" r="0.65" fill="#c01008"/><circle cx="183.4" cy="291.8" r="0.65" fill="#c01008"/><circle cx="186.8" cy="291.8" r="0.65" fill="#c01008"/><circle cx="190.2" cy="291.8" r="0.65" fill="#c01008"/><circle cx="193.6" cy="291.8" r="0.65" fill="#c01008"/><circle cx="197" cy="291.8" r="0.65" fill="#c01008"/><circle cx="200.4" cy="291.8" r="0.65" fill="#c01008"/><circle cx="210.6" cy="291.8" r="0.65" fill="#c01008"/><circle cx="214" cy="291.8" r="0.65" fill="#c01008"/><circle cx="217.4" cy="291.8" r="0.65" fill="#c01008"/></g>
<g><text x="306.5" y="219.9" font-weight="bold" font-size="12.5" stroke="#000" stroke-width="0.35" textLength="119.6" lengthAdjust="spacingAndGlyphs">Parainfluenza 3 virus</text><path d="M280.1 235.9 V292.9 H462.62" fill="none" stroke="#2a2a2a" stroke-width="1.1"/><line x1="278.1" y1="292.9" x2="280.1" y2="292.9" stroke="#000" stroke-width="0.8"/><text x="277.9" y="294.4" font-size="4.4" font-weight="bold" stroke="#000" stroke-width="0.3" text-anchor="end">0</text><line x1="278.1" y1="281.5" x2="280.1" y2="281.5" stroke="#000" stroke-width="0.8"/><text x="277.9" y="283" font-size="4.4" font-weight="bold" stroke="#000" stroke-width="0.3" text-anchor="end">2</text><line x1="278.1" y1="270.1" x2="280.1" y2="270.1" stroke="#000" stroke-width="0.8"/><text x="277.9" y="271.6" font-size="4.4" font-weight="bold" stroke="#000" stroke-width="0.3" text-anchor="end">4</text><line x1="278.1" y1="258.7" x2="280.1" y2="258.7" stroke="#000" stroke-width="0.8"/><text x="277.9" y="260.2" font-size="4.4" font-weight="bold" stroke="#000" stroke-width="0.3" text-anchor="end">6</text><line x1="278.1" y1="247.3" x2="280.1" y2="247.3" stroke="#000" stroke-width="0.8"/><text x="277.9" y="248.8" font-size="4.4" font-weight="bold" stroke="#000" stroke-width="0.3" text-anchor="end">8</text><line x1="278.1" y1="235.9" x2="280.1" y2="235.9" stroke="#000" stroke-width="0.8"/><text x="277.9" y="237.4" font-size="4.4" font-weight="bold" stroke="#000" stroke-width="0.3" text-anchor="end">10</text><line x1="280.1" y1="292.9" x2="280.1" y2="294.4" stroke="#000" stroke-width="0.6"/><text x="280.1" y="299" font-size="3.6" font-weight="bold" stroke="#000" stroke-width="0.3" text-anchor="middle">0</text><line x1="286.86" y1="292.9" x2="286.86" y2="294.4" stroke="#000" stroke-width="0.6"/><text x="286.86" y="299" font-size="3.6" font-weight="bold" stroke="#000" stroke-width="0.3" text-anchor="middle">2</text><line x1="293.62" y1="292.9" x2="293.62" y2="294.4" stroke="#000" stroke-width="0.6"/><text x="293.62" y="299" font-size="3.6" font-weight="bold" stroke="#000" stroke-width="0.3" text-anchor="middle">4</text><line x1="300.38" y1="292.9" x2="300.38" y2="294.4" stroke="#000" stroke-width="0.6"/><text x="300.38" y="299" font-size="3.6" font-weight="bold" stroke="#000" stroke-width="0.3" text-anchor="middle">6</text><line x1="307.14" y1="292.9" x2="307.14" y2="294.4" stroke="#000" stroke-width="0.6"/><text x="307.14" y="299" font-size="3.6" font-weight="bold" stroke="#000" stroke-width="0.3" text-anchor="middle">8</text><line x1="313.9" y1="292.9" x2="313.9" y2="294.4" stroke="#000" stroke-width="0.6"/><text x="313.9" y="299" font-size="3.6" font-weight="bold" stroke="#000" stroke-width="0.3" text-anchor="middle">10</text><line x1="320.66" y1="292.9" x2="320.66" y2="294.4" stroke="#000" stroke-width="0.6"/><text x="320.66" y="299" font-size="3.6" font-weight="bold" stroke="#000" stroke-width="0.3" text-anchor="middle">12</text><line x1="327.42" y1="292.9" x2="327.42" y2="294.4" stroke="#000" stroke-width="0.6"/><text x="327.42" y="299" font-size="3.6" font-weight="bold" stroke="#000" stroke-width="0.3" text-anchor="middle">14</text><line x1="334.18" y1="292.9" x2="334.18" y2="294.4" stroke="#000" stroke-width="0.6"/><text x="334.18" y="299" font-size="3.6" font-weight="bold" stroke="#000" stroke-width="0.3" text-anchor="middle">16</text><line x1="340.94" y1="292.9" x2="340.94" y2="294.4" stroke="#000" stroke-width="0.6"/><text x="340.94" y="299" font-size="3.6" font-weight="bold" stroke="#000" stroke-width="0.3" text-anchor="middle">18</text><line x1="347.7" y1="292.9" x2="347.7" y2="294.4" stroke="#000" stroke-width="0.6"/><text x="347.7" y="299" font-size="3.6" font-weight="bold" stroke="#000" stroke-width="0.3" text-anchor="middle">20</text><line x1="354.46" y1="292.9" x2="354.46" y2="294.4" stroke="#000" stroke-width="0.6"/><text x="354.46" y="299" font-size="3.6" font-weight="bold" stroke="#000" stroke-width="0.3" text-anchor="middle">22</text><line x1="361.22" y1="292.9" x2="361.22" y2="294.4" stroke="#000" stroke-width="0.6"/><text x="361.22" y="299" font-size="3.6" font-weight="bold" stroke="#000" stroke-width="0.3" text-anchor="middle">24</text><line x1="367.98" y1="292.9" x2="367.98" y2="294.4" stroke="#000" stroke-width="0.6"/><text x="367.98" y="299" font-size="3.6" font-weight="bold" stroke="#000" stroke-width="0.3" text-anchor="middle">26</text><line x1="374.74" y1="292.9" x2="374.74" y2="294.4" stroke="#000" stroke-width="0.6"/><text x="374.74" y="299" font-size="3.6" font-weight="bold" stroke="#000" stroke-width="0.3" text-anchor="middle">28</text><line x1="381.5" y1="292.9" x2="381.5" y2="294.4" stroke="#000" stroke-width="0.6"/><text x="381.5" y="299" font-size="3.6" font-weight="bold" stroke="#000" stroke-width="0.3" text-anchor="middle">30</text><line x1="388.26" y1="292.9" x2="388.26" y2="294.4" stroke="#000" stroke-width="0.6"/><text x="388.26" y="299" font-size="3.6" font-weight="bold" stroke="#000" stroke-width="0.3" text-anchor="middle">32</text><line x1="395.02" y1="292.9" x2="395.02" y2="294.4" stroke="#000" stroke-width="0.6"/><text x="395.02" y="299" font-size="3.6" font-weight="bold" stroke="#000" stroke-width="0.3" text-anchor="middle">34</text><line x1="401.78" y1="292.9" x2="401.78" y2="294.4" stroke="#000" stroke-width="0.6"/><text x="401.78" y="299" font-size="3.6" font-weight="bold" stroke="#000" stroke-width="0.3" text-anchor="middle">36</text><line x1="408.54" y1="292.9" x2="408.54" y2="294.4" stroke="#000" stroke-width="0.6"/><text x="408.54" y="299" font-size="3.6" font-weight="bold" stroke="#000" stroke-width="0.3" text-anchor="middle">38</text><line x1="415.3" y1="292.9" x2="415.3" y2="294.4" stroke="#000" stroke-width="0.6"/><text x="415.3" y="299" font-size="3.6" font-weight="bold" stroke="#000" stroke-width="0.3" text-anchor="middle">40</text><line x1="422.06" y1="292.9" x2="422.06" y2="294.4" stroke="#000" stroke-width="0.6"/><text x="422.06" y="299" font-size="3.6" font-weight="bold" stroke="#000" stroke-width="0.3" text-anchor="middle">42</text><line x1="428.82" y1="292.9" x2="428.82" y2="294.4" stroke="#000" stroke-width="0.6"/><text x="428.82" y="299" font-size="3.6" font-weight="bold" stroke="#000" stroke-width="0.3" text-anchor="middle">44</text><line x1="435.58" y1="292.9" x2="435.58" y2="294.4" stroke="#000" stroke-width="0.6"/><text x="435.58" y="299" font-size="3.6" font-weight="bold" stroke="#000" stroke-width="0.3" text-anchor="middle">46</text><line x1="442.34" y1="292.9" x2="442.34" y2="294.4" stroke="#000" stroke-width="0.6"/><text x="442.34" y="299" font-size="3.6" font-weight="bold" stroke="#000" stroke-width="0.3" text-anchor="middle">48</text><line x1="449.1" y1="292.9" x2="449.1" y2="294.4" stroke="#000" stroke-width="0.6"/><text x="449.1" y="299" font-size="3.6" font-weight="bold" stroke="#000" stroke-width="0.3" text-anchor="middle">50</text><line x1="455.86" y1="292.9" x2="455.86" y2="294.4" stroke="#000" stroke-width="0.6"/><text x="455.86" y="299" font-size="3.6" font-weight="bold" stroke="#000" stroke-width="0.3" text-anchor="middle">52</text><line x1="462.62" y1="292.9" x2="462.62" y2="294.4" stroke="#000" stroke-width="0.6"/><text x="462.62" y="299" font-size="3.6" font-weight="bold" stroke="#000" stroke-width="0.3" text-anchor="middle">54</text><line x1="280.1" y1="286.6" x2="462.62" y2="286.6" stroke="#000" stroke-width="1.2"/><line x1="280.1" y1="285.5" x2="462.62" y2="285.5" stroke="#ff5a48" stroke-width="1.6"/><polyline points="283.48,292.9 286.86,292.9 290.24,292.9 293.62,292.9 297,292.9 300.38,292.9 303.76,292.9 307.14,287.2 310.52,281.5 313.9,281.5 317.28,292.9 320.66,292.9 324.04,292.9 327.42,292.9 330.8,292.9 334.18,292.9 337.56,292.9 340.94,292.9 344.32,292.9 347.7,287.2 351.08,292.9 354.46,292.9 357.84,287.2 361.22,292.9 364.6,292.9 367.98,270.1 371.36,292.9 374.74,292.9 378.12,287.2 381.5,292.9 384.88,292.9 388.26,292.9 391.64,292.9 395.02,292.9 398.4,292.9 401.78,292.9 405.16,292.9 408.54,292.9 411.92,287.2 415.3,287.2 418.68,275.8 422.06,287.2 425.44,292.9 428.82,292.9 432.2,287.2 435.58,287.2 438.96,292.9 442.34,292.9 445.72,292.9 449.1,292.9 452.48,287.2 455.86,292.9" fill="none" stroke="#ff2608" stroke-width="1.15" stroke-linejoin="round"/><circle cx="283.48" cy="292.9" r="1.4" fill="#ff2608"/><circle cx="286.86" cy="292.9" r="1.4" fill="#ff2608"/><circle cx="290.24" cy="292.9" r="1.4" fill="#ff2608"/><circle cx="293.62" cy="292.9" r="1.4" fill="#ff2608"/><circle cx="297" cy="292.9" r="1.4" fill="#ff2608"/><circle cx="300.38" cy="292.9" r="1.4" fill="#ff2608"/><circle cx="303.76" cy="292.9" r="1.4" fill="#ff2608"/><circle cx="307.14" cy="287.2" r="1.4" fill="#ff2608"/><circle cx="310.52" cy="281.5" r="1.4" fill="#ff2608"/><circle cx="313.9" cy="281.5" r="1.4" fill="#ff2608"/><circle cx="317.28" cy="292.9" r="1.4" fill="#ff2608"/><circle cx="320.66" cy="292.9" r="1.4" fill="#ff2608"/><circle cx="324.04" cy="292.9" r="1.4" fill="#ff2608"/><circle cx="327.42" cy="292.9" r="1.4" fill="#ff2608"/><circle cx="330.8" cy="292.9" r="1.4" fill="#ff2608"/><circle cx="334.18" cy="292.9" r="1.4" fill="#ff2608"/><circle cx="337.56" cy="292.9" r="1.4" fill="#ff2608"/><circle cx="340.94" cy="292.9" r="1.4" fill="#ff2608"/><circle cx="344.32" cy="292.9" r="1.4" fill="#ff2608"/><circle cx="347.7" cy="287.2" r="1.4" fill="#ff2608"/><circle cx="351.08" cy="292.9" r="1.4" fill="#ff2608"/><circle cx="354.46" cy="292.9" r="1.4" fill="#ff2608"/><circle cx="357.84" cy="287.2" r="1.4" fill="#ff2608"/><circle cx="361.22" cy="292.9" r="1.4" fill="#ff2608"/><circle cx="364.6" cy="292.9" r="1.4" fill="#ff2608"/><circle cx="367.98" cy="270.1" r="1.4" fill="#ff2608"/><circle cx="371.36" cy="292.9" r="1.4" fill="#ff2608"/><circle cx="374.74" cy="292.9" r="1.4" fill="#ff2608"/><circle cx="378.12" cy="287.2" r="1.4" fill="#ff2608"/><circle cx="381.5" cy="292.9" r="1.4" fill="#ff2608"/><circle cx="384.88" cy="292.9" r="1.4" fill="#ff2608"/><circle cx="388.26" cy="292.9" r="1.4" fill="#ff2608"/><circle cx="391.64" cy="292.9" r="1.4" fill="#ff2608"/><circle cx="395.02" cy="292.9" r="1.4" fill="#ff2608"/><circle cx="398.4" cy="292.9" r="1.4" fill="#ff2608"/><circle cx="401.78" cy="292.9" r="1.4" fill="#ff2608"/><circle cx="405.16" cy="292.9" r="1.4" fill="#ff2608"/><circle cx="408.54" cy="292.9" r="1.4" fill="#ff2608"/><circle cx="411.92" cy="287.2" r="1.4" fill="#ff2608"/><circle cx="415.3" cy="287.2" r="1.4" fill="#ff2608"/><circle cx="418.68" cy="275.8" r="1.4" fill="#ff2608"/><circle cx="422.06" cy="287.2" r="1.4" fill="#ff2608"/><circle cx="425.44" cy="292.9" r="1.4" fill="#ff2608"/><circle cx="428.82" cy="292.9" r="1.4" fill="#ff2608"/><circle cx="432.2" cy="287.2" r="1.4" fill="#ff2608"/><circle cx="435.58" cy="287.2" r="1.4" fill="#ff2608"/><circle cx="438.96" cy="292.9" r="1.4" fill="#ff2608"/><circle cx="442.34" cy="292.9" r="1.4" fill="#ff2608"/><circle cx="445.72" cy="292.9" r="1.4" fill="#ff2608"/><circle cx="449.1" cy="292.9" r="1.4" fill="#ff2608"/><circle cx="452.48" cy="287.2" r="1.4" fill="#ff2608"/><circle cx="455.86" cy="292.9" r="1.4" fill="#ff2608"/><rect x="282.38" y="286.1" width="2.2" height="2.2" fill="#fff" stroke="#000" stroke-width="1.5"/><rect x="285.76" y="291.8" width="2.2" height="2.2" fill="#fff" stroke="#000" stroke-width="1.5"/><rect x="289.14" y="291.8" width="2.2" height="2.2" fill="#fff" stroke="#000" stroke-width="1.5"/><rect x="292.52" y="291.8" width="2.2" height="2.2" fill="#fff" stroke="#000" stroke-width="1.5"/><rect x="295.9" y="291.8" width="2.2" height="2.2" fill="#fff" stroke="#000" stroke-width="1.5"/><rect x="299.28" y="291.8" width="2.2" height="2.2" fill="#fff" stroke="#000" stroke-width="1.5"/><rect x="302.66" y="291.8" width="2.2" height="2.2" fill="#fff" stroke="#000" stroke-width="1.5"/><rect x="306.04" y="291.8" width="2.2" height="2.2" fill="#fff" stroke="#000" stroke-width="1.5"/><rect x="309.42" y="291.8" width="2.2" height="2.2" fill="#fff" stroke="#000" stroke-width="1.5"/><rect x="312.8" y="286.1" width="2.2" height="2.2" fill="#fff" stroke="#000" stroke-width="1.5"/><rect x="316.18" y="280.4" width="2.2" height="2.2" fill="#fff" stroke="#000" stroke-width="1.5"/><rect x="319.56" y="286.1" width="2.2" height="2.2" fill="#fff" stroke="#000" stroke-width="1.5"/><rect x="322.94" y="269" width="2.2" height="2.2" fill="#fff" stroke="#000" stroke-width="1.5"/><rect x="326.32" y="291.8" width="2.2" height="2.2" fill="#fff" stroke="#000" stroke-width="1.5"/><rect x="329.7" y="286.1" width="2.2" height="2.2" fill="#fff" stroke="#000" stroke-width="1.5"/><rect x="333.08" y="291.8" width="2.2" height="2.2" fill="#fff" stroke="#000" stroke-width="1.5"/><rect x="336.46" y="291.8" width="2.2" height="2.2" fill="#fff" stroke="#000" stroke-width="1.5"/><rect x="339.84" y="291.8" width="2.2" height="2.2" fill="#fff" stroke="#000" stroke-width="1.5"/><rect x="343.22" y="291.8" width="2.2" height="2.2" fill="#fff" stroke="#000" stroke-width="1.5"/><rect x="346.6" y="291.8" width="2.2" height="2.2" fill="#fff" stroke="#000" stroke-width="1.5"/><rect x="349.98" y="291.8" width="2.2" height="2.2" fill="#fff" stroke="#000" stroke-width="1.5"/><rect x="353.36" y="291.8" width="2.2" height="2.2" fill="#fff" stroke="#000" stroke-width="1.5"/><rect x="356.74" y="291.8" width="2.2" height="2.2" fill="#fff" stroke="#000" stroke-width="1.5"/><rect x="360.12" y="286.1" width="2.2" height="2.2" fill="#fff" stroke="#000" stroke-width="1.5"/><rect x="363.5" y="286.1" width="2.2" height="2.2" fill="#fff" stroke="#000" stroke-width="1.5"/><rect x="366.88" y="291.8" width="2.2" height="2.2" fill="#fff" stroke="#000" stroke-width="1.5"/><rect x="370.26" y="291.8" width="2.2" height="2.2" fill="#fff" stroke="#000" stroke-width="1.5"/><rect x="373.64" y="291.8" width="2.2" height="2.2" fill="#fff" stroke="#000" stroke-width="1.5"/><rect x="377.02" y="291.8" width="2.2" height="2.2" fill="#fff" stroke="#000" stroke-width="1.5"/><rect x="380.4" y="286.1" width="2.2" height="2.2" fill="#fff" stroke="#000" stroke-width="1.5"/><rect x="383.78" y="291.8" width="2.2" height="2.2" fill="#fff" stroke="#000" stroke-width="1.5"/><rect x="387.16" y="291.8" width="2.2" height="2.2" fill="#fff" stroke="#000" stroke-width="1.5"/><rect x="390.54" y="291.8" width="2.2" height="2.2" fill="#fff" stroke="#000" stroke-width="1.5"/><rect x="393.92" y="291.8" width="2.2" height="2.2" fill="#fff" stroke="#000" stroke-width="1.5"/><rect x="397.3" y="291.8" width="2.2" height="2.2" fill="#fff" stroke="#000" stroke-width="1.5"/><rect x="400.68" y="291.8" width="2.2" height="2.2" fill="#fff" stroke="#000" stroke-width="1.5"/><rect x="404.06" y="291.8" width="2.2" height="2.2" fill="#fff" stroke="#000" stroke-width="1.5"/><rect x="407.44" y="280.4" width="2.2" height="2.2" fill="#fff" stroke="#000" stroke-width="1.5"/><rect x="410.82" y="291.8" width="2.2" height="2.2" fill="#fff" stroke="#000" stroke-width="1.5"/><rect x="414.2" y="291.8" width="2.2" height="2.2" fill="#fff" stroke="#000" stroke-width="1.5"/><rect x="417.58" y="286.1" width="2.2" height="2.2" fill="#fff" stroke="#000" stroke-width="1.5"/><rect x="420.96" y="286.1" width="2.2" height="2.2" fill="#fff" stroke="#000" stroke-width="1.5"/><rect x="424.34" y="286.1" width="2.2" height="2.2" fill="#fff" stroke="#000" stroke-width="1.5"/><rect x="427.72" y="291.8" width="2.2" height="2.2" fill="#fff" stroke="#000" stroke-width="1.5"/><rect x="431.1" y="291.8" width="2.2" height="2.2" fill="#fff" stroke="#000" stroke-width="1.5"/><rect x="434.48" y="291.8" width="2.2" height="2.2" fill="#fff" stroke="#000" stroke-width="1.5"/><rect x="437.86" y="291.8" width="2.2" height="2.2" fill="#fff" stroke="#000" stroke-width="1.5"/><rect x="441.24" y="291.8" width="2.2" height="2.2" fill="#fff" stroke="#000" stroke-width="1.5"/><rect x="444.62" y="291.8" width="2.2" height="2.2" fill="#fff" stroke="#000" stroke-width="1.5"/><rect x="448" y="291.8" width="2.2" height="2.2" fill="#fff" stroke="#000" stroke-width="1.5"/><rect x="451.38" y="291.8" width="2.2" height="2.2" fill="#fff" stroke="#000" stroke-width="1.5"/><rect x="454.76" y="291.8" width="2.2" height="2.2" fill="#fff" stroke="#000" stroke-width="1.5"/><polyline points="283.48,287.2 286.86,292.9 290.24,292.9 293.62,292.9 297,292.9 300.38,292.9 303.76,292.9 307.14,292.9 310.52,292.9 313.9,287.2 317.28,281.5 320.66,287.2 324.04,270.1 327.42,292.9 330.8,287.2 334.18,292.9 337.56,292.9 340.94,292.9 344.32,292.9 347.7,292.9 351.08,292.9 354.46,292.9 357.84,292.9 361.22,287.2 364.6,287.2 367.98,292.9 371.36,292.9 374.74,292.9 378.12,292.9 381.5,287.2 384.88,292.9 388.26,292.9 391.64,292.9 395.02,292.9 398.4,292.9 401.78,292.9 405.16,292.9 408.54,281.5 411.92,292.9 415.3,292.9 418.68,287.2 422.06,287.2 425.44,287.2 428.82,292.9 432.2,292.9 435.58,292.9 438.96,292.9 442.34,292.9 445.72,292.9 449.1,292.9 452.48,292.9 455.86,292.9" fill="none" stroke="#000" stroke-width="1.2" stroke-linejoin="round"/></g>
<g><text x="577.2" y="219.6" font-weight="bold" font-size="12.5" stroke="#000" stroke-width="0.35" textLength="62.5" lengthAdjust="spacingAndGlyphs">Rhinovirus</text><path d="M512.5 234.7 V287.8 H680.98" fill="none" stroke="#2a2a2a" stroke-width="1.1"/><line x1="510.5" y1="287.8" x2="512.5" y2="287.8" stroke="#000" stroke-width="0.8"/><text x="510.3" y="289.3" font-size="4.4" font-weight="bold" stroke="#000" stroke-width="0.3" text-anchor="end">0</text><line x1="510.5" y1="270.1" x2="512.5" y2="270.1" stroke="#000" stroke-width="0.8"/><text x="510.3" y="271.6" font-size="4.4" font-weight="bold" stroke="#000" stroke-width="0.3" text-anchor="end">10</text><line x1="510.5" y1="252.4" x2="512.5" y2="252.4" stroke="#000" stroke-width="0.8"/><text x="510.3" y="253.9" font-size="4.4" font-weight="bold" stroke="#000" stroke-width="0.3" text-anchor="end">20</text><line x1="510.5" y1="234.7" x2="512.5" y2="234.7" stroke="#000" stroke-width="0.8"/><text x="510.3" y="236.2" font-size="4.4" font-weight="bold" stroke="#000" stroke-width="0.3" text-anchor="end">30</text><line x1="512.5" y1="287.8" x2="512.5" y2="289.3" stroke="#000" stroke-width="0.6"/><text x="512.5" y="293.9" font-size="3.6" font-weight="bold" stroke="#000" stroke-width="0.3" text-anchor="middle">0</text><line x1="518.74" y1="287.8" x2="518.74" y2="289.3" stroke="#000" stroke-width="0.6"/><text x="518.74" y="293.9" font-size="3.6" font-weight="bold" stroke="#000" stroke-width="0.3" text-anchor="middle">2</text><line x1="524.98" y1="287.8" x2="524.98" y2="289.3" stroke="#000" stroke-width="0.6"/><text x="524.98" y="293.9" font-size="3.6" font-weight="bold" stroke="#000" stroke-width="0.3" text-anchor="middle">4</text><line x1="531.22" y1="287.8" x2="531.22" y2="289.3" stroke="#000" stroke-width="0.6"/><text x="531.22" y="293.9" font-size="3.6" font-weight="bold" stroke="#000" stroke-width="0.3" text-anchor="middle">6</text><line x1="537.46" y1="287.8" x2="537.46" y2="289.3" stroke="#000" stroke-width="0.6"/><text x="537.46" y="293.9" font-size="3.6" font-weight="bold" stroke="#000" stroke-width="0.3" text-anchor="middle">8</text><line x1="543.7" y1="287.8" x2="543.7" y2="289.3" stroke="#000" stroke-width="0.6"/><text x="543.7" y="293.9" font-size="3.6" font-weight="bold" stroke="#000" stroke-width="0.3" text-anchor="middle">10</text><line x1="549.94" y1="287.8" x2="549.94" y2="289.3" stroke="#000" stroke-width="0.6"/><text x="549.94" y="293.9" font-size="3.6" font-weight="bold" stroke="#000" stroke-width="0.3" text-anchor="middle">12</text><line x1="556.18" y1="287.8" x2="556.18" y2="289.3" stroke="#000" stroke-width="0.6"/><text x="556.18" y="293.9" font-size="3.6" font-weight="bold" stroke="#000" stroke-width="0.3" text-anchor="middle">14</text><line x1="562.42" y1="287.8" x2="562.42" y2="289.3" stroke="#000" stroke-width="0.6"/><text x="562.42" y="293.9" font-size="3.6" font-weight="bold" stroke="#000" stroke-width="0.3" text-anchor="middle">16</text><line x1="568.66" y1="287.8" x2="568.66" y2="289.3" stroke="#000" stroke-width="0.6"/><text x="568.66" y="293.9" font-size="3.6" font-weight="bold" stroke="#000" stroke-width="0.3" text-anchor="middle">18</text><line x1="574.9" y1="287.8" x2="574.9" y2="289.3" stroke="#000" stroke-width="0.6"/><text x="574.9" y="293.9" font-size="3.6" font-weight="bold" stroke="#000" stroke-width="0.3" text-anchor="middle">20</text><line x1="581.14" y1="287.8" x2="581.14" y2="289.3" stroke="#000" stroke-width="0.6"/><text x="581.14" y="293.9" font-size="3.6" font-weight="bold" stroke="#000" stroke-width="0.3" text-anchor="middle">22</text><line x1="587.38" y1="287.8" x2="587.38" y2="289.3" stroke="#000" stroke-width="0.6"/><text x="587.38" y="293.9" font-size="3.6" font-weight="bold" stroke="#000" stroke-width="0.3" text-anchor="middle">24</text><line x1="593.62" y1="287.8" x2="593.62" y2="289.3" stroke="#000" stroke-width="0.6"/><text x="593.62" y="293.9" font-size="3.6" font-weight="bold" stroke="#000" stroke-width="0.3" text-anchor="middle">26</text><line x1="599.86" y1="287.8" x2="599.86" y2="289.3" stroke="#000" stroke-width="0.6"/><text x="599.86" y="293.9" font-size="3.6" font-weight="bold" stroke="#000" stroke-width="0.3" text-anchor="middle">28</text><line x1="606.1" y1="287.8" x2="606.1" y2="289.3" stroke="#000" stroke-width="0.6"/><text x="606.1" y="293.9" font-size="3.6" font-weight="bold" stroke="#000" stroke-width="0.3" text-anchor="middle">30</text><line x1="612.34" y1="287.8" x2="612.34" y2="289.3" stroke="#000" stroke-width="0.6"/><text x="612.34" y="293.9" font-size="3.6" font-weight="bold" stroke="#000" stroke-width="0.3" text-anchor="middle">32</text><line x1="618.58" y1="287.8" x2="618.58" y2="289.3" stroke="#000" stroke-width="0.6"/><text x="618.58" y="293.9" font-size="3.6" font-weight="bold" stroke="#000" stroke-width="0.3" text-anchor="middle">34</text><line x1="624.82" y1="287.8" x2="624.82" y2="289.3" stroke="#000" stroke-width="0.6"/><text x="624.82" y="293.9" font-size="3.6" font-weight="bold" stroke="#000" stroke-width="0.3" text-anchor="middle">36</text><line x1="631.06" y1="287.8" x2="631.06" y2="289.3" stroke="#000" stroke-width="0.6"/><text x="631.06" y="293.9" font-size="3.6" font-weight="bold" stroke="#000" stroke-width="0.3" text-anchor="middle">38</text><line x1="637.3" y1="287.8" x2="637.3" y2="289.3" stroke="#000" stroke-width="0.6"/><text x="637.3" y="293.9" font-size="3.6" font-weight="bold" stroke="#000" stroke-width="0.3" text-anchor="middle">40</text><line x1="643.54" y1="287.8" x2="643.54" y2="289.3" stroke="#000" stroke-width="0.6"/><text x="643.54" y="293.9" font-size="3.6" font-weight="bold" stroke="#000" stroke-width="0.3" text-anchor="middle">42</text><line x1="649.78" y1="287.8" x2="649.78" y2="289.3" stroke="#000" stroke-width="0.6"/><text x="649.78" y="293.9" font-size="3.6" font-weight="bold" stroke="#000" stroke-width="0.3" text-anchor="middle">44</text><line x1="656.02" y1="287.8" x2="656.02" y2="289.3" stroke="#000" stroke-width="0.6"/><text x="656.02" y="293.9" font-size="3.6" font-weight="bold" stroke="#000" stroke-width="0.3" text-anchor="middle">46</text><line x1="662.26" y1="287.8" x2="662.26" y2="289.3" stroke="#000" stroke-width="0.6"/><text x="662.26" y="293.9" font-size="3.6" font-weight="bold" stroke="#000" stroke-width="0.3" text-anchor="middle">48</text><line x1="668.5" y1="287.8" x2="668.5" y2="289.3" stroke="#000" stroke-width="0.6"/><text x="668.5" y="293.9" font-size="3.6" font-weight="bold" stroke="#000" stroke-width="0.3" text-anchor="middle">50</text><line x1="674.74" y1="287.8" x2="674.74" y2="289.3" stroke="#000" stroke-width="0.6"/><text x="674.74" y="293.9" font-size="3.6" font-weight="bold" stroke="#000" stroke-width="0.3" text-anchor="middle">52</text><line x1="680.98" y1="287.8" x2="680.98" y2="289.3" stroke="#000" stroke-width="0.6"/><text x="680.98" y="293.9" font-size="3.6" font-weight="bold" stroke="#000" stroke-width="0.3" text-anchor="middle">54</text><line x1="512.5" y1="280.3" x2="680.98" y2="280.3" stroke="#ff5a48" stroke-width="1.6"/><line x1="512.5" y1="267" x2="680.98" y2="267" stroke="#777" stroke-width="1.5"/><polyline points="515.62,284.26 518.74,275.41 521.86,284.26 524.98,277.18 528.1,282.49 531.22,284.26 534.34,284.26 537.46,275.41 540.58,277.18 543.7,284.26 546.82,286.03 549.94,284.26 553.06,286.03 556.18,284.26 559.3,286.03 562.42,284.26 565.54,280.72 568.66,287.8 571.78,286.03 574.9,280.72 578.02,277.18 581.14,284.26 584.26,280.72 587.38,282.49 590.5,284.26 593.62,287.8 596.74,287.8 599.86,284.26 602.98,284.26 606.1,284.26 609.22,286.03 612.34,282.49 615.46,282.49 618.58,284.26 621.7,286.03 624.82,278.95 627.94,284.26 631.06,287.8 634.18,287.8 637.3,287.8 640.42,280.72 643.54,286.03 646.66,284.26 649.78,286.03 652.9,282.49 656.02,286.03 659.14,286.03 662.26,286.03 665.38,280.72 668.5,287.8 671.62,287.8 674.74,287.8" fill="none" stroke="#ff2608" stroke-width="1.15" stroke-linejoin="round"/><circle cx="515.62" cy="284.26" r="1.4" fill="#ff2608"/><circle cx="518.74" cy="275.41" r="1.4" fill="#ff2608"/><circle cx="521.86" cy="284.26" r="1.4" fill="#ff2608"/><circle cx="524.98" cy="277.18" r="1.4" fill="#ff2608"/><circle cx="528.1" cy="282.49" r="1.4" fill="#ff2608"/><circle cx="531.22" cy="284.26" r="1.4" fill="#ff2608"/><circle cx="534.34" cy="284.26" r="1.4" fill="#ff2608"/><circle cx="537.46" cy="275.41" r="1.4" fill="#ff2608"/><circle cx="540.58" cy="277.18" r="1.4" fill="#ff2608"/><circle cx="543.7" cy="284.26" r="1.4" fill="#ff2608"/><circle cx="546.82" cy="286.03" r="1.4" fill="#ff2608"/><circle cx="549.94" cy="284.26" r="1.4" fill="#ff2608"/><circle cx="553.06" cy="286.03" r="1.4" fill="#ff2608"/><circle cx="556.18" cy="284.26" r="1.4" fill="#ff2608"/><circle cx="559.3" cy="286.03" r="1.4" fill="#ff2608"/><circle cx="562.42" cy="284.26" r="1.4" fill="#ff2608"/><circle cx="565.54" cy="280.72" r="1.4" fill="#ff2608"/><circle cx="568.66" cy="287.8" r="1.4" fill="#ff2608"/><circle cx="571.78" cy="286.03" r="1.4" fill="#ff2608"/><circle cx="574.9" cy="280.72" r="1.4" fill="#ff2608"/><circle cx="578.02" cy="277.18" r="1.4" fill="#ff2608"/><circle cx="581.14" cy="284.26" r="1.4" fill="#ff2608"/><circle cx="584.26" cy="280.72" r="1.4" fill="#ff2608"/><circle cx="587.38" cy="282.49" r="1.4" fill="#ff2608"/><circle cx="590.5" cy="284.26" r="1.4" fill="#ff2608"/><circle cx="593.62" cy="287.8" r="1.4" fill="#ff2608"/><circle cx="596.74" cy="287.8" r="1.4" fill="#ff2608"/><circle cx="599.86" cy="284.26" r="1.4" fill="#ff2608"/><circle cx="602.98" cy="284.26" r="1.4" fill="#ff2608"/><circle cx="606.1" cy="284.26" r="1.4" fill="#ff2608"/><circle cx="609.22" cy="286.03" r="1.4" fill="#ff2608"/><circle cx="612.34" cy="282.49" r="1.4" fill="#ff2608"/><circle cx="615.46" cy="282.49" r="1.4" fill="#ff2608"/><circle cx="618.58" cy="284.26" r="1.4" fill="#ff2608"/><circle cx="621.7" cy="286.03" r="1.4" fill="#ff2608"/><circle cx="624.82" cy="278.95" r="1.4" fill="#ff2608"/><circle cx="627.94" cy="284.26" r="1.4" fill="#ff2608"/><circle cx="631.06" cy="287.8" r="1.4" fill="#ff2608"/><circle cx="634.18" cy="287.8" r="1.4" fill="#ff2608"/><circle cx="637.3" cy="287.8" r="1.4" fill="#ff2608"/><circle cx="640.42" cy="280.72" r="1.4" fill="#ff2608"/><circle cx="643.54" cy="286.03" r="1.4" fill="#ff2608"/><circle cx="646.66" cy="284.26" r="1.4" fill="#ff2608"/><circle cx="649.78" cy="286.03" r="1.4" fill="#ff2608"/><circle cx="652.9" cy="282.49" r="1.4" fill="#ff2608"/><circle cx="656.02" cy="286.03" r="1.4" fill="#ff2608"/><circle cx="659.14" cy="286.03" r="1.4" fill="#ff2608"/><circle cx="662.26" cy="286.03" r="1.4" fill="#ff2608"/><circle cx="665.38" cy="280.72" r="1.4" fill="#ff2608"/><circle cx="668.5" cy="287.8" r="1.4" fill="#ff2608"/><circle cx="671.62" cy="287.8" r="1.4" fill="#ff2608"/><circle cx="674.74" cy="287.8" r="1.4" fill="#ff2608"/><rect x="514.52" y="269" width="2.2" height="2.2" fill="#fff" stroke="#000" stroke-width="1.5"/><rect x="517.64" y="272.54" width="2.2" height="2.2" fill="#fff" stroke="#000" stroke-width="1.5"/><rect x="520.76" y="284.93" width="2.2" height="2.2" fill="#fff" stroke="#000" stroke-width="1.5"/><rect x="523.88" y="283.16" width="2.2" height="2.2" fill="#fff" stroke="#000" stroke-width="1.5"/><rect x="527" y="284.93" width="2.2" height="2.2" fill="#fff" stroke="#000" stroke-width="1.5"/><rect x="530.12" y="276.08" width="2.2" height="2.2" fill="#fff" stroke="#000" stroke-width="1.5"/><rect x="533.24" y="267.23" width="2.2" height="2.2" fill="#fff" stroke="#000" stroke-width="1.5"/><rect x="536.36" y="261.92" width="2.2" height="2.2" fill="#fff" stroke="#000" stroke-width="1.5"/><rect x="539.48" y="258.38" width="2.2" height="2.2" fill="#fff" stroke="#000" stroke-width="1.5"/><rect x="542.6" y="277.85" width="2.2" height="2.2" fill="#fff" stroke="#000" stroke-width="1.5"/><rect x="545.72" y="267.23" width="2.2" height="2.2" fill="#fff" stroke="#000" stroke-width="1.5"/><rect x="548.84" y="270.77" width="2.2" height="2.2" fill="#fff" stroke="#000" stroke-width="1.5"/><rect x="551.96" y="274.31" width="2.2" height="2.2" fill="#fff" stroke="#000" stroke-width="1.5"/><rect x="555.08" y="281.39" width="2.2" height="2.2" fill="#fff" stroke="#000" stroke-width="1.5"/><rect x="558.2" y="261.92" width="2.2" height="2.2" fill="#fff" stroke="#000" stroke-width="1.5"/><rect x="561.32" y="260.15" width="2.2" height="2.2" fill="#fff" stroke="#000" stroke-width="1.5"/><rect x="564.44" y="245.99" width="2.2" height="2.2" fill="#fff" stroke="#000" stroke-width="1.5"/><rect x="567.56" y="270.77" width="2.2" height="2.2" fill="#fff" stroke="#000" stroke-width="1.5"/><rect x="570.68" y="272.54" width="2.2" height="2.2" fill="#fff" stroke="#000" stroke-width="1.5"/><rect x="573.8" y="267.23" width="2.2" height="2.2" fill="#fff" stroke="#000" stroke-width="1.5"/><rect x="576.92" y="256.61" width="2.2" height="2.2" fill="#fff" stroke="#000" stroke-width="1.5"/><rect x="580.04" y="270.77" width="2.2" height="2.2" fill="#fff" stroke="#000" stroke-width="1.5"/><rect x="583.16" y="274.31" width="2.2" height="2.2" fill="#fff" stroke="#000" stroke-width="1.5"/><rect x="586.28" y="277.85" width="2.2" height="2.2" fill="#fff" stroke="#000" stroke-width="1.5"/><rect x="589.4" y="281.39" width="2.2" height="2.2" fill="#fff" stroke="#000" stroke-width="1.5"/><rect x="592.52" y="279.62" width="2.2" height="2.2" fill="#fff" stroke="#000" stroke-width="1.5"/><rect x="595.64" y="281.39" width="2.2" height="2.2" fill="#fff" stroke="#000" stroke-width="1.5"/><rect x="598.76" y="283.16" width="2.2" height="2.2" fill="#fff" stroke="#000" stroke-width="1.5"/><rect x="601.88" y="276.08" width="2.2" height="2.2" fill="#fff" stroke="#000" stroke-width="1.5"/><rect x="605" y="270.77" width="2.2" height="2.2" fill="#fff" stroke="#000" stroke-width="1.5"/><rect x="608.12" y="274.31" width="2.2" height="2.2" fill="#fff" stroke="#000" stroke-width="1.5"/><rect x="611.24" y="276.08" width="2.2" height="2.2" fill="#fff" stroke="#000" stroke-width="1.5"/><rect x="614.36" y="270.77" width="2.2" height="2.2" fill="#fff" stroke="#000" stroke-width="1.5"/><rect x="617.48" y="276.08" width="2.2" height="2.2" fill="#fff" stroke="#000" stroke-width="1.5"/><rect x="620.6" y="286.7" width="2.2" height="2.2" fill="#fff" stroke="#000" stroke-width="1.5"/><rect x="623.72" y="272.54" width="2.2" height="2.2" fill="#fff" stroke="#000" stroke-width="1.5"/><rect x="626.84" y="281.39" width="2.2" height="2.2" fill="#fff" stroke="#000" stroke-width="1.5"/><rect x="629.96" y="279.62" width="2.2" height="2.2" fill="#fff" stroke="#000" stroke-width="1.5"/><rect x="633.08" y="286.7" width="2.2" height="2.2" fill="#fff" stroke="#000" stroke-width="1.5"/><rect x="636.2" y="283.16" width="2.2" height="2.2" fill="#fff" stroke="#000" stroke-width="1.5"/><rect x="639.32" y="276.08" width="2.2" height="2.2" fill="#fff" stroke="#000" stroke-width="1.5"/><rect x="642.44" y="270.77" width="2.2" height="2.2" fill="#fff" stroke="#000" stroke-width="1.5"/><rect x="645.56" y="283.16" width="2.2" height="2.2" fill="#fff" stroke="#000" stroke-width="1.5"/><rect x="648.68" y="284.93" width="2.2" height="2.2" fill="#fff" stroke="#000" stroke-width="1.5"/><rect x="651.8" y="276.08" width="2.2" height="2.2" fill="#fff" stroke="#000" stroke-width="1.5"/><rect x="654.92" y="270.77" width="2.2" height="2.2" fill="#fff" stroke="#000" stroke-width="1.5"/><rect x="658.04" y="272.54" width="2.2" height="2.2" fill="#fff" stroke="#000" stroke-width="1.5"/><rect x="661.16" y="279.62" width="2.2" height="2.2" fill="#fff" stroke="#000" stroke-width="1.5"/><rect x="664.28" y="270.77" width="2.2" height="2.2" fill="#fff" stroke="#000" stroke-width="1.5"/><rect x="667.4" y="284.93" width="2.2" height="2.2" fill="#fff" stroke="#000" stroke-width="1.5"/><rect x="670.52" y="284.93" width="2.2" height="2.2" fill="#fff" stroke="#000" stroke-width="1.5"/><rect x="673.64" y="286.7" width="2.2" height="2.2" fill="#fff" stroke="#000" stroke-width="1.5"/><polyline points="515.62,270.1 518.74,273.64 521.86,286.03 524.98,284.26 528.1,286.03 531.22,277.18 534.34,268.33 537.46,263.02 540.58,259.48 543.7,278.95 546.82,268.33 549.94,271.87 553.06,275.41 556.18,282.49 559.3,263.02 562.42,261.25 565.54,247.09 568.66,271.87 571.78,273.64 574.9,268.33 578.02,257.71 581.14,271.87 584.26,275.41 587.38,278.95 590.5,282.49 593.62,280.72 596.74,282.49 599.86,284.26 602.98,277.18 606.1,271.87 609.22,275.41 612.34,277.18 615.46,271.87 618.58,277.18 621.7,287.8 624.82,273.64 627.94,282.49 631.06,280.72 634.18,287.8 637.3,284.26 640.42,277.18 643.54,271.87 646.66,284.26 649.78,286.03 652.9,277.18 656.02,271.87 659.14,273.64 662.26,280.72 665.38,271.87 668.5,286.03 671.62,286.03 674.74,287.8" fill="none" stroke="#000" stroke-width="1.2" stroke-linejoin="round"/></g>
<g><text x="75.2" y="319.9" font-weight="bold" font-size="12.5" stroke="#000" stroke-width="0.35" textLength="119.9" lengthAdjust="spacingAndGlyphs">Parainfluenza 4 virus</text><path d="M41.1 326.4 V384.1 H224.16" fill="none" stroke="#2a2a2a" stroke-width="1.1"/><line x1="39.1" y1="384.1" x2="41.1" y2="384.1" stroke="#000" stroke-width="0.8"/><text x="38.9" y="385.6" font-size="4.4" font-weight="bold" stroke="#000" stroke-width="0.3" text-anchor="end">0</text><line x1="39.1" y1="372.56" x2="41.1" y2="372.56" stroke="#000" stroke-width="0.8"/><text x="38.9" y="374.06" font-size="4.4" font-weight="bold" stroke="#000" stroke-width="0.3" text-anchor="end">2</text><line x1="39.1" y1="361.02" x2="41.1" y2="361.02" stroke="#000" stroke-width="0.8"/><text x="38.9" y="362.52" font-size="4.4" font-weight="bold" stroke="#000" stroke-width="0.3" text-anchor="end">4</text><line x1="39.1" y1="349.48" x2="41.1" y2="349.48" stroke="#000" stroke-width="0.8"/><text x="38.9" y="350.98" font-size="4.4" font-weight="bold" stroke="#000" stroke-width="0.3" text-anchor="end">6</text><line x1="39.1" y1="337.94" x2="41.1" y2="337.94" stroke="#000" stroke-width="0.8"/><text x="38.9" y="339.44" font-size="4.4" font-weight="bold" stroke="#000" stroke-width="0.3" text-anchor="end">8</text><line x1="39.1" y1="326.4" x2="41.1" y2="326.4" stroke="#000" stroke-width="0.8"/><text x="38.9" y="327.9" font-size="4.4" font-weight="bold" stroke="#000" stroke-width="0.3" text-anchor="end">10</text><line x1="41.1" y1="384.1" x2="41.1" y2="385.6" stroke="#000" stroke-width="0.6"/><text x="41.1" y="390.2" font-size="3.6" font-weight="bold" stroke="#000" stroke-width="0.3" text-anchor="middle">0</text><line x1="47.88" y1="384.1" x2="47.88" y2="385.6" stroke="#000" stroke-width="0.6"/><text x="47.88" y="390.2" font-size="3.6" font-weight="bold" stroke="#000" stroke-width="0.3" text-anchor="middle">2</text><line x1="54.66" y1="384.1" x2="54.66" y2="385.6" stroke="#000" stroke-width="0.6"/><text x="54.66" y="390.2" font-size="3.6" font-weight="bold" stroke="#000" stroke-width="0.3" text-anchor="middle">4</text><line x1="61.44" y1="384.1" x2="61.44" y2="385.6" stroke="#000" stroke-width="0.6"/><text x="61.44" y="390.2" font-size="3.6" font-weight="bold" stroke="#000" stroke-width="0.3" text-anchor="middle">6</text><line x1="68.22" y1="384.1" x2="68.22" y2="385.6" stroke="#000" stroke-width="0.6"/><text x="68.22" y="390.2" font-size="3.6" font-weight="bold" stroke="#000" stroke-width="0.3" text-anchor="middle">8</text><line x1="75" y1="384.1" x2="75" y2="385.6" stroke="#000" stroke-width="0.6"/><text x="75" y="390.2" font-size="3.6" font-weight="bold" stroke="#000" stroke-width="0.3" text-anchor="middle">10</text><line x1="81.78" y1="384.1" x2="81.78" y2="385.6" stroke="#000" stroke-width="0.6"/><text x="81.78" y="390.2" font-size="3.6" font-weight="bold" stroke="#000" stroke-width="0.3" text-anchor="middle">12</text><line x1="88.56" y1="384.1" x2="88.56" y2="385.6" stroke="#000" stroke-width="0.6"/><text x="88.56" y="390.2" font-size="3.6" font-weight="bold" stroke="#000" stroke-width="0.3" text-anchor="middle">14</text><line x1="95.34" y1="384.1" x2="95.34" y2="385.6" stroke="#000" stroke-width="0.6"/><text x="95.34" y="390.2" font-size="3.6" font-weight="bold" stroke="#000" stroke-width="0.3" text-anchor="middle">16</text><line x1="102.12" y1="384.1" x2="102.12" y2="385.6" stroke="#000" stroke-width="0.6"/><text x="102.12" y="390.2" font-size="3.6" font-weight="bold" stroke="#000" stroke-width="0.3" text-anchor="middle">18</text><line x1="108.9" y1="384.1" x2="108.9" y2="385.6" stroke="#000" stroke-width="0.6"/><text x="108.9" y="390.2" font-size="3.6" font-weight="bold" stroke="#000" stroke-width="0.3" text-anchor="middle">20</text><line x1="115.68" y1="384.1" x2="115.68" y2="385.6" stroke="#000" stroke-width="0.6"/><text x="115.68" y="390.2" font-size="3.6" font-weight="bold" stroke="#000" stroke-width="0.3" text-anchor="middle">22</text><line x1="122.46" y1="384.1" x2="122.46" y2="385.6" stroke="#000" stroke-width="0.6"/><text x="122.46" y="390.2" font-size="3.6" font-weight="bold" stroke="#000" stroke-width="0.3" text-anchor="middle">24</text><line x1="129.24" y1="384.1" x2="129.24" y2="385.6" stroke="#000" stroke-width="0.6"/><text x="129.24" y="390.2" font-size="3.6" font-weight="bold" stroke="#000" stroke-width="0.3" text-anchor="middle">26</text><line x1="136.02" y1="384.1" x2="136.02" y2="385.6" stroke="#000" stroke-width="0.6"/><text x="136.02" y="390.2" font-size="3.6" font-weight="bold" stroke="#000" stroke-width="0.3" text-anchor="middle">28</text><line x1="142.8" y1="384.1" x2="142.8" y2="385.6" stroke="#000" stroke-width="0.6"/><text x="142.8" y="390.2" font-size="3.6" font-weight="bold" stroke="#000" stroke-width="0.3" text-anchor="middle">30</text><line x1="149.58" y1="384.1" x2="149.58" y2="385.6" stroke="#000" stroke-width="0.6"/><text x="149.58" y="390.2" font-size="3.6" font-weight="bold" stroke="#000" stroke-width="0.3" text-anchor="middle">32</text><line x1="156.36" y1="384.1" x2="156.36" y2="385.6" stroke="#000" stroke-width="0.6"/><text x="156.36" y="390.2" font-size="3.6" font-weight="bold" stroke="#000" stroke-width="0.3" text-anchor="middle">34</text><line x1="163.14" y1="384.1" x2="163.14" y2="385.6" stroke="#000" stroke-width="0.6"/><text x="163.14" y="390.2" font-size="3.6" font-weight="bold" stroke="#000" stroke-width="0.3" text-anchor="middle">36</text><line x1="169.92" y1="384.1" x2="169.92" y2="385.6" stroke="#000" stroke-width="0.6"/><text x="169.92" y="390.2" font-size="3.6" font-weight="bold" stroke="#000" stroke-width="0.3" text-anchor="middle">38</text><line x1="176.7" y1="384.1" x2="176.7" y2="385.6" stroke="#000" stroke-width="0.6"/><text x="176.7" y="390.2" font-size="3.6" font-weight="bold" stroke="#000" stroke-width="0.3" text-anchor="middle">40</text><line x1="183.48" y1="384.1" x2="183.48" y2="385.6" stroke="#000" stroke-width="0.6"/><text x="183.48" y="390.2" font-size="3.6" font-weight="bold" stroke="#000" stroke-width="0.3" text-anchor="middle">42</text><line x1="190.26" y1="384.1" x2="190.26" y2="385.6" stroke="#000" stroke-width="0.6"/><text x="190.26" y="390.2" font-size="3.6" font-weight="bold" stroke="#000" stroke-width="0.3" text-anchor="middle">44</text><line x1="197.04" y1="384.1" x2="197.04" y2="385.6" stroke="#000" stroke-width="0.6"/><text x="197.04" y="390.2" font-size="3.6" font-weight="bold" stroke="#000" stroke-width="0.3" text-anchor="middle">46</text><line x1="203.82" y1="384.1" x2="203.82" y2="385.6" stroke="#000" stroke-width="0.6"/><text x="203.82" y="390.2" font-size="3.6" font-weight="bold" stroke="#000" stroke-width="0.3" text-anchor="middle">48</text><line x1="210.6" y1="384.1" x2="210.6" y2="385.6" stroke="#000" stroke-width="0.6"/><text x="210.6" y="390.2" font-size="3.6" font-weight="bold" stroke="#000" stroke-width="0.3" text-anchor="middle">50</text><line x1="217.38" y1="384.1" x2="217.38" y2="385.6" stroke="#000" stroke-width="0.6"/><text x="217.38" y="390.2" font-size="3.6" font-weight="bold" stroke="#000" stroke-width="0.3" text-anchor="middle">52</text><line x1="224.16" y1="384.1" x2="224.16" y2="385.6" stroke="#000" stroke-width="0.6"/><text x="224.16" y="390.2" font-size="3.6" font-weight="bold" stroke="#000" stroke-width="0.3" text-anchor="middle">54</text><rect x="43.39" y="383" width="2.2" height="2.2" fill="#fff" stroke="#000" stroke-width="1.5"/><rect x="46.78" y="383" width="2.2" height="2.2" fill="#fff" stroke="#000" stroke-width="1.5"/><rect x="50.17" y="383" width="2.2" height="2.2" fill="#fff" stroke="#000" stroke-width="1.5"/><rect x="53.56" y="383" width="2.2" height="2.2" fill="#fff" stroke="#000" stroke-width="1.5"/><rect x="56.95" y="383" width="2.2" height="2.2" fill="#fff" stroke="#000" stroke-width="1.5"/><rect x="60.34" y="383" width="2.2" height="2.2" fill="#fff" stroke="#000" stroke-width="1.5"/><rect x="63.73" y="383" width="2.2" height="2.2" fill="#fff" stroke="#000" stroke-width="1.5"/><rect x="67.12" y="383" width="2.2" height="2.2" fill="#fff" stroke="#000" stroke-width="1.5"/><rect x="70.51" y="383" width="2.2" height="2.2" fill="#fff" stroke="#000" stroke-width="1.5"/><rect x="73.9" y="383" width="2.2" height="2.2" fill="#fff" stroke="#000" stroke-width="1.5"/><rect x="77.29" y="377.23" width="2.2" height="2.2" fill="#fff" stroke="#000" stroke-width="1.5"/><rect x="80.68" y="383" width="2.2" height="2.2" fill="#fff" stroke="#000" stroke-width="1.5"/><rect x="84.07" y="371.46" width="2.2" height="2.2" fill="#fff" stroke="#000" stroke-width="1.5"/><rect x="87.46" y="377.23" width="2.2" height="2.2" fill="#fff" stroke="#000" stroke-width="1.5"/><rect x="90.85" y="383" width="2.2" height="2.2" fill="#fff" stroke="#000" stroke-width="1.5"/><rect x="94.24" y="383" width="2.2" height="2.2" fill="#fff" stroke="#000" stroke-width="1.5"/><rect x="97.63" y="377.23" width="2.2" height="2.2" fill="#fff" stroke="#000" stroke-width="1.5"/><rect x="101.02" y="377.23" width="2.2" height="2.2" fill="#fff" stroke="#000" stroke-width="1.5"/><rect x="104.41" y="383" width="2.2" height="2.2" fill="#fff" stroke="#000" stroke-width="1.5"/><rect x="107.8" y="377.23" width="2.2" height="2.2" fill="#fff" stroke="#000" stroke-width="1.5"/><rect x="111.19" y="383" width="2.2" height="2.2" fill="#fff" stroke="#000" stroke-width="1.5"/><rect x="114.58" y="383" width="2.2" height="2.2" fill="#fff" stroke="#000" stroke-width="1.5"/><rect x="117.97" y="383" width="2.2" height="2.2" fill="#fff" stroke="#000" stroke-width="1.5"/><rect x="121.36" y="383" width="2.2" height="2.2" fill="#fff" stroke="#000" stroke-width="1.5"/><rect x="124.75" y="359.92" width="2.2" height="2.2" fill="#fff" stroke="#000" stroke-width="1.5"/><rect x="128.14" y="383" width="2.2" height="2.2" fill="#fff" stroke="#000" stroke-width="1.5"/><rect x="131.53" y="377.23" width="2.2" height="2.2" fill="#fff" stroke="#000" stroke-width="1.5"/><rect x="134.92" y="383" width="2.2" height="2.2" fill="#fff" stroke="#000" stroke-width="1.5"/><rect x="138.31" y="383" width="2.2" height="2.2" fill="#fff" stroke="#000" stroke-width="1.5"/><rect x="141.7" y="383" width="2.2" height="2.2" fill="#fff" stroke="#000" stroke-width="1.5"/><rect x="145.09" y="383" width="2.2" height="2.2" fill="#fff" stroke="#000" stroke-width="1.5"/><rect x="148.48" y="383" width="2.2" height="2.2" fill="#fff" stroke="#000" stroke-width="1.5"/><rect x="151.87" y="383" width="2.2" height="2.2" fill="#fff" stroke="#000" stroke-width="1.5"/><rect x="155.26" y="383" width="2.2" height="2.2" fill="#fff" stroke="#000" stroke-width="1.5"/><rect x="158.65" y="383" width="2.2" height="2.2" fill="#fff" stroke="#000" stroke-width="1.5"/><rect x="162.04" y="383" width="2.2" height="2.2" fill="#fff" stroke="#000" stroke-width="1.5"/><rect x="165.43" y="383" width="2.2" height="2.2" fill="#fff" stroke="#000" stroke-width="1.5"/><rect x="168.82" y="383" width="2.2" height="2.2" fill="#fff" stroke="#000" stroke-width="1.5"/><rect x="172.21" y="383" width="2.2" height="2.2" fill="#fff" stroke="#000" stroke-width="1.5"/><rect x="175.6" y="383" width="2.2" height="2.2" fill="#fff" stroke="#000" stroke-width="1.5"/><rect x="178.99" y="377.23" width="2.2" height="2.2" fill="#fff" stroke="#000" stroke-width="1.5"/><rect x="182.38" y="383" width="2.2" height="2.2" fill="#fff" stroke="#000" stroke-width="1.5"/><rect x="185.77" y="383" width="2.2" height="2.2" fill="#fff" stroke="#000" stroke-width="1.5"/><rect x="189.16" y="383" width="2.2" height="2.2" fill="#fff" stroke="#000" stroke-width="1.5"/><rect x="192.55" y="383" width="2.2" height="2.2" fill="#fff" stroke="#000" stroke-width="1.5"/><rect x="195.94" y="383" width="2.2" height="2.2" fill="#fff" stroke="#000" stroke-width="1.5"/><rect x="199.33" y="383" width="2.2" height="2.2" fill="#fff" stroke="#000" stroke-width="1.5"/><rect x="202.72" y="383" width="2.2" height="2.2" fill="#fff" stroke="#000" stroke-width="1.5"/><rect x="206.11" y="383" width="2.2" height="2.2" fill="#fff" stroke="#000" stroke-width="1.5"/><rect x="209.5" y="383" width="2.2" height="2.2" fill="#fff" stroke="#000" stroke-width="1.5"/><rect x="212.89" y="383" width="2.2" height="2.2" fill="#fff" stroke="#000" stroke-width="1.5"/><rect x="216.28" y="383" width="2.2" height="2.2" fill="#fff" stroke="#000" stroke-width="1.5"/><polyline points="44.49,384.1 47.88,384.1 51.27,384.1 54.66,384.1 58.05,384.1 61.44,384.1 64.83,384.1 68.22,384.1 71.61,384.1 75,384.1 78.39,378.33 81.78,384.1 85.17,372.56 88.56,378.33 91.95,384.1 95.34,384.1 98.73,378.33 102.12,378.33 105.51,384.1 108.9,378.33 112.29,384.1 115.68,384.1 119.07,384.1 122.46,384.1 125.85,361.02 129.24,384.1 132.63,378.33 136.02,384.1 139.41,384.1 142.8,384.1 146.19,384.1 149.58,384.1 152.97,384.1 156.36,384.1 159.75,384.1 163.14,384.1 166.53,384.1 169.92,384.1 173.31,384.1 176.7,384.1 180.09,378.33 183.48,384.1 186.87,384.1 190.26,384.1 193.65,384.1 197.04,384.1 200.43,384.1 203.82,384.1 207.21,384.1 210.6,384.1 213.99,384.1 217.38,384.1" fill="none" stroke="#000" stroke-width="1.2" stroke-linejoin="round"/></g>
<g><text x="315.7" y="319.4" font-weight="bold" font-size="12.5" stroke="#000" stroke-width="0.35" textLength="101.7" lengthAdjust="spacingAndGlyphs">Coronavirus NL63</text><path d="M280.2 325.3 V382.6 H462.72" fill="none" stroke="#2a2a2a" stroke-width="1.1"/><line x1="278.2" y1="382.6" x2="280.2" y2="382.6" stroke="#000" stroke-width="0.8"/><text x="278" y="384.1" font-size="4.4" font-weight="bold" stroke="#000" stroke-width="0.3" text-anchor="end">0</text><line x1="278.2" y1="371.14" x2="280.2" y2="371.14" stroke="#000" stroke-width="0.8"/><text x="278" y="372.64" font-size="4.4" font-weight="bold" stroke="#000" stroke-width="0.3" text-anchor="end">2</text><line x1="278.2" y1="359.68" x2="280.2" y2="359.68" stroke="#000" stroke-width="0.8"/><text x="278" y="361.18" font-size="4.4" font-weight="bold" stroke="#000" stroke-width="0.3" text-anchor="end">4</text><line x1="278.2" y1="348.22" x2="280.2" y2="348.22" stroke="#000" stroke-width="0.8"/><text x="278" y="349.72" font-size="4.4" font-weight="bold" stroke="#000" stroke-width="0.3" text-anchor="end">6</text><line x1="278.2" y1="336.76" x2="280.2" y2="336.76" stroke="#000" stroke-width="0.8"/><text x="278" y="338.26" font-size="4.4" font-weight="bold" stroke="#000" stroke-width="0.3" text-anchor="end">8</text><line x1="278.2" y1="325.3" x2="280.2" y2="325.3" stroke="#000" stroke-width="0.8"/><text x="278" y="326.8" font-size="4.4" font-weight="bold" stroke="#000" stroke-width="0.3" text-anchor="end">10</text><line x1="280.2" y1="382.6" x2="280.2" y2="384.1" stroke="#000" stroke-width="0.6"/><text x="280.2" y="388.7" font-size="3.6" font-weight="bold" stroke="#000" stroke-width="0.3" text-anchor="middle">0</text><line x1="286.96" y1="382.6" x2="286.96" y2="384.1" stroke="#000" stroke-width="0.6"/><text x="286.96" y="388.7" font-size="3.6" font-weight="bold" stroke="#000" stroke-width="0.3" text-anchor="middle">2</text><line x1="293.72" y1="382.6" x2="293.72" y2="384.1" stroke="#000" stroke-width="0.6"/><text x="293.72" y="388.7" font-size="3.6" font-weight="bold" stroke="#000" stroke-width="0.3" text-anchor="middle">4</text><line x1="300.48" y1="382.6" x2="300.48" y2="384.1" stroke="#000" stroke-width="0.6"/><text x="300.48" y="388.7" font-size="3.6" font-weight="bold" stroke="#000" stroke-width="0.3" text-anchor="middle">6</text><line x1="307.24" y1="382.6" x2="307.24" y2="384.1" stroke="#000" stroke-width="0.6"/><text x="307.24" y="388.7" font-size="3.6" font-weight="bold" stroke="#000" stroke-width="0.3" text-anchor="middle">8</text><line x1="314" y1="382.6" x2="314" y2="384.1" stroke="#000" stroke-width="0.6"/><text x="314" y="388.7" font-size="3.6" font-weight="bold" stroke="#000" stroke-width="0.3" text-anchor="middle">10</text><line x1="320.76" y1="382.6" x2="320.76" y2="384.1" stroke="#000" stroke-width="0.6"/><text x="320.76" y="388.7" font-size="3.6" font-weight="bold" stroke="#000" stroke-width="0.3" text-anchor="middle">12</text><line x1="327.52" y1="382.6" x2="327.52" y2="384.1" stroke="#000" stroke-width="0.6"/><text x="327.52" y="388.7" font-size="3.6" font-weight="bold" stroke="#000" stroke-width="0.3" text-anchor="middle">14</text><line x1="334.28" y1="382.6" x2="334.28" y2="384.1" stroke="#000" stroke-width="0.6"/><text x="334.28" y="388.7" font-size="3.6" font-weight="bold" stroke="#000" stroke-width="0.3" text-anchor="middle">16</text><line x1="341.04" y1="382.6" x2="341.04" y2="384.1" stroke="#000" stroke-width="0.6"/><text x="341.04" y="388.7" font-size="3.6" font-weight="bold" stroke="#000" stroke-width="0.3" text-anchor="middle">18</text><line x1="347.8" y1="382.6" x2="347.8" y2="384.1" stroke="#000" stroke-width="0.6"/><text x="347.8" y="388.7" font-size="3.6" font-weight="bold" stroke="#000" stroke-width="0.3" text-anchor="middle">20</text><line x1="354.56" y1="382.6" x2="354.56" y2="384.1" stroke="#000" stroke-width="0.6"/><text x="354.56" y="388.7" font-size="3.6" font-weight="bold" stroke="#000" stroke-width="0.3" text-anchor="middle">22</text><line x1="361.32" y1="382.6" x2="361.32" y2="384.1" stroke="#000" stroke-width="0.6"/><text x="361.32" y="388.7" font-size="3.6" font-weight="bold" stroke="#000" stroke-width="0.3" text-anchor="middle">24</text><line x1="368.08" y1="382.6" x2="368.08" y2="384.1" stroke="#000" stroke-width="0.6"/><text x="368.08" y="388.7" font-size="3.6" font-weight="bold" stroke="#000" stroke-width="0.3" text-anchor="middle">26</text><line x1="374.84" y1="382.6" x2="374.84" y2="384.1" stroke="#000" stroke-width="0.6"/><text x="374.84" y="388.7" font-size="3.6" font-weight="bold" stroke="#000" stroke-width="0.3" text-anchor="middle">28</text><line x1="381.6" y1="382.6" x2="381.6" y2="384.1" stroke="#000" stroke-width="0.6"/><text x="381.6" y="388.7" font-size="3.6" font-weight="bold" stroke="#000" stroke-width="0.3" text-anchor="middle">30</text><line x1="388.36" y1="382.6" x2="388.36" y2="384.1" stroke="#000" stroke-width="0.6"/><text x="388.36" y="388.7" font-size="3.6" font-weight="bold" stroke="#000" stroke-width="0.3" text-anchor="middle">32</text><line x1="395.12" y1="382.6" x2="395.12" y2="384.1" stroke="#000" stroke-width="0.6"/><text x="395.12" y="388.7" font-size="3.6" font-weight="bold" stroke="#000" stroke-width="0.3" text-anchor="middle">34</text><line x1="401.88" y1="382.6" x2="401.88" y2="384.1" stroke="#000" stroke-width="0.6"/><text x="401.88" y="388.7" font-size="3.6" font-weight="bold" stroke="#000" stroke-width="0.3" text-anchor="middle">36</text><line x1="408.64" y1="382.6" x2="408.64" y2="384.1" stroke="#000" stroke-width="0.6"/><text x="408.64" y="388.7" font-size="3.6" font-weight="bold" stroke="#000" stroke-width="0.3" text-anchor="middle">38</text><line x1="415.4" y1="382.6" x2="415.4" y2="384.1" stroke="#000" stroke-width="0.6"/><text x="415.4" y="388.7" font-size="3.6" font-weight="bold" stroke="#000" stroke-width="0.3" text-anchor="middle">40</text><line x1="422.16" y1="382.6" x2="422.16" y2="384.1" stroke="#000" stroke-width="0.6"/><text x="422.16" y="388.7" font-size="3.6" font-weight="bold" stroke="#000" stroke-width="0.3" text-anchor="middle">42</text><line x1="428.92" y1="382.6" x2="428.92" y2="384.1" stroke="#000" stroke-width="0.6"/><text x="428.92" y="388.7" font-size="3.6" font-weight="bold" stroke="#000" stroke-width="0.3" text-anchor="middle">44</text><line x1="435.68" y1="382.6" x2="435.68" y2="384.1" stroke="#000" stroke-width="0.6"/><text x="435.68" y="388.7" font-size="3.6" font-weight="bold" stroke="#000" stroke-width="0.3" text-anchor="middle">46</text><line x1="442.44" y1="382.6" x2="442.44" y2="384.1" stroke="#000" stroke-width="0.6"/><text x="442.44" y="388.7" font-size="3.6" font-weight="bold" stroke="#000" stroke-width="0.3" text-anchor="middle">48</text><line x1="449.2" y1="382.6" x2="449.2" y2="384.1" stroke="#000" stroke-width="0.6"/><text x="449.2" y="388.7" font-size="3.6" font-weight="bold" stroke="#000" stroke-width="0.3" text-anchor="middle">50</text><line x1="455.96" y1="382.6" x2="455.96" y2="384.1" stroke="#000" stroke-width="0.6"/><text x="455.96" y="388.7" font-size="3.6" font-weight="bold" stroke="#000" stroke-width="0.3" text-anchor="middle">52</text><line x1="462.72" y1="382.6" x2="462.72" y2="384.1" stroke="#000" stroke-width="0.6"/><text x="462.72" y="388.7" font-size="3.6" font-weight="bold" stroke="#000" stroke-width="0.3" text-anchor="middle">54</text><line x1="280.2" y1="378.4" x2="462.72" y2="378.4" stroke="#808080" stroke-width="1.5"/><rect x="282.48" y="381.5" width="2.2" height="2.2" fill="#fff" stroke="#000" stroke-width="1.5"/><rect x="285.86" y="381.5" width="2.2" height="2.2" fill="#fff" stroke="#000" stroke-width="1.5"/><rect x="289.24" y="381.5" width="2.2" height="2.2" fill="#fff" stroke="#000" stroke-width="1.5"/><rect x="292.62" y="381.5" width="2.2" height="2.2" fill="#fff" stroke="#000" stroke-width="1.5"/><rect x="296" y="381.5" width="2.2" height="2.2" fill="#fff" stroke="#000" stroke-width="1.5"/><rect x="299.38" y="381.5" width="2.2" height="2.2" fill="#fff" stroke="#000" stroke-width="1.5"/><rect x="302.76" y="381.5" width="2.2" height="2.2" fill="#fff" stroke="#000" stroke-width="1.5"/><rect x="306.14" y="381.5" width="2.2" height="2.2" fill="#fff" stroke="#000" stroke-width="1.5"/><rect x="309.52" y="381.5" width="2.2" height="2.2" fill="#fff" stroke="#000" stroke-width="1.5"/><rect x="312.9" y="375.77" width="2.2" height="2.2" fill="#fff" stroke="#000" stroke-width="1.5"/><rect x="316.28" y="381.5" width="2.2" height="2.2" fill="#fff" stroke="#000" stroke-width="1.5"/><rect x="319.66" y="370.04" width="2.2" height="2.2" fill="#fff" stroke="#000" stroke-width="1.5"/><rect x="323.04" y="381.5" width="2.2" height="2.2" fill="#fff" stroke="#000" stroke-width="1.5"/><rect x="326.42" y="381.5" width="2.2" height="2.2" fill="#fff" stroke="#000" stroke-width="1.5"/><rect x="329.8" y="381.5" width="2.2" height="2.2" fill="#fff" stroke="#000" stroke-width="1.5"/><rect x="333.18" y="381.5" width="2.2" height="2.2" fill="#fff" stroke="#000" stroke-width="1.5"/><rect x="336.56" y="381.5" width="2.2" height="2.2" fill="#fff" stroke="#000" stroke-width="1.5"/><rect x="339.94" y="381.5" width="2.2" height="2.2" fill="#fff" stroke="#000" stroke-width="1.5"/><rect x="343.32" y="381.5" width="2.2" height="2.2" fill="#fff" stroke="#000" stroke-width="1.5"/><rect x="346.7" y="381.5" width="2.2" height="2.2" fill="#fff" stroke="#000" stroke-width="1.5"/><rect x="350.08" y="375.77" width="2.2" height="2.2" fill="#fff" stroke="#000" stroke-width="1.5"/><rect x="353.46" y="381.5" width="2.2" height="2.2" fill="#fff" stroke="#000" stroke-width="1.5"/><rect x="356.84" y="381.5" width="2.2" height="2.2" fill="#fff" stroke="#000" stroke-width="1.5"/><rect x="360.22" y="381.5" width="2.2" height="2.2" fill="#fff" stroke="#000" stroke-width="1.5"/><rect x="363.6" y="381.5" width="2.2" height="2.2" fill="#fff" stroke="#000" stroke-width="1.5"/><rect x="366.98" y="381.5" width="2.2" height="2.2" fill="#fff" stroke="#000" stroke-width="1.5"/><rect x="370.36" y="381.5" width="2.2" height="2.2" fill="#fff" stroke="#000" stroke-width="1.5"/><rect x="373.74" y="381.5" width="2.2" height="2.2" fill="#fff" stroke="#000" stroke-width="1.5"/><rect x="377.12" y="381.5" width="2.2" height="2.2" fill="#fff" stroke="#000" stroke-width="1.5"/><rect x="380.5" y="381.5" width="2.2" height="2.2" fill="#fff" stroke="#000" stroke-width="1.5"/><rect x="383.88" y="375.77" width="2.2" height="2.2" fill="#fff" stroke="#000" stroke-width="1.5"/><rect x="387.26" y="381.5" width="2.2" height="2.2" fill="#fff" stroke="#000" stroke-width="1.5"/><rect x="390.64" y="381.5" width="2.2" height="2.2" fill="#fff" stroke="#000" stroke-width="1.5"/><rect x="394.02" y="381.5" width="2.2" height="2.2" fill="#fff" stroke="#000" stroke-width="1.5"/><rect x="397.4" y="381.5" width="2.2" height="2.2" fill="#fff" stroke="#000" stroke-width="1.5"/><rect x="400.78" y="381.5" width="2.2" height="2.2" fill="#fff" stroke="#000" stroke-width="1.5"/><rect x="404.16" y="381.5" width="2.2" height="2.2" fill="#fff" stroke="#000" stroke-width="1.5"/><rect x="407.54" y="381.5" width="2.2" height="2.2" fill="#fff" stroke="#000" stroke-width="1.5"/><rect x="410.92" y="381.5" width="2.2" height="2.2" fill="#fff" stroke="#000" stroke-width="1.5"/><rect x="414.3" y="381.5" width="2.2" height="2.2" fill="#fff" stroke="#000" stroke-width="1.5"/><rect x="417.68" y="381.5" width="2.2" height="2.2" fill="#fff" stroke="#000" stroke-width="1.5"/><rect x="421.06" y="370.04" width="2.2" height="2.2" fill="#fff" stroke="#000" stroke-width="1.5"/><rect x="424.44" y="381.5" width="2.2" height="2.2" fill="#fff" stroke="#000" stroke-width="1.5"/><rect x="427.82" y="381.5" width="2.2" height="2.2" fill="#fff" stroke="#000" stroke-width="1.5"/><rect x="431.2" y="381.5" width="2.2" height="2.2" fill="#fff" stroke="#000" stroke-width="1.5"/><rect x="434.58" y="381.5" width="2.2" height="2.2" fill="#fff" stroke="#000" stroke-width="1.5"/><rect x="437.96" y="370.04" width="2.2" height="2.2" fill="#fff" stroke="#000" stroke-width="1.5"/><rect x="441.34" y="375.77" width="2.2" height="2.2" fill="#fff" stroke="#000" stroke-width="1.5"/><rect x="444.72" y="381.5" width="2.2" height="2.2" fill="#fff" stroke="#000" stroke-width="1.5"/><rect x="448.1" y="381.5" width="2.2" height="2.2" fill="#fff" stroke="#000" stroke-width="1.5"/><rect x="451.48" y="381.5" width="2.2" height="2.2" fill="#fff" stroke="#000" stroke-width="1.5"/><rect x="454.86" y="381.5" width="2.2" height="2.2" fill="#fff" stroke="#000" stroke-width="1.5"/><polyline points="283.58,382.6 286.96,382.6 290.34,382.6 293.72,382.6 297.1,382.6 300.48,382.6 303.86,382.6 307.24,382.6 310.62,382.6 314,376.87 317.38,382.6 320.76,371.14 324.14,382.6 327.52,382.6 330.9,382.6 334.28,382.6 337.66,382.6 341.04,382.6 344.42,382.6 347.8,382.6 351.18,376.87 354.56,382.6 357.94,382.6 361.32,382.6 364.7,382.6 368.08,382.6 371.46,382.6 374.84,382.6 378.22,382.6 381.6,382.6 384.98,376.87 388.36,382.6 391.74,382.6 395.12,382.6 398.5,382.6 401.88,382.6 405.26,382.6 408.64,382.6 412.02,382.6 415.4,382.6 418.78,382.6 422.16,371.14 425.54,382.6 428.92,382.6 432.3,382.6 435.68,382.6 439.06,371.14 442.44,376.87 445.82,382.6 449.2,382.6 452.58,382.6 455.96,382.6" fill="none" stroke="#000" stroke-width="1.2" stroke-linejoin="round"/></g>
<g><text x="557" y="319.4" font-weight="bold" font-size="12.5" stroke="#000" stroke-width="0.35" textLength="104.4" lengthAdjust="spacingAndGlyphs">Coronavirus OC43</text><path d="M512.8 326.5 V380.4 H681.82" fill="none" stroke="#2a2a2a" stroke-width="1.1"/><line x1="510.8" y1="380.4" x2="512.8" y2="380.4" stroke="#000" stroke-width="0.8"/><text x="510.6" y="381.9" font-size="4.4" font-weight="bold" stroke="#000" stroke-width="0.3" text-anchor="end">0</text><line x1="510.8" y1="369.62" x2="512.8" y2="369.62" stroke="#000" stroke-width="0.8"/><text x="510.6" y="371.12" font-size="4.4" font-weight="bold" stroke="#000" stroke-width="0.3" text-anchor="end">2</text><line x1="510.8" y1="358.84" x2="512.8" y2="358.84" stroke="#000" stroke-width="0.8"/><text x="510.6" y="360.34" font-size="4.4" font-weight="bold" stroke="#000" stroke-width="0.3" text-anchor="end">4</text><line x1="510.8" y1="348.06" x2="512.8" y2="348.06" stroke="#000" stroke-width="0.8"/><text x="510.6" y="349.56" font-size="4.4" font-weight="bold" stroke="#000" stroke-width="0.3" text-anchor="end">6</text><line x1="510.8" y1="337.28" x2="512.8" y2="337.28" stroke="#000" stroke-width="0.8"/><text x="510.6" y="338.78" font-size="4.4" font-weight="bold" stroke="#000" stroke-width="0.3" text-anchor="end">8</text><line x1="510.8" y1="326.5" x2="512.8" y2="326.5" stroke="#000" stroke-width="0.8"/><text x="510.6" y="328" font-size="4.4" font-weight="bold" stroke="#000" stroke-width="0.3" text-anchor="end">10</text><line x1="512.8" y1="380.4" x2="512.8" y2="381.9" stroke="#000" stroke-width="0.6"/><text x="512.8" y="386.5" font-size="3.6" font-weight="bold" stroke="#000" stroke-width="0.3" text-anchor="middle">0</text><line x1="519.06" y1="380.4" x2="519.06" y2="381.9" stroke="#000" stroke-width="0.6"/><text x="519.06" y="386.5" font-size="3.6" font-weight="bold" stroke="#000" stroke-width="0.3" text-anchor="middle">2</text><line x1="525.32" y1="380.4" x2="525.32" y2="381.9" stroke="#000" stroke-width="0.6"/><text x="525.32" y="386.5" font-size="3.6" font-weight="bold" stroke="#000" stroke-width="0.3" text-anchor="middle">4</text><line x1="531.58" y1="380.4" x2="531.58" y2="381.9" stroke="#000" stroke-width="0.6"/><text x="531.58" y="386.5" font-size="3.6" font-weight="bold" stroke="#000" stroke-width="0.3" text-anchor="middle">6</text><line x1="537.84" y1="380.4" x2="537.84" y2="381.9" stroke="#000" stroke-width="0.6"/><text x="537.84" y="386.5" font-size="3.6" font-weight="bold" stroke="#000" stroke-width="0.3" text-anchor="middle">8</text><line x1="544.1" y1="380.4" x2="544.1" y2="381.9" stroke="#000" stroke-width="0.6"/><text x="544.1" y="386.5" font-size="3.6" font-weight="bold" stroke="#000" stroke-width="0.3" text-anchor="middle">10</text><line x1="550.36" y1="380.4" x2="550.36" y2="381.9" stroke="#000" stroke-width="0.6"/><text x="550.36" y="386.5" font-size="3.6" font-weight="bold" stroke="#000" stroke-width="0.3" text-anchor="middle">12</text><line x1="556.62" y1="380.4" x2="556.62" y2="381.9" stroke="#000" stroke-width="0.6"/><text x="556.62" y="386.5" font-size="3.6" font-weight="bold" stroke="#000" stroke-width="0.3" text-anchor="middle">14</text><line x1="562.88" y1="380.4" x2="562.88" y2="381.9" stroke="#000" stroke-width="0.6"/><text x="562.88" y="386.5" font-size="3.6" font-weight="bold" stroke="#000" stroke-width="0.3" text-anchor="middle">16</text><line x1="569.14" y1="380.4" x2="569.14" y2="381.9" stroke="#000" stroke-width="0.6"/><text x="569.14" y="386.5" font-size="3.6" font-weight="bold" stroke="#000" stroke-width="0.3" text-anchor="middle">18</text><line x1="575.4" y1="380.4" x2="575.4" y2="381.9" stroke="#000" stroke-width="0.6"/><text x="575.4" y="386.5" font-size="3.6" font-weight="bold" stroke="#000" stroke-width="0.3" text-anchor="middle">20</text><line x1="581.66" y1="380.4" x2="581.66" y2="381.9" stroke="#000" stroke-width="0.6"/><text x="581.66" y="386.5" font-size="3.6" font-weight="bold" stroke="#000" stroke-width="0.3" text-anchor="middle">22</text><line x1="587.92" y1="380.4" x2="587.92" y2="381.9" stroke="#000" stroke-width="0.6"/><text x="587.92" y="386.5" font-size="3.6" font-weight="bold" stroke="#000" stroke-width="0.3" text-anchor="middle">24</text><line x1="594.18" y1="380.4" x2="594.18" y2="381.9" stroke="#000" stroke-width="0.6"/><text x="594.18" y="386.5" font-size="3.6" font-weight="bold" stroke="#000" stroke-width="0.3" text-anchor="middle">26</text><line x1="600.44" y1="380.4" x2="600.44" y2="381.9" stroke="#000" stroke-width="0.6"/><text x="600.44" y="386.5" font-size="3.6" font-weight="bold" stroke="#000" stroke-width="0.3" text-anchor="middle">28</text><line x1="606.7" y1="380.4" x2="606.7" y2="381.9" stroke="#000" stroke-width="0.6"/><text x="606.7" y="386.5" font-size="3.6" font-weight="bold" stroke="#000" stroke-width="0.3" text-anchor="middle">30</text><line x1="612.96" y1="380.4" x2="612.96" y2="381.9" stroke="#000" stroke-width="0.6"/><text x="612.96" y="386.5" font-size="3.6" font-weight="bold" stroke="#000" stroke-width="0.3" text-anchor="middle">32</text><line x1="619.22" y1="380.4" x2="619.22" y2="381.9" stroke="#000" stroke-width="0.6"/><text x="619.22" y="386.5" font-size="3.6" font-weight="bold" stroke="#000" stroke-width="0.3" text-anchor="middle">34</text><line x1="625.48" y1="380.4" x2="625.48" y2="381.9" stroke="#000" stroke-width="0.6"/><text x="625.48" y="386.5" font-size="3.6" font-weight="bold" stroke="#000" stroke-width="0.3" text-anchor="middle">36</text><line x1="631.74" y1="380.4" x2="631.74" y2="381.9" stroke="#000" stroke-width="0.6"/><text x="631.74" y="386.5" font-size="3.6" font-weight="bold" stroke="#000" stroke-width="0.3" text-anchor="middle">38</text><line x1="638" y1="380.4" x2="638" y2="381.9" stroke="#000" stroke-width="0.6"/><text x="638" y="386.5" font-size="3.6" font-weight="bold" stroke="#000" stroke-width="0.3" text-anchor="middle">40</text><line x1="644.26" y1="380.4" x2="644.26" y2="381.9" stroke="#000" stroke-width="0.6"/><text x="644.26" y="386.5" font-size="3.6" font-weight="bold" stroke="#000" stroke-width="0.3" text-anchor="middle">42</text><line x1="650.52" y1="380.4" x2="650.52" y2="381.9" stroke="#000" stroke-width="0.6"/><text x="650.52" y="386.5" font-size="3.6" font-weight="bold" stroke="#000" stroke-width="0.3" text-anchor="middle">44</text><line x1="656.78" y1="380.4" x2="656.78" y2="381.9" stroke="#000" stroke-width="0.6"/><text x="656.78" y="386.5" font-size="3.6" font-weight="bold" stroke="#000" stroke-width="0.3" text-anchor="middle">46</text><line x1="663.04" y1="380.4" x2="663.04" y2="381.9" stroke="#000" stroke-width="0.6"/><text x="663.04" y="386.5" font-size="3.6" font-weight="bold" stroke="#000" stroke-width="0.3" text-anchor="middle">48</text><line x1="669.3" y1="380.4" x2="669.3" y2="381.9" stroke="#000" stroke-width="0.6"/><text x="669.3" y="386.5" font-size="3.6" font-weight="bold" stroke="#000" stroke-width="0.3" text-anchor="middle">50</text><line x1="675.56" y1="380.4" x2="675.56" y2="381.9" stroke="#000" stroke-width="0.6"/><text x="675.56" y="386.5" font-size="3.6" font-weight="bold" stroke="#000" stroke-width="0.3" text-anchor="middle">52</text><line x1="681.82" y1="380.4" x2="681.82" y2="381.9" stroke="#000" stroke-width="0.6"/><text x="681.82" y="386.5" font-size="3.6" font-weight="bold" stroke="#000" stroke-width="0.3" text-anchor="middle">54</text><line x1="512.8" y1="374.3" x2="681.82" y2="374.3" stroke="#000" stroke-width="1.2"/><rect x="514.83" y="373.91" width="2.2" height="2.2" fill="#fff" stroke="#000" stroke-width="1.5"/><rect x="517.96" y="379.3" width="2.2" height="2.2" fill="#fff" stroke="#000" stroke-width="1.5"/><rect x="521.09" y="379.3" width="2.2" height="2.2" fill="#fff" stroke="#000" stroke-width="1.5"/><rect x="524.22" y="379.3" width="2.2" height="2.2" fill="#fff" stroke="#000" stroke-width="1.5"/><rect x="527.35" y="379.3" width="2.2" height="2.2" fill="#fff" stroke="#000" stroke-width="1.5"/><rect x="530.48" y="379.3" width="2.2" height="2.2" fill="#fff" stroke="#000" stroke-width="1.5"/><rect x="533.61" y="379.3" width="2.2" height="2.2" fill="#fff" stroke="#000" stroke-width="1.5"/><rect x="536.74" y="379.3" width="2.2" height="2.2" fill="#fff" stroke="#000" stroke-width="1.5"/><rect x="539.87" y="379.3" width="2.2" height="2.2" fill="#fff" stroke="#000" stroke-width="1.5"/><rect x="543" y="379.3" width="2.2" height="2.2" fill="#fff" stroke="#000" stroke-width="1.5"/><rect x="546.13" y="379.3" width="2.2" height="2.2" fill="#fff" stroke="#000" stroke-width="1.5"/><rect x="549.26" y="373.91" width="2.2" height="2.2" fill="#fff" stroke="#000" stroke-width="1.5"/><rect x="552.39" y="379.3" width="2.2" height="2.2" fill="#fff" stroke="#000" stroke-width="1.5"/><rect x="555.52" y="379.3" width="2.2" height="2.2" fill="#fff" stroke="#000" stroke-width="1.5"/><rect x="558.65" y="379.3" width="2.2" height="2.2" fill="#fff" stroke="#000" stroke-width="1.5"/><rect x="561.78" y="379.3" width="2.2" height="2.2" fill="#fff" stroke="#000" stroke-width="1.5"/><rect x="564.91" y="379.3" width="2.2" height="2.2" fill="#fff" stroke="#000" stroke-width="1.5"/><rect x="568.04" y="379.3" width="2.2" height="2.2" fill="#fff" stroke="#000" stroke-width="1.5"/><rect x="571.17" y="373.91" width="2.2" height="2.2" fill="#fff" stroke="#000" stroke-width="1.5"/><rect x="574.3" y="368.52" width="2.2" height="2.2" fill="#fff" stroke="#000" stroke-width="1.5"/><rect x="577.43" y="373.91" width="2.2" height="2.2" fill="#fff" stroke="#000" stroke-width="1.5"/><rect x="580.56" y="357.74" width="2.2" height="2.2" fill="#fff" stroke="#000" stroke-width="1.5"/><rect x="583.69" y="379.3" width="2.2" height="2.2" fill="#fff" stroke="#000" stroke-width="1.5"/><rect x="586.82" y="368.52" width="2.2" height="2.2" fill="#fff" stroke="#000" stroke-width="1.5"/><rect x="589.95" y="379.3" width="2.2" height="2.2" fill="#fff" stroke="#000" stroke-width="1.5"/><rect x="593.08" y="379.3" width="2.2" height="2.2" fill="#fff" stroke="#000" stroke-width="1.5"/><rect x="596.21" y="373.91" width="2.2" height="2.2" fill="#fff" stroke="#000" stroke-width="1.5"/><rect x="599.34" y="379.3" width="2.2" height="2.2" fill="#fff" stroke="#000" stroke-width="1.5"/><rect x="602.47" y="379.3" width="2.2" height="2.2" fill="#fff" stroke="#000" stroke-width="1.5"/><rect x="605.6" y="379.3" width="2.2" height="2.2" fill="#fff" stroke="#000" stroke-width="1.5"/><rect x="608.73" y="379.3" width="2.2" height="2.2" fill="#fff" stroke="#000" stroke-width="1.5"/><rect x="611.86" y="379.3" width="2.2" height="2.2" fill="#fff" stroke="#000" stroke-width="1.5"/><rect x="614.99" y="379.3" width="2.2" height="2.2" fill="#fff" stroke="#000" stroke-width="1.5"/><rect x="618.12" y="379.3" width="2.2" height="2.2" fill="#fff" stroke="#000" stroke-width="1.5"/><rect x="621.25" y="379.3" width="2.2" height="2.2" fill="#fff" stroke="#000" stroke-width="1.5"/><rect x="624.38" y="379.3" width="2.2" height="2.2" fill="#fff" stroke="#000" stroke-width="1.5"/><rect x="627.51" y="379.3" width="2.2" height="2.2" fill="#fff" stroke="#000" stroke-width="1.5"/><rect x="630.64" y="379.3" width="2.2" height="2.2" fill="#fff" stroke="#000" stroke-width="1.5"/><rect x="633.77" y="379.3" width="2.2" height="2.2" fill="#fff" stroke="#000" stroke-width="1.5"/><rect x="636.9" y="379.3" width="2.2" height="2.2" fill="#fff" stroke="#000" stroke-width="1.5"/><rect x="640.03" y="379.3" width="2.2" height="2.2" fill="#fff" stroke="#000" stroke-width="1.5"/><rect x="643.16" y="379.3" width="2.2" height="2.2" fill="#fff" stroke="#000" stroke-width="1.5"/><rect x="646.29" y="379.3" width="2.2" height="2.2" fill="#fff" stroke="#000" stroke-width="1.5"/><rect x="649.42" y="379.3" width="2.2" height="2.2" fill="#fff" stroke="#000" stroke-width="1.5"/><rect x="652.55" y="379.3" width="2.2" height="2.2" fill="#fff" stroke="#000" stroke-width="1.5"/><rect x="655.68" y="379.3" width="2.2" height="2.2" fill="#fff" stroke="#000" stroke-width="1.5"/><rect x="658.81" y="379.3" width="2.2" height="2.2" fill="#fff" stroke="#000" stroke-width="1.5"/><rect x="661.94" y="379.3" width="2.2" height="2.2" fill="#fff" stroke="#000" stroke-width="1.5"/><rect x="665.07" y="379.3" width="2.2" height="2.2" fill="#fff" stroke="#000" stroke-width="1.5"/><rect x="668.2" y="379.3" width="2.2" height="2.2" fill="#fff" stroke="#000" stroke-width="1.5"/><rect x="671.33" y="363.13" width="2.2" height="2.2" fill="#fff" stroke="#000" stroke-width="1.5"/><rect x="674.46" y="379.3" width="2.2" height="2.2" fill="#fff" stroke="#000" stroke-width="1.5"/><polyline points="515.93,375.01 519.06,380.4 522.19,380.4 525.32,380.4 528.45,380.4 531.58,380.4 534.71,380.4 537.84,380.4 540.97,380.4 544.1,380.4 547.23,380.4 550.36,375.01 553.49,380.4 556.62,380.4 559.75,380.4 562.88,380.4 566.01,380.4 569.14,380.4 572.27,375.01 575.4,369.62 578.53,375.01 581.66,358.84 584.79,380.4 587.92,369.62 591.05,380.4 594.18,380.4 597.31,375.01 600.44,380.4 603.57,380.4 606.7,380.4 609.83,380.4 612.96,380.4 616.09,380.4 619.22,380.4 622.35,380.4 625.48,380.4 628.61,380.4 631.74,380.4 634.87,380.4 638,380.4 641.13,380.4 644.26,380.4 647.39,380.4 650.52,380.4 653.65,380.4 656.78,380.4 659.91,380.4 663.04,380.4 666.17,380.4 669.3,380.4 672.43,364.23 675.56,380.4" fill="none" stroke="#000" stroke-width="1.2" stroke-linejoin="round"/></g>
</svg></body></html>
